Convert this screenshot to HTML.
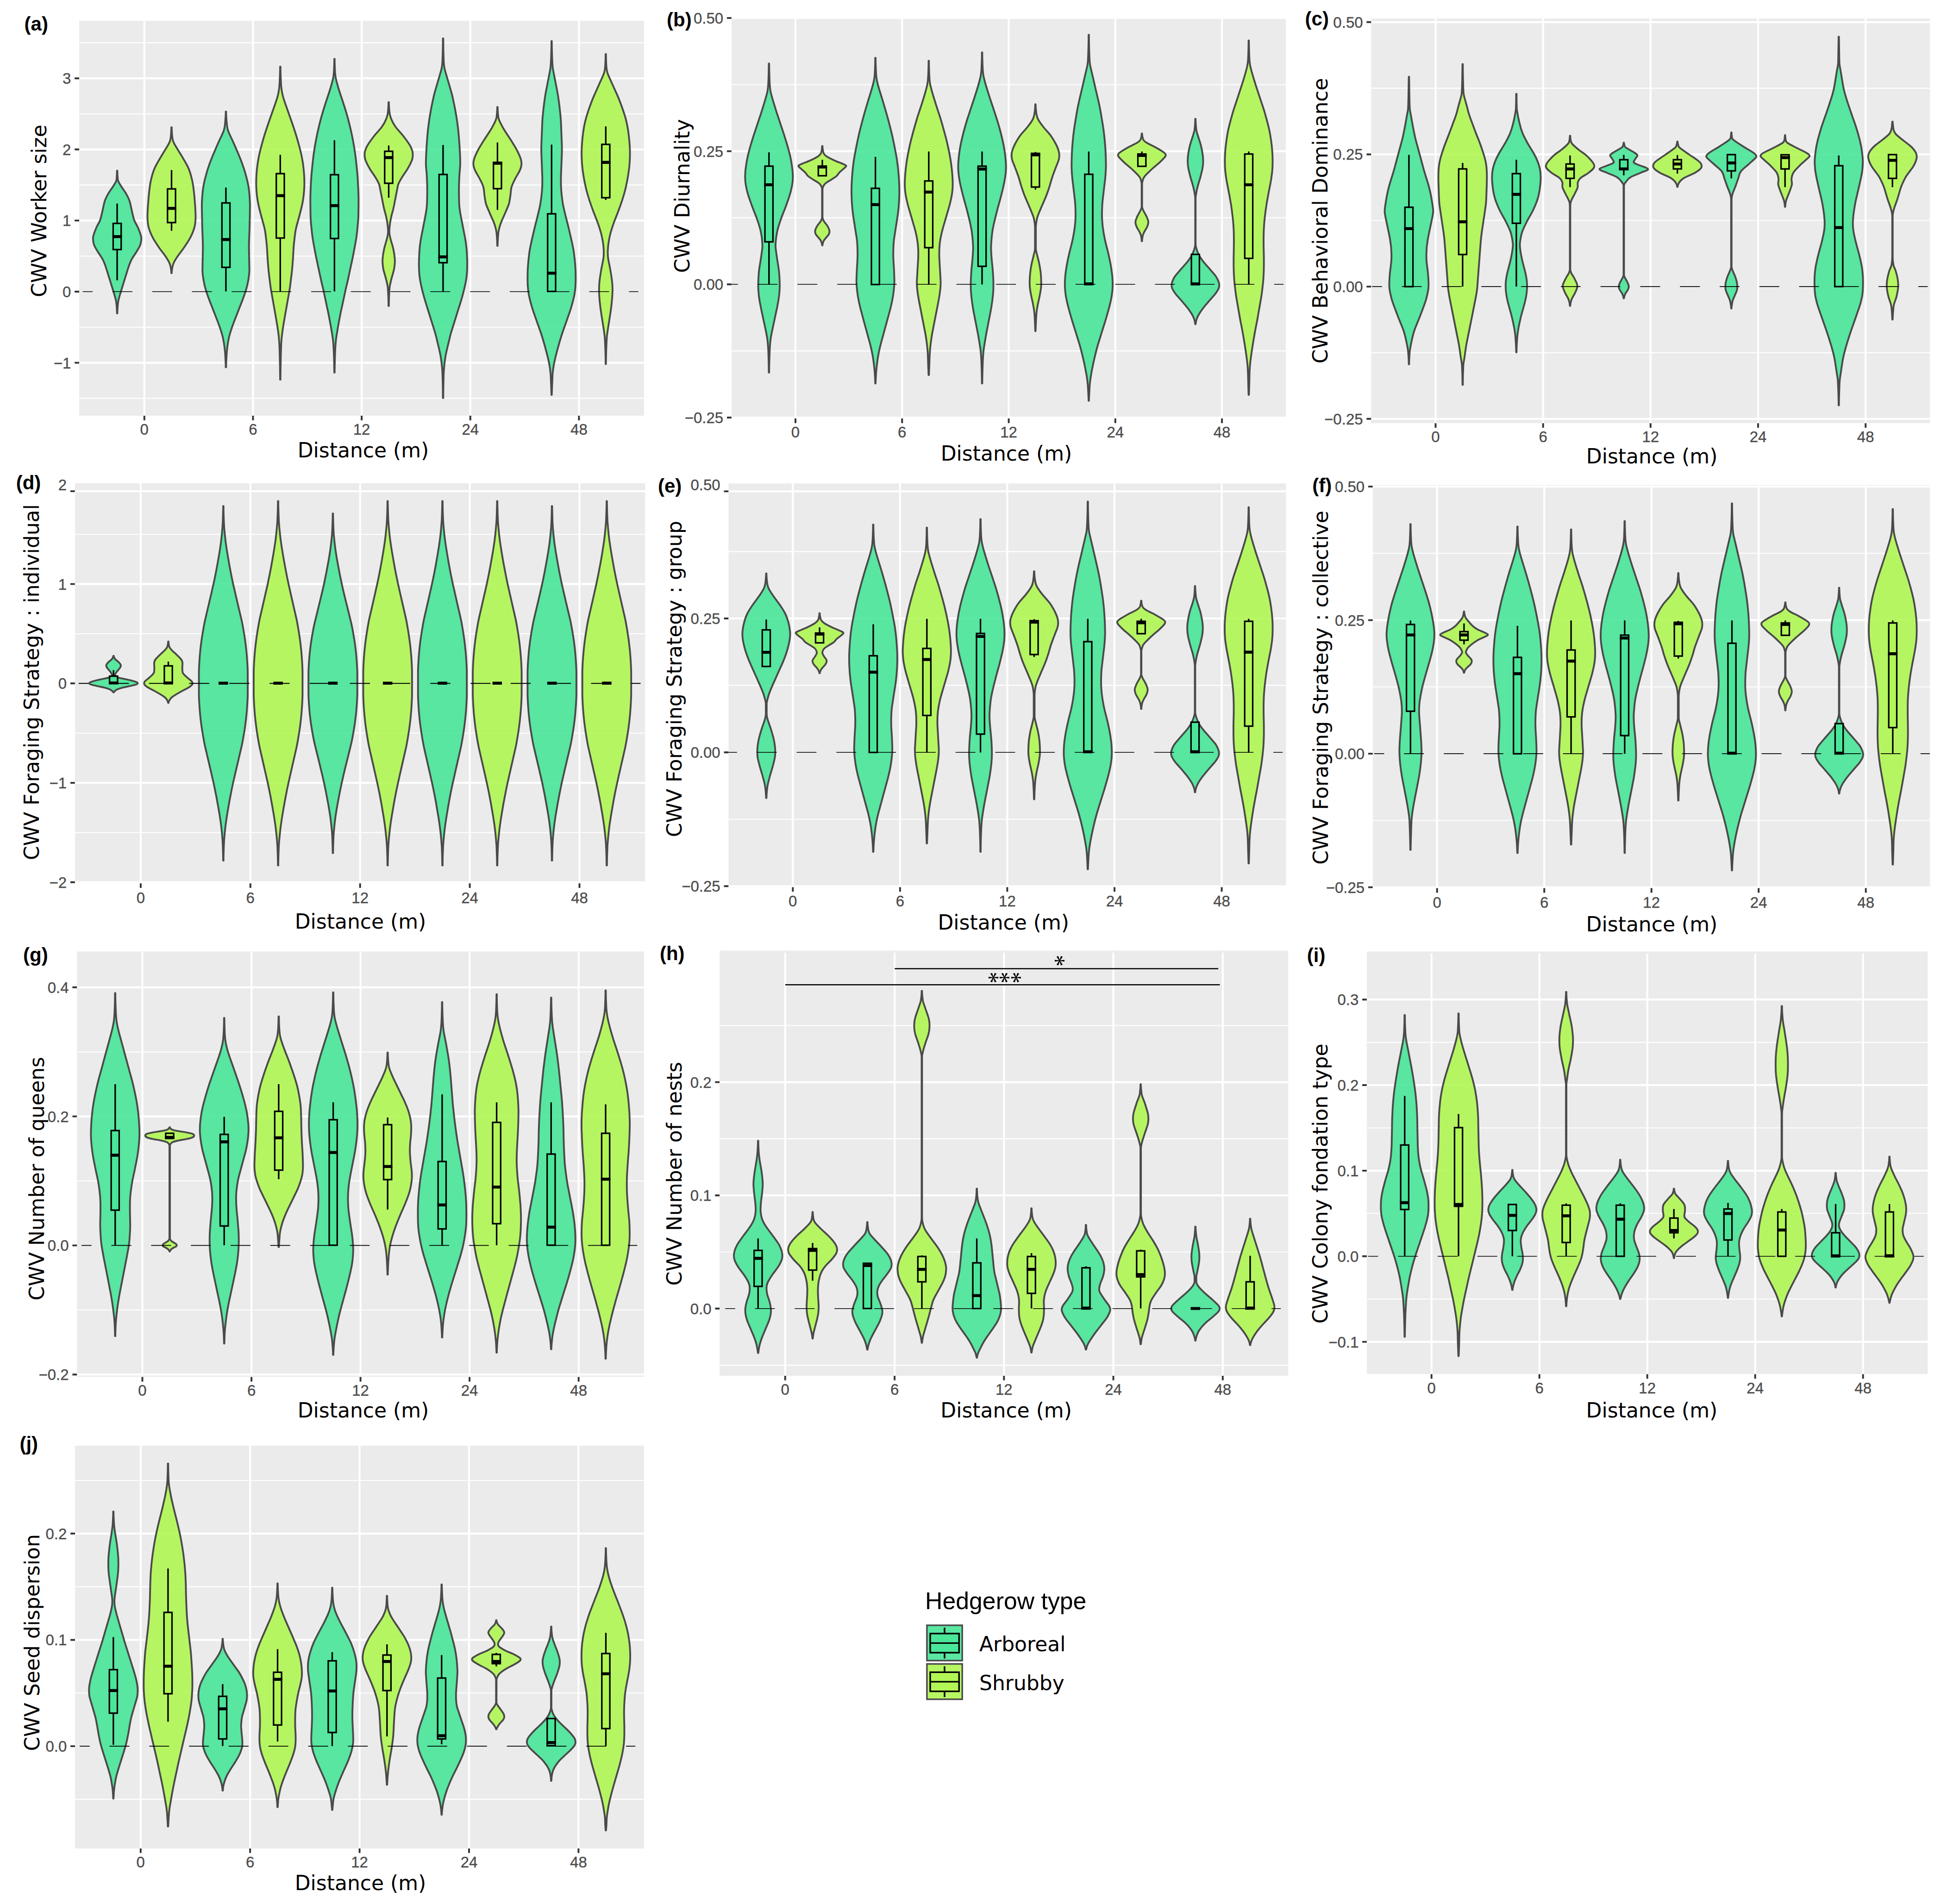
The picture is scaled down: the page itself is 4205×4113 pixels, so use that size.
<!DOCTYPE html>
<html lang="en"><head><meta charset="utf-8"><title>CWV violin plots</title>
<style>html,body{margin:0;padding:0;background:#fff}svg{display:block}</style></head><body>
<svg xmlns="http://www.w3.org/2000/svg" width="4205" height="4113" viewBox="0 0 4205 4113">
<rect width="4205" height="4113" fill="#fff"/>
<defs>
<clipPath id="cp_a"><rect x="171" y="44.7" width="1220.2" height="853.4"/></clipPath>
<clipPath id="cp_b"><rect x="1579.8" y="36.8" width="1197.5" height="867.3"/></clipPath>
<clipPath id="cp_c"><rect x="2961.2" y="39.8" width="1207.3" height="874.5"/></clipPath>
<clipPath id="cp_d"><rect x="161.8" y="1043.7" width="1231.8" height="864.5"/></clipPath>
<clipPath id="cp_e"><rect x="1573.3" y="1044.2" width="1204.3" height="872.2"/></clipPath>
<clipPath id="cp_f"><rect x="2964.8" y="1047.6" width="1203.8" height="871"/></clipPath>
<clipPath id="cp_g"><rect x="166.2" y="2055.2" width="1224.8" height="919.4"/></clipPath>
<clipPath id="cp_h"><rect x="1554.1" y="2053.3" width="1228.4" height="918.6"/></clipPath>
<clipPath id="cp_i"><rect x="2951.9" y="2055.2" width="1211.6" height="913.2"/></clipPath>
<clipPath id="cp_j"><rect x="162" y="3122.9" width="1229.2" height="870.1"/></clipPath>
</defs>
<g clip-path="url(#cp_a)">
<rect x="171" y="44.7" width="1220.2" height="853.4" fill="#ebebeb"/>
<path d="M171 92.4H1391.2M171 246H1391.2M171 399.6H1391.2M171 553.2H1391.2M171 706.8H1391.2M171 860.4H1391.2" stroke="#fff" stroke-width="2.1" fill="none"/>
<path d="M171 169.2H1391.2M171 322.8H1391.2M171 476.4H1391.2M171 783.6H1391.2M311.8 44.7V898.1M546.4 44.7V898.1M781.1 44.7V898.1M1015.8 44.7V898.1M1250.4 44.7V898.1" stroke="#fff" stroke-width="4.2" fill="none"/>
</g>
<g clip-path="url(#cp_a)" stroke="#4a4a4a" stroke-width="3.9" stroke-linejoin="round" fill-opacity="0.9">
<path d="M253.4 368.8c0 6.3 0.4 12.7 1 19c0.4 4.5 3.9 9 6.6 13.5c3.6 6.1 8.5 12.1 11.9 18.1c3.3 6 6.4 12 7.9 18.1c1.4 6 2.6 12 4 18c1.3 6.1 2.6 12.1 4.4 18.1c1.7 6 6.1 12 8.8 18.1c2.6 6 4.9 12 6.6 18c0.8 3 0.7 6.1 0.4 9.1c-0.5 4.5-1.1 9-3.5 13.5c-2.4 4.5-5.1 9.1-7.9 13.6c-2.8 4.5-6.4 9-8.8 13.5c-4.1 7.5-6.5 15.1-8.9 22.6c-2.3 7.5-4.7 15.1-7 22.6c-2.4 7.5-4.7 15-7 22.6c-1.9 6-3.7 12-5.3 18c-1.3 4.6-1.9 9.1-2.2 13.6c-0.5 6-1 12-1 18.1H252.7c0-6.1-0.5-12.1-1-18.1c-0.4-4.5-0.9-9-2.2-13.6c-1.6-6-3.4-12-5.3-18c-2.3-7.6-4.7-15.1-7-22.6c-2.4-7.5-4.7-15.1-7.1-22.6c-2.3-7.5-4.8-15.1-8.8-22.6c-2.4-4.5-6-9-8.8-13.5c-2.8-4.5-5.5-9.1-7.9-13.6c-2.4-4.5-3.1-9-3.5-13.5c-0.3-3-0.4-6.1 0.4-9.1c1.7-6 4-12 6.6-18c2.6-6.1 7.1-12.1 8.8-18.1c1.7-6 3-12 4.4-18.1c1.4-6 2.5-12 4-18c1.5-6.1 4.5-12.1 7.9-18.1c3.4-6 8.3-12 11.9-18.1c2.7-4.5 6.2-9 6.6-13.5c0.6-6.3 1-12.7 1-19Z" fill="#48e598"/>
<path d="M370.8 274.9c0 7.5 0.6 15 1.4 22.6c0.5 4.5 1.8 9 4.4 13.5c4.4 7.5 9.2 15.1 13.7 22.6c4.5 7.5 9 15 13.2 22.6c4.3 7.5 6.8 15 8.8 22.6c2.1 7.5 3.8 15 4.9 22.5c1 7.6 1.9 15.1 2.6 22.6c0.7 7.5 1.2 15.1 1.8 22.6c0.4 6 0.6 12 0.8 18.1c0.3 6-0.1 12-0.8 18c-0.7 6.1-2.5 12.1-4.9 18.1c-2.3 6-5.1 12-8.8 18.1c-3.7 6-7.6 12-11.9 18c-3.2 4.6-6.8 9.1-10.1 13.6c-3.3 4.5-6.3 9-8.8 13.5c-2.6 4.6-4.1 9.1-4.9 13.6c-0.7 4.2-1.4 8.4-1.4 12.6H370.1c0-4.2-0.7-8.4-1.4-12.6c-0.7-4.5-2.3-9-4.8-13.6c-2.6-4.5-5.6-9-8.8-13.5c-3.3-4.5-6.9-9-10.2-13.6c-4.3-6-8.2-12-11.9-18c-3.6-6.1-6.4-12.1-8.8-18.1c-2.3-6-4.1-12-4.8-18.1c-0.7-6-1.1-12-0.9-18c0.2-6.1 0.5-12.1 0.9-18.1c0.5-7.5 1.1-15.1 1.8-22.6c0.6-7.5 1.6-15 2.6-22.6c1-7.5 2.8-15 4.8-22.5c2.1-7.6 4.6-15.1 8.9-22.6c4.2-7.6 8.7-15.1 13.2-22.6c4.4-7.5 9.2-15.1 13.6-22.6c2.7-4.5 3.9-9 4.4-13.5c0.9-7.6 1.4-15.1 1.4-22.6Z" fill="#b0f653"/>
<path d="M488.3 241c0 8.3 0.6 16.6 1.4 24.8c0.5 6.1 1 12.1 3.5 18.1c3.7 9 8.4 18.1 12.3 27.1c3.3 7.5 6.6 15.1 9.7 22.6c3.2 7.5 6.1 15 8.8 22.6c2.8 7.5 5 15 7.1 22.6c2.1 7.5 3.9 15 5.3 22.5c1.3 7.6 2.1 15.1 2.6 22.6c0.5 7.5 1 15.1 0.9 22.6c-0.2 15.1-0.5 30.1-0.9 45.2c-0.4 15-1.6 30.1-1.3 45.1c0.1 7.6 0.3 15.1 0.4 22.6c0.2 7.5 0.3 15.1 0.5 22.6c0.1 7.5-1 15.1-2.2 22.6c-1.3 7.5-2.9 15-5.3 22.6c-2.5 7.5-5 15-8 22.6c-2.9 7.5-5.8 15-8.8 22.5c-2.9 7.6-5.8 15.1-8.8 22.6c-2.9 7.6-5.5 15.1-7.9 22.6c-2.4 7.5-4.1 15.1-5.3 22.6c-1.2 7.5-2.1 15-2.6 22.6c-0.7 10.2-1.4 20.4-1.4 30.7H487.6c-0.1-10.3-0.8-20.5-1.4-30.7c-0.6-7.6-1.5-15.1-2.7-22.6c-1.2-7.5-2.9-15.1-5.3-22.6c-2.4-7.5-5-15-7.9-22.6c-2.9-7.5-5.9-15-8.8-22.6c-2.9-7.5-5.9-15-8.8-22.5c-3-7.6-5.5-15.1-7.9-22.6c-2.5-7.6-4.1-15.1-5.3-22.6c-1.3-7.5-2.4-15.1-2.2-22.6c0.1-7.5 0.3-15.1 0.4-22.6c0.2-7.5 0.3-15 0.5-22.6c0.2-15-1-30.1-1.4-45.1c-0.3-15.1-0.7-30.1-0.9-45.2c0-7.5 0.4-15.1 0.9-22.6c0.5-7.5 1.4-15 2.7-22.6c1.3-7.5 3.1-15 5.3-22.5c2.1-7.6 4.3-15.1 7-22.6c2.7-7.6 5.7-15.1 8.8-22.6c3.2-7.5 6.4-15.1 9.7-22.6c3.9-9 8.6-18.1 12.3-27.1c2.5-6 3-12 3.6-18.1c0.7-8.2 1.4-16.5 1.4-24.8Z" fill="#48e598"/>
<path d="M605.7 143.9c0 10.5 0.5 21.1 1 31.6c0.3 7.5 0.8 15.1 2.2 22.6c1.3 7.5 3.5 15 6.1 22.6c2.7 7.5 5.3 15 8 22.6c2.6 7.5 5.2 15 7.9 22.5c2.6 7.6 5.1 15.1 7.5 22.6c2.4 7.5 4.5 15.1 6.6 22.6c2.1 7.5 4 15.1 5.7 22.6c1.7 7.5 2.9 15 4 22.6c1 7.5 1.7 15 2.2 22.6c0.4 7.5 0.6 15 0.4 22.5c-0.2 7.6-0.8 15.1-1.7 22.6c-1 7.5-2.2 15.1-4 22.6c-1.8 7.5-3.8 15.1-5.7 22.6c-2 7.5-4.4 15-6.2 22.6c-1.8 7.5-2.7 15-3.5 22.6c-0.9 7.5-1.7 15-2.2 22.5c-0.5 7.6-0.8 15.1-1.3 22.6c-0.6 7.5-1.1 15.1-1.8 22.6c-0.7 7.5-1.7 15.1-2.7 22.6c-0.9 7.5-1.7 15-3 22.6c-1.4 7.5-2.7 15-4 22.6c-1.3 7.5-2.6 15-4 22.5c-1.3 7.6-2.6 15.1-3.9 22.6c-1.3 7.6-2.5 15.1-3.5 22.6c-1.1 7.5-1.8 15.1-2.3 22.6c-0.4 7.5-0.6 15-0.8 22.6c-0.5 19.1-1 38.2-1 57.3H605c0-19.1-0.5-38.2-1-57.3c-0.2-7.6-0.4-15.1-0.9-22.6c-0.4-7.5-1.1-15.1-2.2-22.6c-1-7.5-2.2-15-3.5-22.6c-1.3-7.5-2.6-15-3.9-22.6c-1.4-7.5-2.7-15-4-22.5c-1.3-7.6-2.6-15.1-4-22.6c-1.3-7.6-2.1-15.1-3.1-22.6c-0.9-7.5-1.9-15.1-2.6-22.6c-0.7-7.5-1.2-15.1-1.8-22.6c-0.5-7.5-0.8-15-1.3-22.6c-0.5-7.5-1.3-15-2.2-22.5c-0.8-7.6-1.7-15.1-3.5-22.6c-1.8-7.6-4.2-15.1-6.2-22.6c-1.9-7.5-3.9-15.1-5.7-22.6c-1.8-7.5-3-15.1-4-22.6c-1-7.5-1.5-15-1.7-22.6c-0.2-7.5 0-15 0.4-22.5c0.5-7.6 1.2-15.1 2.2-22.6c1.1-7.6 2.3-15.1 4-22.6c1.7-7.5 3.6-15.1 5.7-22.6c2.1-7.5 4.2-15.1 6.6-22.6c2.4-7.5 4.9-15 7.5-22.6c2.6-7.5 5.3-15 7.9-22.5c2.7-7.6 5.3-15.1 8-22.6c2.6-7.6 4.8-15.1 6.1-22.6c1.4-7.5 1.9-15.1 2.2-22.6c0.5-10.5 1-21.1 1-31.6Z" fill="#b0f653"/>
<path d="M722.7 127.2c0 10.1 0.4 20.1 1 30.2c0.3 6.1 1.4 12.1 3 18.1c2 7.5 4.2 15.1 6.6 22.6c2.5 7.5 5.1 15 7.5 22.6c2.4 7.5 4.8 15 7.1 22.6c2.2 7.5 4.2 15 6.1 22.5c1.9 7.6 3.7 15.1 5.3 22.6c1.6 7.5 3.1 15.1 4.4 22.6c1.3 7.5 2.6 15.1 3.5 22.6c1 7.5 1.9 15 2.7 22.6c0.8 7.5 1.6 15 2.2 22.6c0.6 7.5 0.9 15 1.3 22.5c0.4 7.6 0.7 15.1 0.9 22.6c0.1 7.5 0.1 15.1 0 22.6c-0.1 7.5-0.2 15.1-0.4 22.6c-0.3 7.5-1.1 15-1.8 22.6c-0.7 7.5-1.5 15-2.6 22.6c-1.2 7.5-2.6 15-4 22.5c-1.4 7.6-2.8 15.1-4.4 22.6c-1.6 7.5-3.2 15.1-4.9 22.6c-1.6 7.5-3.2 15.1-4.8 22.6c-1.6 7.5-3.7 15-5.3 22.6c-1.6 7.5-3.2 15-4.8 22.6c-1.6 7.5-3.3 15-4.9 22.5c-1.6 7.6-3 15.1-4.4 22.6c-1.4 7.6-2.7 15.1-3.9 22.6c-1.3 7.5-2.5 15.1-3.1 22.6c-0.6 7.5-1.1 15-1.3 22.6c-0.5 14-1 28-1 42H722c0-14-0.5-28-1-42c-0.3-7.6-0.7-15.1-1.3-22.6c-0.6-7.5-1.8-15.1-3.1-22.6c-1.3-7.5-2.5-15-4-22.6c-1.4-7.5-2.7-15-4.4-22.6c-1.6-7.5-3.2-15-4.8-22.5c-1.6-7.6-3.2-15.1-4.8-22.6c-1.7-7.6-3.7-15.1-5.3-22.6c-1.6-7.5-3.3-15.1-4.9-22.6c-1.6-7.5-3.2-15.1-4.8-22.6c-1.6-7.5-3-15-4.4-22.6c-1.5-7.5-2.8-15-4-22.5c-1.2-7.6-1.9-15.1-2.6-22.6c-0.8-7.6-1.5-15.1-1.8-22.6c-0.3-7.5-0.4-15.1-0.4-22.6c-0.1-7.5-0.2-15.1 0-22.6c0.1-7.5 0.5-15 0.8-22.6c0.4-7.5 0.8-15 1.4-22.5c0.6-7.6 1.4-15.1 2.2-22.6c0.8-7.6 1.6-15.1 2.6-22.6c1-7.5 2.2-15.1 3.5-22.6c1.4-7.5 2.8-15.1 4.4-22.6c1.7-7.5 3.4-15 5.3-22.6c1.9-7.5 3.9-15 6.2-22.5c2.2-7.6 4.6-15.1 7-22.6c2.5-7.6 5.1-15.1 7.5-22.6c2.5-7.5 4.6-15.1 6.6-22.6c1.6-6 2.8-12 3.1-18.1c0.6-10.1 1-20.1 1-30.2Z" fill="#48e598"/>
<path d="M839.8 220.7c0 7.5 0.7 15 1.5 22.6c0.4 4.5 1.8 9 3.5 13.5c2.3 6 5.5 12 10.1 18.1c4.6 6 10.7 12 15.4 18c4.8 6.1 9.2 12.1 13.2 18.1c3.1 4.5 5.2 9 6.6 13.6c1.3 3.7 1.6 7.5 1.4 11.2c-0.2 3.8-0.7 7.6-2.2 11.3c-2.5 6.1-5.6 12.1-9.3 18.1c-3.6 6-8.3 12-11.9 18.1c-3.6 6-7.6 12-8.8 18c-1.5 7.6-2.9 15.1-4.4 22.6c-1.5 7.5-2.9 15.1-4.4 22.6c-1.5 7.5-4.1 15.1-5.7 22.6c-1.7 7.5-3 15-3.5 22.6c-0.3 3-0.5 6-0.5 9c0 4.5 1.2 9 2.2 13.6c1.8 7.5 4.5 15 6.2 22.5c1.7 7.6 2.9 15.1 3.5 22.6c0.3 3 0.2 6 0 9.1c-0.3 4.5-0.8 9-1.8 13.5c-1.6 7.5-4.3 15.1-6.1 22.6c-1.4 6-3.1 12-3.5 18.1c-0.9 12.8-1.5 25.6-1.5 38.3H839.1c0-12.7-0.5-25.5-1.4-38.3c-0.4-6.1-2.1-12.1-3.5-18.1c-1.8-7.5-4.5-15.1-6.2-22.6c-0.9-4.5-1.4-9-1.7-13.5c-0.2-3.1-0.3-6.1 0-9.1c0.6-7.5 1.8-15 3.5-22.6c1.7-7.5 4.4-15 6.2-22.5c1-4.6 2.2-9.1 2.2-13.6c0-3-0.3-6-0.5-9c-0.5-7.6-1.8-15.1-3.5-22.6c-1.6-7.5-4.2-15.1-5.7-22.6c-1.5-7.5-3-15.1-4.4-22.6c-1.5-7.5-3-15-4.4-22.6c-1.2-6-5.2-12-8.8-18c-3.7-6.1-8.3-12.1-11.9-18.1c-3.7-6-6.8-12-9.3-18.1c-1.5-3.7-2-7.5-2.2-11.3c-0.2-3.7 0.1-7.5 1.4-11.2c1.4-4.6 3.5-9.1 6.6-13.6c4-6 8.4-12 13.2-18.1c4.7-6 10.8-12 15.4-18c4.6-6.1 7.8-12.1 10.1-18.1c1.7-4.5 3.1-9 3.5-13.5c0.8-7.6 1.4-15.1 1.4-22.6Z" fill="#b0f653"/>
<path d="M957.3 82.9c0 15.8 0.3 31.6 0.9 47.4c0.3 7.6 0.9 15.1 3.1 22.6c2.2 7.5 4.4 15.1 6.6 22.6c2.2 7.5 4.4 15.1 6.6 22.6c2.2 7.5 3.7 15 5.3 22.6c1.6 7.5 3.1 15 4.4 22.6c1.4 7.5 2.5 15 3.6 22.5c1 7.6 1.9 15.1 2.6 22.6c0.7 7.5 1.2 15.1 1.8 22.6c0.5 7.5 0.9 15.1 1.3 22.6c0.4 7.5 0.6 15 0.4 22.6c-0.2 7.5-1.4 15-1.7 22.6c-0.4 7.5-0.8 15-0.9 22.5c-0.2 7.6-0.1 15.1 0 22.6c0.1 7.5 0.1 15.1 0.9 22.6c0.7 7.5 2 15.1 3.5 22.6c1.4 7.5 2.9 15 4.4 22.6c1.5 7.5 2.9 15 4.4 22.6c1.5 7.5 2.3 15 3.1 22.5c0.7 7.6 1 15.1 1.3 22.6c0.2 7.5 0.2 15.1 0 22.6c-0.3 7.5-0.9 15.1-2.2 22.6c-1.3 7.5-2.9 15-4.9 22.6c-1.9 7.5-3.8 15-6.1 22.6c-2.4 7.5-4.7 15-7.1 22.5c-2.3 7.6-4.7 15.1-7 22.6c-2.4 7.6-4.7 15.1-7.1 22.6c-2.3 7.5-3.8 15.1-5.7 22.6c-1.8 7.5-3.6 15-5.3 22.6c-1.6 7.5-2.6 15-3.5 22.6c-0.8 7.5-1.5 15-1.8 22.5c-0.5 17.4-0.9 34.7-0.9 52H956.6c0-17.3-0.4-34.6-1-52c-0.2-7.5-0.9-15-1.8-22.5c-0.8-7.6-1.8-15.1-3.5-22.6c-1.6-7.6-3.4-15.1-5.3-22.6c-1.8-7.5-3.3-15.1-5.7-22.6c-2.3-7.5-4.7-15-7-22.6c-2.4-7.5-4.7-15-7.1-22.6c-2.3-7.5-4.7-15-7-22.5c-2.4-7.6-4.2-15.1-6.2-22.6c-1.9-7.6-3.5-15.1-4.8-22.6c-1.3-7.5-2-15.1-2.2-22.6c-0.3-7.5-0.3-15.1 0-22.6c0.2-7.5 0.6-15 1.3-22.6c0.7-7.5 1.6-15 3.1-22.5c1.4-7.6 2.9-15.1 4.4-22.6c1.4-7.6 2.9-15.1 4.4-22.6c1.4-7.5 2.8-15.1 3.5-22.6c0.7-7.5 0.8-15.1 0.9-22.6c0.1-7.5 0.1-15 0-22.6c-0.2-7.5-0.5-15-0.9-22.5c-0.4-7.6-1.5-15.1-1.8-22.6c-0.2-7.6 0.1-15.1 0.5-22.6c0.4-7.5 0.8-15.1 1.3-22.6c0.5-7.5 1.1-15.1 1.8-22.6c0.6-7.5 1.6-15 2.6-22.6c1-7.5 2.2-15 3.5-22.5c1.3-7.6 2.8-15.1 4.4-22.6c1.6-7.6 3.1-15.1 5.3-22.6c2.2-7.5 4.4-15.1 6.6-22.6c2.2-7.5 4.4-15.1 6.6-22.6c2.2-7.5 2.8-15 3.1-22.6c0.6-15.8 1-31.6 1-47.4Z" fill="#48e598"/>
<path d="M1074.7 231.1c0 7 0.6 14.1 1.4 21.2c0.6 4.5 2.6 9 4.9 13.5c3 6.1 6.2 12.1 10.1 18.1c3.8 6 8.1 12 11.9 18.1c3.8 6 7.4 12 11 18c3.6 6.1 6.2 12.1 8.8 18.1c2.3 5.3 3.6 10.5 3.5 15.8c-0.1 5.3-1.8 10.6-4.4 15.8c-3 6-7.2 12.1-10.1 18.1c-2.9 6-6.2 12-7.5 18.1c-1.3 6-1.2 12-2.2 18c-1 6-1.4 12.1-3.5 18.1c-2.2 6-4.9 12-7.5 18.1c-2.6 6-5.4 12-7.9 18c-2.6 6-4.5 12.1-5.8 18.1c-0.9 4.5-1.4 9-1.7 13.5c-0.5 7.1-1 14.2-1 21.3H1074c0-7.1-0.5-14.2-1-21.3c-0.3-4.5-0.8-9-1.7-13.5c-1.3-6-3.2-12.1-5.7-18.1c-2.6-6-5.4-12-8-18c-2.6-6.1-5.3-12.1-7.5-18.1c-2.1-6-2.5-12.1-3.5-18.1c-1-6-0.9-12-2.2-18c-1.3-6.1-4.5-12.1-7.5-18.1c-2.9-6-7.1-12.1-10.1-18.1c-2.6-5.2-4.3-10.5-4.4-15.8c-0.1-5.3 1.2-10.5 3.5-15.8c2.6-6 5.3-12 8.8-18.1c3.6-6 7.2-12 11-18c3.9-6.1 8.1-12.1 11.9-18.1c3.9-6 7.1-12 10.2-18.1c2.3-4.5 4.3-9 4.8-13.5c0.8-7.1 1.4-14.2 1.4-21.2Z" fill="#b0f653"/>
<path d="M1191.7 88.8c0 13.8 0.4 27.7 1 41.5c0.3 7.6 0.7 15.1 2.2 22.6c1.4 7.5 2.9 15.1 4.4 22.6c1.4 7.5 2.9 15.1 4.4 22.6c1.4 7.5 2.5 15 3.5 22.6c1 7.5 1.9 15 2.6 22.6c0.8 7.5 1.5 15 1.8 22.5c0.3 7.6 0.6 15.1 0.9 22.6c0.3 7.5 0.6 15.1 0.9 22.6c0.3 7.5 0.3 15.1 0 22.6c-0.3 7.5-0.6 15-0.9 22.6c-0.3 7.5-0.6 15-0.9 22.6c-0.3 7.5-0.2 15 0 22.5c0.2 7.6 0.9 15.1 1.8 22.6c0.8 7.5 1.8 15.1 3.5 22.6c1.6 7.5 3.4 15.1 5.3 22.6c1.9 7.5 3.9 15 5.7 22.6c1.8 7.5 3.5 15 5.3 22.6c1.7 7.5 3.4 15 4.8 22.5c1.5 7.6 2.3 15.1 3.1 22.6c0.8 7.5 1.4 15.1 1.8 22.6c0.4 7.5 0.4 15.1 0.4 22.6c0 7.5-0.4 15-1.3 22.6c-0.9 7.5-2.4 15-4.4 22.6c-2 7.5-4 15-6.6 22.5c-2.7 7.6-5.3 15.1-7.9 22.6c-2.7 7.6-5.3 15.1-8 22.6c-2.6 7.5-4.8 15.1-7 22.6c-2.2 7.5-4.2 15-6.2 22.6c-2 7.5-3.7 15-5.3 22.6c-1.5 7.5-2.5 15-3.1 22.5c-0.4 6.1-0.6 12.1-0.8 18.1c-0.4 9-0.8 18.1-1 27.1H1191c-0.3-9-0.6-18.1-1-27.1c-0.2-6-0.4-12-0.9-18.1c-0.5-7.5-1.5-15-3-22.5c-1.6-7.6-3.4-15.1-5.3-22.6c-2-7.6-4-15.1-6.2-22.6c-2.2-7.5-4.4-15.1-7-22.6c-2.7-7.5-5.3-15-8-22.6c-2.6-7.5-5.2-15-7.9-22.6c-2.6-7.5-4.6-15-6.6-22.5c-2-7.6-3.5-15.1-4.4-22.6c-0.9-7.6-1.3-15.1-1.3-22.6c0-7.5 0-15.1 0.4-22.6c0.4-7.5 1-15.1 1.8-22.6c0.8-7.5 1.6-15 3.1-22.6c1.4-7.5 3.1-15 4.8-22.5c1.7-7.6 3.5-15.1 5.3-22.6c1.8-7.6 3.8-15.1 5.7-22.6c1.9-7.5 3.7-15.1 5.3-22.6c1.6-7.5 2.6-15.1 3.5-22.6c0.9-7.5 1.6-15 1.8-22.6c0.2-7.5 0.3-15 0-22.5c-0.3-7.6-0.6-15.1-0.9-22.6c-0.3-7.6-0.6-15.1-0.9-22.6c-0.3-7.5-0.3-15.1 0-22.6c0.3-7.5 0.6-15.1 0.9-22.6c0.3-7.5 0.6-15 0.9-22.6c0.3-7.5 1-15 1.8-22.5c0.7-7.6 1.6-15.1 2.6-22.6c1-7.6 2-15.1 3.5-22.6c1.5-7.5 3-15.1 4.4-22.6c1.5-7.5 3-15.1 4.4-22.6c1.5-7.5 1.9-15 2.2-22.6c0.6-13.8 1-27.7 1-41.5Z" fill="#48e598"/>
<path d="M1308.7 116.8c0 9 0.4 18.1 0.9 27.1c0.4 6 1.3 12 4 18.1c3.4 7.5 6.8 15 10.1 22.5c3.4 7.6 6.8 15.1 10.2 22.6c3.3 7.5 6 15.1 8.8 22.6c2.7 7.5 5.2 15.1 7.5 22.6c2.2 7.5 3.9 15 5.2 22.6c1.4 7.5 2.3 15 3.1 22.6c0.8 7.5 1.5 15 1.8 22.5c0.3 7.6 0.3 15.1 0 22.6c-0.3 7.5-0.8 15.1-1.8 22.6c-0.9 7.5-2.1 15.1-3.5 22.6c-1.4 7.5-2.9 15-4.8 22.6c-1.9 7.5-4.1 15-6.6 22.6c-2.5 7.5-5.2 15-8 22.5c-2.8 7.6-5.9 15.1-8.8 22.6c-2.8 7.5-5.3 15.1-7.5 22.6c-2.2 7.5-3.6 15.1-4.8 22.6c-1 6-1.6 12-1.8 18.1c-0.2 6-0.1 12 0.9 18c1.2 7.5 3.1 15.1 4.4 22.6c1.3 7.5 2.5 15.1 3.5 22.6c1 7.5 1.5 15 1.4 22.6c-0.1 7.5-0.6 15-1.4 22.6c-0.7 7.5-1.4 15-2.6 22.5c-1.2 7.6-2.4 15.1-3.5 22.6c-1.2 7.6-2.4 15.1-3.5 22.6c-1 6-1.5 12.1-1.8 18.1c-0.8 16.8-1.4 33.7-1.4 50.6H1308c0-16.9-0.6-33.8-1.4-50.6c-0.3-6-0.9-12.1-1.8-18.1c-1.2-7.5-2.3-15-3.5-22.6c-1.2-7.5-2.4-15-3.5-22.6c-1.2-7.5-1.9-15-2.7-22.5c-0.8-7.6-1.2-15.1-1.3-22.6c-0.1-7.6 0.3-15.1 1.3-22.6c1-7.5 2.2-15.1 3.5-22.6c1.3-7.5 3.2-15.1 4.4-22.6c1-6 1.1-12 0.9-18c-0.2-6.1-0.8-12.1-1.7-18.1c-1.3-7.5-2.7-15.1-4.9-22.6c-2.2-7.5-4.6-15.1-7.5-22.6c-2.8-7.5-6-15-8.8-22.6c-2.8-7.5-5.4-15-7.9-22.5c-2.5-7.6-4.7-15.1-6.6-22.6c-1.9-7.6-3.5-15.1-4.9-22.6c-1.3-7.5-2.6-15.1-3.5-22.6c-0.9-7.5-1.4-15.1-1.7-22.6c-0.3-7.5-0.4-15 0-22.6c0.3-7.5 0.9-15 1.7-22.5c0.8-7.6 1.8-15.1 3.1-22.6c1.3-7.6 3.1-15.1 5.3-22.6c2.2-7.5 4.7-15.1 7.5-22.6c2.7-7.5 5.4-15.1 8.8-22.6c3.4-7.5 6.7-15 10.1-22.6c3.4-7.5 6.8-15 10.1-22.5c2.7-6.1 3.6-12.1 4-18.1c0.6-9 1-18.1 1-27.1Z" fill="#b0f653"/>
</g>
<g clip-path="url(#cp_a)" stroke="#000" fill="none">
<path d="M253 439.7V482.6M253 539.1V605.5" stroke-width="3.3"/>
<rect x="244.4" y="482.6" width="17.3" height="56.5" stroke-width="3.3" fill="#48e598" fill-opacity="0.9"/>
<path d="M242.8 511.1H263.3" stroke-width="6.4"/>
<path d="M370.5 367.5V408.1M370.5 480.8V498.4" stroke-width="3.3"/>
<rect x="361.8" y="408.1" width="17.3" height="72.7" stroke-width="3.3" fill="#b0f653" fill-opacity="0.9"/>
<path d="M360.2 450.1H380.7" stroke-width="6.4"/>
<path d="M487.9 405V438.4M487.9 577.5V629.4" stroke-width="3.3"/>
<rect x="479.3" y="438.4" width="17.3" height="139.1" stroke-width="3.3" fill="#48e598" fill-opacity="0.9"/>
<path d="M477.7 517.4H498.2" stroke-width="6.4"/>
<path d="M605.3 334.5V375.1M605.3 514.3V629.4" stroke-width="3.3"/>
<rect x="596.7" y="375.1" width="17.3" height="139.1" stroke-width="3.3" fill="#b0f653" fill-opacity="0.9"/>
<path d="M595.1 422.6H615.6" stroke-width="6.4"/>
<path d="M722.3 302.9V377.4M722.3 515.2V629.4" stroke-width="3.3"/>
<rect x="713.7" y="377.4" width="17.3" height="137.8" stroke-width="3.3" fill="#48e598" fill-opacity="0.9"/>
<path d="M712.1 444.2H732.6" stroke-width="6.4"/>
<path d="M839.5 314.2V326.8M839.5 395.9V427.1" stroke-width="3.3"/>
<rect x="830.8" y="326.8" width="17.3" height="69.1" stroke-width="3.3" fill="#b0f653" fill-opacity="0.9"/>
<path d="M829.2 340.4H849.7" stroke-width="6.4"/>
<path d="M956.9 313.3V376.9M956.9 567.6V629.4" stroke-width="3.3"/>
<rect x="948.3" y="376.9" width="17.3" height="190.6" stroke-width="3.3" fill="#48e598" fill-opacity="0.9"/>
<path d="M946.7 554.9H967.2" stroke-width="6.4"/>
<path d="M1074.4 307.8V350.7M1074.4 407.7V453.3" stroke-width="3.3"/>
<rect x="1065.7" y="350.7" width="17.3" height="56.9" stroke-width="3.3" fill="#b0f653" fill-opacity="0.9"/>
<path d="M1064.1 352.6H1084.6" stroke-width="6.4"/>
<path d="M1191.3 312.4V461.9" stroke-width="3.3"/>
<rect x="1182.7" y="461.9" width="17.3" height="167.6" stroke-width="3.3" fill="#48e598" fill-opacity="0.9"/>
<path d="M1181.1 590.1H1201.6" stroke-width="6.4"/>
<path d="M1308.3 273.1V311.9M1308.3 427.1V432.1" stroke-width="3.3"/>
<rect x="1299.7" y="311.9" width="17.3" height="115.2" stroke-width="3.3" fill="#b0f653" fill-opacity="0.9"/>
<path d="M1298.1 350.7H1318.6" stroke-width="6.4"/>
</g>
<path d="M178.6 630H1378.6" stroke="#000" stroke-width="1.6" stroke-dasharray="42.9 42.9" stroke-dashoffset="21.4" fill="none" clip-path="url(#cp_a)"/>
<path d="M161.2 169.2H171M161.2 322.8H171M161.2 476.4H171M161.2 630H171M161.2 783.6H171M311.8 898.1V907.9M546.4 898.1V907.9M781.1 898.1V907.9M1015.8 898.1V907.9M1250.4 898.1V907.9" stroke="#333333" stroke-width="3.9" fill="none"/>
<g font-family='"Liberation Sans", Arial, sans-serif' font-size="33" fill="#4d4d4d" stroke="#4d4d4d" stroke-width="0.4">
<text x="153.4" y="181.1" text-anchor="end">3</text>
<text x="153.4" y="334.7" text-anchor="end">2</text>
<text x="153.4" y="488.3" text-anchor="end">1</text>
<text x="153.4" y="641.9" text-anchor="end">0</text>
<text x="153.4" y="795.5" text-anchor="end">−1</text>
<text x="311.8" y="938.5" text-anchor="middle">0</text>
<text x="546.4" y="938.5" text-anchor="middle">6</text>
<text x="781.1" y="938.5" text-anchor="middle">12</text>
<text x="1015.8" y="938.5" text-anchor="middle">24</text>
<text x="1250.4" y="938.5" text-anchor="middle">48</text>
</g>
<g font-family='"DejaVu Sans", "Liberation Sans", sans-serif' font-size="44" fill="#000">
<text x="784.5" y="988.3" text-anchor="middle">Distance (m)</text>
<text transform="translate(100 455.6) rotate(-90)" text-anchor="middle">CWV Worker size</text>
</g>
<text x="52.6" y="66.3" font-family='"Liberation Sans", Arial, sans-serif' font-size="42" font-weight="bold" fill="#000">(a)</text>
<g clip-path="url(#cp_b)">
<rect x="1579.8" y="36.8" width="1197.5" height="867.3" fill="#ebebeb"/>
<path d="M1579.8 182.8H2777.3M1579.8 470.4H2777.3M1579.8 758.1H2777.3" stroke="#fff" stroke-width="2.1" fill="none"/>
<path d="M1579.8 38.9H2777.3M1579.8 326.6H2777.3M1579.8 902H2777.3M1718 36.8V904.1M1948.3 36.8V904.1M2178.6 36.8V904.1M2408.8 36.8V904.1M2639.1 36.8V904.1" stroke="#fff" stroke-width="4.2" fill="none"/>
</g>
<g clip-path="url(#cp_b)" stroke="#4a4a4a" stroke-width="3.9" stroke-linejoin="round" fill-opacity="0.9">
<path d="M1661.1 137.1c0 12.8 0.5 25.6 1 38.4c0.3 7.5 0.6 15.1 2.2 22.6c1.6 7.5 3.9 15 6.2 22.6c2.3 7.5 4.5 15 7 22.6c2.5 7.5 5 15 7.5 22.5c2.5 7.6 5 15.1 7.5 22.6c2.5 7.5 4.7 15.1 7 22.6c2.3 7.5 4.3 15.1 6.2 22.6c1.9 7.5 3.2 15 4.4 22.6c1.3 7.5 1.9 15 2.2 22.6c0.3 7.5-0.3 15-1.8 22.5c-1.4 7.6-3.2 15.1-5.7 22.6c-2.5 7.5-5.1 15.1-7.9 22.6c-2.8 7.5-6 15.1-8.8 22.6c-2.8 7.5-5.3 15-7.5 22.6c-2.2 7.5-3.4 15-4.4 22.6c-1 7.5-1.8 15-0.9 22.5c0.9 7.6 2 15.1 3.1 22.6c1.1 7.5 2.5 15.1 3.5 22.6c1.1 7.5 1.4 15.1 1.8 22.6c0.3 7.5 0.4 15 0 22.6c-0.5 7.5-1.3 15-2.7 22.6c-1.3 7.5-2.7 15-4.4 22.5c-1.6 7.6-3.2 15.1-4.8 22.6c-1.6 7.6-3.2 15.1-4.8 22.6c-1.7 7.5-2.9 15.1-3.6 22.6c-0.6 7.5-1 15-1.3 22.6c-0.5 14-1 28-1 42H1660.4c0-14-0.5-28-0.9-42c-0.3-7.6-0.7-15.1-1.4-22.6c-0.6-7.5-1.9-15.1-3.5-22.6c-1.6-7.5-3.2-15-4.8-22.6c-1.6-7.5-3.3-15-4.9-22.6c-1.6-7.5-3-15-4.4-22.5c-1.4-7.6-2.2-15.1-2.6-22.6c-0.5-7.6-0.4-15.1 0-22.6c0.3-7.5 0.7-15.1 1.7-22.6c1.1-7.5 2.4-15.1 3.6-22.6c1.1-7.5 2.2-15 3.1-22.6c0.8-7.5 0-15-0.9-22.5c-1-7.6-2.2-15.1-4.4-22.6c-2.2-7.6-4.7-15.1-7.5-22.6c-2.9-7.5-6-15.1-8.8-22.6c-2.9-7.5-5.4-15.1-8-22.6c-2.5-7.5-4.2-15-5.7-22.6c-1.4-7.5-2-15-1.7-22.5c0.2-7.6 0.9-15.1 2.2-22.6c1.2-7.6 2.5-15.1 4.4-22.6c1.9-7.5 3.8-15.1 6.1-22.6c2.3-7.5 4.6-15.1 7.1-22.6c2.5-7.5 5-15 7.5-22.6c2.5-7.5 5-15 7.5-22.5c2.4-7.6 4.7-15.1 7-22.6c2.3-7.6 4.6-15.1 6.2-22.6c1.6-7.5 1.8-15.1 2.2-22.6c0.5-12.8 0.9-25.6 0.9-38.4Z" fill="#48e598"/>
<path d="M1776.3 315.5c0 4.5 0.8 9.1 1.9 13.6c0.7 3 3 6 7.5 9c4.4 3 10.9 6 17.6 9c5 2.3 11.5 4.6 16.7 6.8c3.8 1.7 8.5 3.3 7.5 5c-1.1 1.8-3.3 3.6-5.3 5.4c-2.9 2.6-6 5.1-8.8 7.7c-3.3 3-3.6 6-7.5 9c-2.9 2.3-6.6 4.5-10.1 6.8c-3.5 2.2-7.7 4.5-11 6.8c-3.4 2.2-5.1 4.5-6.2 6.7c-1.1 2.3-2.2 4.6-2.2 6.8c0 20.3 0 40.7 0 61c0 3 1.3 6 3.1 9c1.7 3 5.1 6 7 9.1c1.9 3 3.4 6 4.4 9c0.6 1.8 0.7 3.6 0.5 5.4c-0.3 2-0.8 3.9-2.2 5.9c-1.7 2.2-4 4.5-5.8 6.8c-1.7 2.2-3.9 4.5-4.8 6.7c-1.1 3-2.3 6.1-2.3 9.1H1775.6c0-3-1.1-6.1-2.3-9.1c-0.8-2.2-3.1-4.5-4.8-6.7c-1.8-2.3-4.1-4.6-5.7-6.8c-1.5-2-2-3.9-2.3-5.9c-0.2-1.8-0.1-3.6 0.5-5.4c1-3 2.5-6 4.4-9c1.9-3.1 5.3-6.1 7-9.1c1.8-3 3.1-6 3.1-9c0-20.3 0-40.7 0-61c0-2.2-1.1-4.5-2.2-6.8c-1.1-2.2-2.8-4.5-6.1-6.7c-3.4-2.3-7.5-4.6-11.1-6.8c-3.5-2.3-7.1-4.5-10.1-6.8c-3.9-3-4.2-6-7.5-9c-2.7-2.6-5.9-5.1-8.8-7.7c-2-1.8-4.2-3.6-5.3-5.4c-1-1.7 3.7-3.3 7.5-5c5.2-2.2 11.7-4.5 16.8-6.8c6.7-3 13.2-6 17.6-9c4.4-3 6.7-6 7.5-9c1.1-4.5 1.8-9.1 1.8-13.6Z" fill="#b0f653"/>
<path d="M1891 124.9c0 10.9 0.5 21.7 1 32.5c0.3 6.1 0.8 12.1 2.2 18.1c1.7 7.5 3.9 15.1 6.2 22.6c2.3 7.5 4.8 15 7 22.6c2.3 7.5 4.5 15 6.6 22.6c2.2 7.5 4.2 15 6.2 22.5c2 7.6 4 15.1 5.7 22.6c1.8 7.5 3.3 15.1 4.9 22.6c1.5 7.5 3 15.1 4.4 22.6c1.4 7.5 2.5 15 3.5 22.6c0.9 7.5 1.6 15 2.2 22.6c0.6 7.5 1 15 1.3 22.5c0.3 7.6 0.2 15.1 0 22.6c-0.2 7.5-0.6 15.1-1.3 22.6c-0.7 7.5-1.5 15.1-2.7 22.6c-1.1 7.5-2.3 15-3.5 22.6c-1.1 7.5-2.3 15-3.5 22.6c-1.2 7.5-1.5 15-1.8 22.5c-0.2 7.6-0.3 15.1 0 22.6c0.4 7.5 1 15.1 1.4 22.6c0.3 7.5 0.7 15.1 0.8 22.6c0.2 7.5-0.4 15-1.3 22.6c-0.8 7.5-1.9 15-3.5 22.6c-1.6 7.5-3.2 15-5.3 22.5c-2 7.6-4.1 15.1-6.2 22.6c-2 7.6-4.1 15.1-6.1 22.6c-2.1 7.5-4.1 15.1-6.2 22.6c-2 7.5-3.7 15-5.3 22.6c-1.5 7.5-2.6 15-3.5 22.6c-0.9 7.5-1.7 15-2.2 22.5c-0.4 6.8-0.8 13.6-1 20.4H1890.3c-0.1-6.8-0.5-13.6-0.9-20.4c-0.5-7.5-1.3-15-2.2-22.5c-0.9-7.6-2-15.1-3.6-22.6c-1.5-7.6-3.2-15.1-5.2-22.6c-2.1-7.5-4.2-15.1-6.2-22.6c-2.1-7.5-4.1-15-6.2-22.6c-2-7.5-4.1-15-6.1-22.6c-2.1-7.5-3.7-15-5.3-22.5c-1.6-7.6-2.7-15.1-3.5-22.6c-0.9-7.6-1.5-15.1-1.4-22.6c0.2-7.5 0.5-15.1 0.9-22.6c0.4-7.5 1-15.1 1.3-22.6c0.4-7.5 0.3-15 0-22.6c-0.2-7.5-0.6-15-1.7-22.5c-1.2-7.6-2.4-15.1-3.6-22.6c-1.1-7.6-2.3-15.1-3.5-22.6c-1.1-7.5-1.9-15.1-2.6-22.6c-0.7-7.5-1.1-15.1-1.3-22.6c-0.3-7.5-0.3-15 0-22.6c0.2-7.5 0.7-15 1.3-22.5c0.6-7.6 1.2-15.1 2.2-22.6c0.9-7.6 2.1-15.1 3.5-22.6c1.4-7.5 2.9-15.1 4.4-22.6c1.6-7.5 3.1-15.1 4.9-22.6c1.7-7.5 3.7-15 5.7-22.6c2-7.5 4-15 6.1-22.5c2.2-7.6 4.4-15.1 6.7-22.6c2.2-7.6 4.7-15.1 7-22.6c2.3-7.5 4.4-15.1 6.2-22.6c1.3-6 1.9-12 2.2-18.1c0.5-10.8 0.9-21.6 0.9-32.5Z" fill="#48e598"/>
<path d="M2006.2 131.2c0 11.8 0.4 23.5 1 35.3c0.3 6 0.8 12 2.2 18c1.7 7.6 3.8 15.1 6.2 22.6c2.3 7.5 4.6 15.1 7 22.6c2.4 7.5 5.1 15.1 7.5 22.6c2.3 7.5 4.5 15 6.6 22.6c2.1 7.5 4.2 15 6.2 22.6c1.9 7.5 3.6 15 5.2 22.5c1.7 7.6 3.2 15.1 4.4 22.6c1.3 7.5 2.3 15.1 3.1 22.6c0.9 7.5 1.4 15.1 1.8 22.6c0.3 6 0.3 12 0 18.1c-0.3 6-1 12-2.2 18c-1.5 7.5-3.1 15.1-5.3 22.6c-2.2 7.5-4.4 15.1-6.6 22.6c-2.2 7.5-4.4 15-6.6 22.6c-2.2 7.5-3.8 15-5.3 22.6c-1.5 7.5-2.3 15-2.6 22.5c-0.3 7.6-0.5 15.1 0 22.6c0.4 7.5 0.8 15.1 1.3 22.6c0.4 7.5 0.9 15.1 1.3 22.6c0.4 7.5 0 15-0.9 22.6c-0.9 7.5-2 15-3.5 22.6c-1.5 7.5-2.9 15-4.4 22.5c-1.5 7.6-2.9 15.1-4.4 22.6c-1.5 7.6-2.9 15.1-4.4 22.6c-1.5 7.5-2.5 15.1-3.5 22.6c-1 7.5-1.8 15-2.2 22.6c-0.5 7.5-0.6 15-0.9 22.6c-0.3 8.2-0.7 16.5-1 24.8H2005.5c-0.3-8.3-0.6-16.6-1-24.8c-0.3-7.6-0.4-15.1-0.8-22.6c-0.5-7.6-1.2-15.1-2.2-22.6c-1-7.5-2.1-15.1-3.6-22.6c-1.4-7.5-2.9-15-4.4-22.6c-1.4-7.5-2.9-15-4.4-22.6c-1.4-7.5-2.9-15-4.4-22.5c-1.4-7.6-2.6-15.1-3.5-22.6c-0.9-7.6-1.3-15.1-0.9-22.6c0.5-7.5 0.9-15.1 1.3-22.6c0.5-7.5 0.9-15.1 1.4-22.6c0.4-7.5 0.3-15 0-22.6c-0.3-7.5-1.2-15-2.7-22.5c-1.4-7.6-3.1-15.1-5.3-22.6c-2.2-7.6-4.4-15.1-6.6-22.6c-2.2-7.5-4.4-15.1-6.6-22.6c-2.2-7.5-3.8-15.1-5.3-22.6c-1.2-6-1.9-12-2.2-18c-0.3-6.1-0.3-12.1 0-18.1c0.4-7.5 1-15.1 1.8-22.6c0.8-7.5 1.8-15.1 3.1-22.6c1.3-7.5 2.7-15 4.4-22.6c1.6-7.5 3.3-15 5.3-22.5c1.9-7.6 4-15.1 6.1-22.6c2.2-7.6 4.3-15.1 6.6-22.6c2.4-7.5 5.1-15.1 7.5-22.6c2.5-7.5 4.8-15.1 7.1-22.6c2.3-7.5 4.4-15 6.1-22.6c1.4-6 2-12 2.2-18c0.6-11.8 1-23.5 1-35.3Z" fill="#b0f653"/>
<path d="M2121.4 113.2c0 11.7 0.4 23.5 1 35.2c0.3 6 0.8 12 2.2 18.1c1.7 7.5 3.8 15 6.1 22.6c2.3 7.5 4.6 15 7.1 22.5c2.5 7.6 5 15.1 7.5 22.6c2.5 7.5 5 15.1 7.4 22.6c2.5 7.5 4.6 15.1 6.7 22.6c2 7.5 3.9 15 5.7 22.6c1.7 7.5 3.1 15 4.4 22.6c1.2 7.5 2 15 2.6 22.5c0.5 6.1 0.7 12.1 0.5 18.1c-0.2 6-0.8 12-1.8 18.1c-1.2 7.5-2.6 15-4.4 22.6c-1.8 7.5-3.7 15-5.7 22.5c-2 7.6-4.2 15.1-6.2 22.6c-2 7.5-3.9 15.1-5.7 22.6c-1.9 7.5-3.5 15.1-4.9 22.6c-1.3 7.5-2 15-2.6 22.6c-0.5 6-1 12-0.9 18c0.2 7.6 0.7 15.1 1.3 22.6c0.7 7.5 1.6 15.1 2.2 22.6c0.7 7.5 1 15.1 1.4 22.6c0.3 7.5 0.3 15 0 22.6c-0.4 7.5-1.2 15-2.2 22.6c-1.1 7.5-2.1 15-3.6 22.5c-1.4 7.6-2.9 15.1-4.4 22.6c-1.4 7.6-2.9 15.1-4.4 22.6c-1.4 7.5-2.7 15.1-3.9 22.6c-1.3 7.5-2.5 15-3.1 22.6c-0.6 7.5-1.1 15-1.3 22.6c-0.5 14.3-1 28.6-1 42.9H2120.7c0-14.3-0.5-28.6-1-42.9c-0.2-7.6-0.7-15.1-1.3-22.6c-0.6-7.6-1.8-15.1-3.1-22.6c-1.2-7.5-2.5-15.1-3.9-22.6c-1.5-7.5-3-15-4.5-22.6c-1.4-7.5-2.9-15-4.4-22.6c-1.4-7.5-2.4-15-3.5-22.5c-1-7.6-1.8-15.1-2.2-22.6c-0.3-7.6-0.3-15.1 0-22.6c0.3-7.5 0.7-15.1 1.3-22.6c0.7-7.5 1.6-15.1 2.2-22.6c0.7-7.5 1.2-15 1.4-22.6c0.1-6-0.4-12-0.9-18c-0.7-7.6-1.3-15.1-2.7-22.6c-1.3-7.5-2.9-15.1-4.8-22.6c-1.9-7.5-3.7-15.1-5.7-22.6c-2-7.5-4.2-15-6.2-22.6c-2-7.5-3.9-15-5.7-22.5c-1.9-7.6-3.2-15.1-4.4-22.6c-1-6.1-1.6-12.1-1.8-18.1c-0.2-6 0-12 0.5-18.1c0.6-7.5 1.4-15 2.6-22.5c1.2-7.6 2.6-15.1 4.4-22.6c1.8-7.6 3.6-15.1 5.7-22.6c2.1-7.5 4.1-15.1 6.6-22.6c2.5-7.5 5-15.1 7.5-22.6c2.5-7.5 5-15 7.5-22.6c2.5-7.5 4.7-15 7.1-22.5c2.3-7.6 4.4-15.1 6.1-22.6c1.4-6.1 1.9-12.1 2.2-18.1c0.6-11.7 1-23.5 1-35.2Z" fill="#48e598"/>
<path d="M2236.6 225.2c0 6 0.7 12 1.4 18.1c0.6 4.5 1.4 9 3.6 13.5c2.8 6 7.5 12 12.3 18.1c4.7 6 11 12 15.4 18c4.4 6.1 7.9 12.1 11 18.1c2.4 4.5 4.3 9 5.7 13.6c1.2 3.7 1.8 7.5 1.8 11.2c0 3.8-0.4 7.6-1.8 11.3c-2.2 6.1-4.8 12.1-7 18.1c-2.3 6-4.5 12-6.6 18.1c-2.1 6-3.4 12-5.3 18c-2.4 7.6-4.8 15.1-7.9 22.6c-3.1 7.5-6.5 15.1-9.7 22.6c-2.6 6-5.1 12-7.5 18.1c-1.8 4.5-2.9 9-3.5 13.5c-0.7 4.5-1.4 9.1-1.4 13.6c0 15 0 30.1 0 45.1c0 4.6 1.7 9.1 2.7 13.6c1.4 6 3.1 12 4.4 18.1c1.3 6 2.3 12 3.1 18c0.8 6 1.1 12.1 1.3 18.1c0.2 6 0.3 12-0.4 18.1c-0.8 6-1.9 12-3.1 18c-1.2 6-2.8 12.1-4 18.1c-1.1 6-2.1 12-2.6 18.1c-0.4 4.5-0.7 9-0.9 13.5c-0.4 8.3-0.8 16.6-1 24.8H2235.9c-0.2-8.2-0.5-16.5-1-24.8c-0.2-4.5-0.4-9-0.8-13.5c-0.6-6.1-1.5-12.1-2.7-18.1c-1.1-6-2.7-12.1-3.9-18.1c-1.3-6-2.4-12-3.1-18c-0.8-6.1-0.7-12.1-0.5-18.1c0.2-6 0.6-12.1 1.4-18.1c0.7-6 1.7-12 3-18c1.4-6.1 3.1-12.1 4.4-18.1c1.1-4.5 2.7-9 2.7-13.6c0-15 0-30.1 0-45.1c0-4.5-0.7-9.1-1.3-13.6c-0.7-4.5-1.7-9-3.6-13.5c-2.4-6.1-4.9-12.1-7.4-18.1c-3.2-7.5-6.6-15.1-9.7-22.6c-3.1-7.5-5.5-15-8-22.6c-1.9-6-3.2-12-5.2-18c-2.1-6.1-4.4-12.1-6.6-18.1c-2.3-6-4.8-12-7.1-18.1c-1.4-3.7-1.7-7.5-1.8-11.3c0-3.7 0.6-7.5 1.8-11.2c1.5-4.6 3.4-9.1 5.7-13.6c3.2-6 6.6-12 11-18.1c4.5-6 10.7-12 15.5-18c4.7-6.1 9.4-12.1 12.3-18.1c2.1-4.5 3-9 3.5-13.5c0.8-6.1 1.4-12.1 1.4-18.1Z" fill="#b0f653"/>
<path d="M2351.8 75.2c0 15.4 0.4 30.7 1 46.1c0.2 7.5 0.4 15.1 2.2 22.6c1.7 7.5 3.5 15 5.3 22.6c1.7 7.5 3.5 15 5.2 22.6c1.8 7.5 3.6 15 5.3 22.5c1.8 7.6 3.4 15.1 4.9 22.6c1.4 7.5 2.7 15.1 3.9 22.6c1.3 7.5 2.5 15.1 3.6 22.6c1 7.5 1.9 15 2.6 22.6c0.7 7.5 1.3 15 1.8 22.6c0.4 7.5 0.6 15 0.8 22.5c0.2 6.1 0.3 12.1 0 18.1c-0.3 7.5-0.8 15.1-1.7 22.6c-0.9 7.5-1.8 15-2.7 22.6c-0.8 7.5-1.7 15-2.6 22.6c-0.9 7.5-1.1 15-1.3 22.5c-0.3 7.6-0.1 15.1 0.4 22.6c0.5 7.5 1.4 15.1 2.7 22.6c1.2 7.5 2.6 15.1 4.4 22.6c1.7 7.5 3.9 15 5.7 22.6c1.7 7.5 3.4 15 4.8 22.6c1.5 7.5 2.6 15 3.5 22.5c0.8 6.1 1.2 12.1 1.4 18.1c0.2 6 0.1 12.1-0.5 18.1c-0.6 7.5-1.8 15-3.5 22.6c-1.7 7.5-3.6 15-5.7 22.5c-2.2 7.6-4.3 15.1-6.6 22.6c-2.4 7.6-4.7 15.1-7.1 22.6c-2.3 7.5-4.7 15.1-7 22.6c-2.4 7.5-4.3 15-6.2 22.6c-1.9 7.5-3.6 15-5.3 22.6c-1.6 7.5-3.1 15-4.4 22.5c-1.3 7.6-2.4 15.1-3.1 22.6c-0.3 4.5-0.6 9.1-0.8 13.6c-0.4 7.2-0.8 14.4-1 21.7H2351.1c-0.2-7.3-0.6-14.5-1-21.7c-0.2-4.5-0.5-9.1-0.9-13.6c-0.6-7.5-1.7-15-3-22.6c-1.4-7.5-2.8-15-4.4-22.5c-1.7-7.6-3.4-15.1-5.3-22.6c-1.9-7.6-3.8-15.1-6.2-22.6c-2.3-7.5-4.7-15.1-7-22.6c-2.4-7.5-4.7-15-7.1-22.6c-2.3-7.5-4.4-15-6.6-22.6c-2.1-7.5-4-15-5.7-22.5c-1.8-7.6-2.9-15.1-3.5-22.6c-0.6-6-0.7-12.1-0.5-18.1c0.2-6 0.6-12 1.3-18.1c1-7.5 2.1-15 3.6-22.5c1.4-7.6 3-15.1 4.8-22.6c1.8-7.6 4-15.1 5.7-22.6c1.8-7.5 3.2-15.1 4.4-22.6c1.3-7.5 2.2-15.1 2.7-22.6c0.5-7.5 0.6-15 0.4-22.6c-0.2-7.5-0.4-15-1.3-22.5c-0.9-7.6-1.8-15.1-2.6-22.6c-0.9-7.6-1.8-15.1-2.7-22.6c-0.9-7.5-1.5-15.1-1.7-22.6c-0.3-6-0.2-12 0-18.1c0.1-7.5 0.4-15 0.8-22.5c0.5-7.6 1.1-15.1 1.8-22.6c0.7-7.6 1.6-15.1 2.6-22.6c1.1-7.5 2.3-15.1 3.6-22.6c1.2-7.5 2.5-15.1 3.9-22.6c1.5-7.5 3.1-15 4.9-22.6c1.7-7.5 3.5-15 5.3-22.5c1.7-7.6 3.5-15.1 5.2-22.6c1.8-7.6 3.6-15.1 5.3-22.6c1.8-7.5 1.9-15.1 2.2-22.6c0.6-15.4 1-30.7 1-46.1Z" fill="#48e598"/>
<path d="M2466.5 288.4c0 3.8 0.8 7.5 1.9 11.3c0.8 3 3.6 6 8.8 9c5.2 3.1 12.1 6.1 17.6 9.1c5.4 3 10.6 6 15.4 9c4.1 2.6 7.4 5.1 7.5 7.7c0.1 2.4-1.6 4.8-4 7.2c-3.2 3.3-6.3 6.6-10.1 10c-4.3 3.7-9 7.5-13.2 11.2c-4.2 3.8-8.1 7.6-11.9 11.3c-3.1 3-6 6.1-7.9 9.1c-1.5 2.2-2.1 4.5-2.7 6.7c-0.6 2.3-1.3 4.6-1.3 6.8c0 16.6 0 33.1 0 49.7c0 3 1.6 6 3.1 9c1.8 3.8 4.3 7.6 6.2 11.3c1.4 3 2.6 6.1 3.5 9.1c0.7 2.2 0.8 4.5 0.4 6.7c-0.5 3-1.5 6.1-3.1 9.1c-1.5 3-3.8 6-5.2 9c-1.5 3-3 6-3.6 9c-0.7 3.8-1.4 7.6-1.4 11.3H2465.8c0-3.7-0.7-7.5-1.4-11.3c-0.6-3-2-6-3.5-9c-1.5-3-3.8-6-5.3-9c-1.5-3-2.6-6.1-3.1-9.1c-0.4-2.2-0.2-4.5 0.5-6.7c0.9-3 2-6.1 3.5-9.1c1.8-3.7 4.3-7.5 6.1-11.3c1.5-3 3.1-6 3.1-9c0-16.6 0-33.1 0-49.7c0-2.2-0.7-4.5-1.3-6.8c-0.6-2.2-1.2-4.5-2.6-6.7c-2-3-4.9-6.1-8-9.1c-3.8-3.7-7.7-7.5-11.9-11.3c-4.2-3.7-8.9-7.5-13.2-11.2c-3.7-3.4-6.9-6.7-10.1-10c-2.3-2.4-4.1-4.8-4-7.2c0.2-2.6 3.4-5.1 7.5-7.7c4.9-3 10-6 15.4-9c5.5-3 12.5-6 17.7-9.1c5.2-3 7.9-6 8.8-9c1.1-3.8 1.8-7.5 1.8-11.3Z" fill="#b0f653"/>
<path d="M2582.1 256.8c0 7.5 0.7 15.1 1.5 22.6c0.4 4.5 2.1 9 3.5 13.5c1.8 6.1 4 12.1 5.7 18.1c1.7 6 2.9 12 4 18.1c1 6 1.7 12 1.7 18c0.1 6.1-0.4 12.1-1.7 18.1c-1.3 6-2.8 12-4.4 18.1c-1.7 6-3.7 12-5.3 18c-1.2 4.6-2.4 9.1-3.1 13.6c-0.7 4.5-1.8 9-1.8 13.5c0 33.2 0 66.3 0 99.4c0 4.5 1.6 9 3.1 13.6c1.5 4.5 3.3 9 6.2 13.5c2.9 4.5 6.2 9 10.1 13.6c3.9 4.5 8 9 11.9 13.5c3.9 4.5 7.8 9 11.5 13.6c3 3.7 4.5 7.5 6.1 11.2c1.3 3.1 2.1 6.1 2.2 9.1c0.1 3-0.6 6-2.2 9c-2 3.8-4.2 7.5-7.5 11.3c-3.9 4.5-8 9-11.9 13.6c-3.8 4.5-7.7 9-11.4 13.5c-3.7 4.5-6.8 9-9.7 13.6c-2.4 3.7-4.3 7.5-5.7 11.2c-1.6 4.1-2.4 8.2-2.8 12.2H2581.4c-0.3-4-1.1-8.1-2.7-12.2c-1.4-3.7-3.3-7.5-5.7-11.2c-2.9-4.6-6-9.1-9.7-13.6c-3.7-4.5-7.6-9-11.4-13.5c-3.9-4.6-8-9.1-11.9-13.6c-3.3-3.8-5.5-7.5-7.5-11.3c-1.6-3-2.3-6-2.2-9c0.1-3 0.9-6 2.2-9.1c1.6-3.7 3.1-7.5 6.1-11.2c3.7-4.6 7.6-9.1 11.5-13.6c3.9-4.5 8-9 11.9-13.5c3.9-4.6 7.2-9.1 10.1-13.6c2.9-4.5 4.7-9 6.2-13.5c1.5-4.6 3.1-9.1 3.1-13.6c0-33.1 0-66.2 0-99.4c0-4.5-1.1-9-1.8-13.5c-0.8-4.5-1.9-9-3.1-13.6c-1.6-6-3.6-12-5.3-18c-1.6-6.1-3.1-12.1-4.4-18.1c-1.3-6-1.8-12-1.7-18.1c0-6 0.6-12 1.7-18c1.1-6.1 2.3-12.1 4-18.1c1.7-6 3.9-12 5.7-18.1c1.4-4.5 3.1-9 3.5-13.5c0.8-7.5 1.4-15.1 1.4-22.6Z" fill="#48e598"/>
<path d="M2697.3 87.4c0 12.8 0.4 25.6 1 38.4c0.3 6 0.8 12.1 2.2 18.1c1.7 7.5 3.8 15 6.2 22.6c2.3 7.5 4.5 15 7 22.6c2.5 7.5 5 15 7.5 22.5c2.5 7.6 5 15.1 7.5 22.6c2.5 7.5 4.5 15.1 6.6 22.6c2.1 7.5 4 15.1 5.7 22.6c1.7 7.5 2.9 15 4 22.6c1.1 7.5 2 15 2.6 22.6c0.8 9 1 18 0.9 27.1c-0.1 7.5-0.4 15-1.3 22.5c-1 7.6-2.1 15.1-3.5 22.6c-1.5 7.5-3.1 15.1-4.4 22.6c-1.4 7.5-2.8 15.1-4 22.6c-1.2 7.5-2.2 15-3.1 22.6c-0.9 7.5-1.7 15-2.2 22.6c-0.5 7.5-0.8 15-0.9 22.5c-0.1 7.6-0.1 15.1 0 22.6c0.1 7.5 0.4 15.1 0.5 22.6c0.1 7.5 0 15.1 0 22.6c-0.1 7.5-0.4 15-0.9 22.6c-0.5 7.5-1.3 15-2.2 22.6c-0.9 7.5-1.8 15-3.1 22.5c-1.3 7.6-2.6 15.1-4 22.6c-1.3 7.6-2.6 15.1-3.9 22.6c-1.4 7.5-3 15.1-4.4 22.6c-1.4 7.5-2.7 15-4 22.6c-1.2 7.5-2.4 15-3.5 22.6c-1.2 7.5-2.2 15-3.1 22.5c-0.9 7.6-1.5 15.1-1.8 22.6c-0.2 6-0.2 12.1-0.4 18.1c-0.3 10.5-0.6 21.1-1 31.6H2696.6c-0.3-10.5-0.7-21.1-0.9-31.6c-0.2-6-0.3-12.1-0.5-18.1c-0.3-7.5-0.8-15-1.7-22.6c-1-7.5-2-15-3.1-22.5c-1.2-7.6-2.3-15.1-3.6-22.6c-1.2-7.6-2.5-15.1-3.9-22.6c-1.4-7.5-3.1-15.1-4.4-22.6c-1.3-7.5-2.7-15-4-22.6c-1.3-7.5-2.6-15-3.9-22.6c-1.4-7.5-2.2-15-3.1-22.5c-0.9-7.6-1.7-15.1-2.2-22.6c-0.5-7.6-0.8-15.1-0.9-22.6c-0.1-7.5-0.1-15.1 0-22.6c0.1-7.5 0.3-15.1 0.4-22.6c0.1-7.5 0.1-15 0-22.6c0-7.5-0.3-15-0.9-22.5c-0.5-7.6-1.2-15.1-2.2-22.6c-0.9-7.6-1.8-15.1-3-22.6c-1.3-7.5-2.6-15.1-4-22.6c-1.4-7.5-3-15.1-4.4-22.6c-1.4-7.5-2.6-15-3.5-22.6c-1-7.5-1.3-15-1.4-22.5c0-9.1 0.2-18.1 0.9-27.1c0.7-7.6 1.6-15.1 2.7-22.6c1.1-7.6 2.3-15.1 3.9-22.6c1.7-7.5 3.7-15.1 5.8-22.6c2.1-7.5 4.1-15.1 6.6-22.6c2.5-7.5 5-15 7.5-22.6c2.4-7.5 4.9-15 7.4-22.5c2.5-7.6 4.8-15.1 7.1-22.6c2.3-7.6 4.4-15.1 6.2-22.6c1.3-6 1.9-12.1 2.2-18.1c0.5-12.8 0.9-25.6 0.9-38.4Z" fill="#b0f653"/>
</g>
<g clip-path="url(#cp_b)" stroke="#000" fill="none">
<path d="M1660.8 329.1V358.9M1660.8 522.4V614.5" stroke-width="3.3"/>
<rect x="1652.1" y="358.9" width="17.3" height="163.5" stroke-width="3.3" fill="#48e598" fill-opacity="0.9"/>
<path d="M1650.5 399.1H1671" stroke-width="6.4"/>
<path d="M1776 345.3V358.9" stroke-width="3.3"/>
<rect x="1767.3" y="358.9" width="17.3" height="20.8" stroke-width="3.3" fill="#b0f653" fill-opacity="0.9"/>
<path d="M1765.7 360.7H1786.2" stroke-width="6.4"/>
<path d="M1890.7 339V406.8" stroke-width="3.3"/>
<rect x="1882" y="406.8" width="17.3" height="207.8" stroke-width="3.3" fill="#48e598" fill-opacity="0.9"/>
<path d="M1880.4 442H1900.9" stroke-width="6.4"/>
<path d="M2005.9 327.3V390.9M2005.9 535V614.5" stroke-width="3.3"/>
<rect x="1997.2" y="390.9" width="17.3" height="144.1" stroke-width="3.3" fill="#b0f653" fill-opacity="0.9"/>
<path d="M1995.6 414.9H2016.1" stroke-width="6.4"/>
<path d="M2121 327.3V358.9M2121 575.2V614.5" stroke-width="3.3"/>
<rect x="2112.4" y="358.9" width="17.3" height="216.4" stroke-width="3.3" fill="#48e598" fill-opacity="0.9"/>
<path d="M2110.8 365.2H2131.3" stroke-width="6.4"/>
<path d="M2236.3 328.2V331.3M2236.3 404V409.5" stroke-width="3.3"/>
<rect x="2227.6" y="331.3" width="17.3" height="72.7" stroke-width="3.3" fill="#b0f653" fill-opacity="0.9"/>
<path d="M2226 334.5H2246.5" stroke-width="6.4"/>
<path d="M2351.4 327.3V376.5" stroke-width="3.3"/>
<rect x="2342.8" y="376.5" width="17.3" height="238" stroke-width="3.3" fill="#48e598" fill-opacity="0.9"/>
<path d="M2341.2 613.2H2361.7" stroke-width="6.4"/>
<path d="M2466.2 327.3V332.7" stroke-width="3.3"/>
<rect x="2457.5" y="332.7" width="17.3" height="26.6" stroke-width="3.3" fill="#b0f653" fill-opacity="0.9"/>
<path d="M2455.9 335.8H2476.4" stroke-width="6.4"/>
<rect x="2573.1" y="549.5" width="17.3" height="65" stroke-width="3.3" fill="#48e598" fill-opacity="0.9"/>
<path d="M2571.5 613.2H2592" stroke-width="6.4"/>
<path d="M2697 327.3V332.7M2697 558.1V614.5" stroke-width="3.3"/>
<rect x="2688.3" y="332.7" width="17.3" height="225.4" stroke-width="3.3" fill="#b0f653" fill-opacity="0.9"/>
<path d="M2686.7 399.1H2707.2" stroke-width="6.4"/>
</g>
<path d="M1572.1 614.3H2772.1" stroke="#000" stroke-width="1.6" stroke-dasharray="42.9 42.9" stroke-dashoffset="21.4" fill="none" clip-path="url(#cp_b)"/>
<path d="M1570 38.9H1579.8M1570 326.6H1579.8M1570 614.3H1579.8M1570 902H1579.8M1718 904.1V913.9M1948.3 904.1V913.9M2178.6 904.1V913.9M2408.8 904.1V913.9M2639.1 904.1V913.9" stroke="#333333" stroke-width="3.9" fill="none"/>
<g font-family='"Liberation Sans", Arial, sans-serif' font-size="33" fill="#4d4d4d" stroke="#4d4d4d" stroke-width="0.4">
<text x="1562.2" y="50.8" text-anchor="end">0.50</text>
<text x="1562.2" y="338.5" text-anchor="end">0.25</text>
<text x="1562.2" y="626.2" text-anchor="end">0.00</text>
<text x="1562.2" y="913.9" text-anchor="end">−0.25</text>
<text x="1718" y="945.1" text-anchor="middle">0</text>
<text x="1948.3" y="945.1" text-anchor="middle">6</text>
<text x="2178.6" y="945.1" text-anchor="middle">12</text>
<text x="2408.8" y="945.1" text-anchor="middle">24</text>
<text x="2639.1" y="945.1" text-anchor="middle">48</text>
</g>
<g font-family='"DejaVu Sans", "Liberation Sans", sans-serif' font-size="44" fill="#000">
<text x="2173.5" y="995.3" text-anchor="middle">Distance (m)</text>
<text transform="translate(1489.1 423.4) rotate(-90)" text-anchor="middle">CWV Diurnality</text>
</g>
<text x="1440" y="57" font-family='"Liberation Sans", Arial, sans-serif' font-size="42" font-weight="bold" fill="#000">(b)</text>
<g clip-path="url(#cp_c)">
<rect x="2961.2" y="39.8" width="1207.3" height="874.5" fill="#ebebeb"/>
<path d="M2961.2 190.6H4168.5M2961.2 476.3H4168.5M2961.2 762H4168.5" stroke="#fff" stroke-width="2.1" fill="none"/>
<path d="M2961.2 47.8H4168.5M2961.2 333.5H4168.5M2961.2 904.8H4168.5M3100.5 39.8V914.3M3332.7 39.8V914.3M3564.8 39.8V914.3M3797 39.8V914.3M4029.2 39.8V914.3" stroke="#fff" stroke-width="4.2" fill="none"/>
</g>
<g clip-path="url(#cp_c)" stroke="#4a4a4a" stroke-width="3.9" stroke-linejoin="round" fill-opacity="0.9">
<path d="M3043.3 165.7c0.1 12 0.3 24.1 0.5 36.1c0.2 10.8 0.3 21.5 0.9 32.3c0.2 4.6 1.4 9.3 2.3 13.9c1.1 6.3 2.2 12.6 3.3 18.9c1.2 6.7 2.5 13.3 3.9 19.9c1.3 6.5 2.7 13 4.5 19.4c2.4 9.1 4.9 18.2 7.4 27.3c2.8 10.3 5.6 20.6 8.3 31c3.6 13.1 8.2 26.2 11.8 39.2c1.8 6.7 3.2 13.3 4.5 19.9c1.2 6.3 2.2 12.7 3.1 19c0.8 5.2 1.8 10.4 1.4 15.7c-0.6 6-1.9 12-3.2 18c-1.3 6.3-2.7 12.6-4 19c-1.5 6.7-2.8 13.5-4.1 20.3c-2.9 15.2-3.9 30.5-3.1 45.8c0.4 10 2.6 20 3.3 30c0.8 9.2 1.5 18.5 1.2 27.7c-0.3 5.7-1.4 11.4-2.7 17.1c-1.2 5.3-2.4 10.5-4.2 15.7c-3.5 10.2-7.4 20.4-11.3 30.5c-3.8 10.1-8.4 20.1-12 30.1c-3.7 10.2-5.7 20.3-7.7 30.5c-1.2 6-2.5 12-2.9 18c-0.7 8.6-1.2 17.3-1.2 25.9H3042.6c0-8.6-0.6-17.3-1.3-25.9c-0.4-6-1.7-12-2.9-18c-2-10.2-4-20.3-7.7-30.5c-3.6-10-8.2-20-12-30.1c-3.9-10.1-7.8-20.3-11.3-30.5c-1.8-5.2-3-10.4-4.2-15.7c-1.3-5.7-2.4-11.4-2.7-17.1c-0.3-9.2 0.4-18.5 1.2-27.7c0.8-10 2.9-20 3.3-30c0.8-15.3-0.2-30.6-3.1-45.8c-1.3-6.8-2.6-13.6-4.1-20.3c-1.3-6.4-2.7-12.7-4-19c-1.3-6-2.6-12-3.2-18c-0.4-5.3 0.6-10.5 1.4-15.7c0.9-6.3 1.9-12.7 3.1-19c1.3-6.6 2.7-13.2 4.5-19.9c3.6-13 8.2-26.1 11.8-39.2c2.7-10.4 5.5-20.7 8.3-31c2.5-9.1 5-18.2 7.4-27.3c1.8-6.4 3.2-12.9 4.5-19.4c1.4-6.6 2.7-13.2 3.9-19.9c1.1-6.3 2.2-12.6 3.3-18.9c0.9-4.6 2.1-9.3 2.3-13.9c0.6-10.8 0.7-21.5 0.9-32.3c0.2-12 0.4-24.1 0.6-36.1Z" fill="#48e598"/>
<path d="M3159.3 138.4c0 11.9 0.2 23.8 0.5 35.6c0.2 8.4 0.4 16.7 0.9 25c0.2 3.2 0.7 6.5 1.6 9.7c1.7 6.5 3.6 12.9 5.4 19.4c1.8 6.5 3.1 13 5.2 19.4c2 6.5 4.6 13 7 19.4c2.5 6.7 4.9 13.3 7.4 19.9c2.4 6.5 5.2 13 7.7 19.4c3.5 9.1 6.5 18.2 9.4 27.3c3.3 10.3 5.7 20.6 6.3 31c0.6 8.9 0.7 17.8 0.5 26.8c-0.3 9.2-0.5 18.5-0.9 27.7c-0.3 7.9-0.4 15.7-1.4 23.6c-1.3 11.2-3.3 22.5-4.9 33.7c-1.9 13.1-4.2 26.2-5.4 39.3c-1.5 15.2-2.5 30.5-3.6 45.8c-0.8 10-1.5 20-2.3 30c-0.7 9.2-1.2 18.5-2 27.7c-0.8 11-3.1 21.9-5.3 32.8c-2 10.2-4 20.4-6 30.5c-2 10.1-4.1 20.1-6.1 30.1c-2 10.2-4.2 20.3-6.1 30.5c-1.8 10.2-3 20.3-4.5 30.5c-0.7 4.9-2 9.9-2.3 14.8c-0.7 14.3-1.1 28.6-1.1 43H3158.6c0-14.4-0.5-28.7-1.2-43c-0.3-4.9-1.5-9.9-2.3-14.8c-1.5-10.2-2.7-20.3-4.5-30.5c-1.9-10.2-4.1-20.3-6.1-30.5c-2-10-4-20-6-30.1c-2.1-10.1-4.1-20.3-6.1-30.5c-2.1-10.9-4.4-21.8-5.3-32.8c-0.7-9.2-1.3-18.5-2-27.7c-0.7-10-1.5-20-2.2-30c-1.2-15.3-2.2-30.6-3.6-45.8c-1.3-13.1-3.6-26.2-5.5-39.3c-1.5-11.2-3.5-22.5-4.9-33.7c-1-7.9-1-15.7-1.4-23.6c-0.3-9.2-0.6-18.5-0.9-27.7c-0.2-9-0.1-17.9 0.5-26.8c0.7-10.4 3-20.7 6.3-31c2.9-9.1 5.9-18.2 9.5-27.3c2.5-6.4 5.2-12.9 7.6-19.4c2.5-6.6 5-13.2 7.4-19.9c2.4-6.4 5-12.9 7-19.4c2.1-6.4 3.5-12.9 5.2-19.4c1.8-6.5 3.7-12.9 5.4-19.4c0.9-3.2 1.4-6.5 1.6-9.7c0.6-8.3 0.7-16.6 0.9-25c0.3-11.8 0.5-23.7 0.6-35.6Z" fill="#b0f653"/>
<path d="M3275.3 202.7c0 10.5 0.2 20.9 0.5 31.4c0.2 4.5 1.3 9 2.1 13.4c1.1 6.5 2.5 13 4.1 19.4c1.5 6.7 3.4 13.3 6 19.9c2.5 6.5 6 13 9.5 19.4c4.8 9.1 11.2 18.2 16.2 27.3c5.6 10.3 9.7 20.6 12 31c2 9.2 2.2 18.4 1.5 27.7c-0.8 10.3-1.9 20.6-4.5 31c-1.4 5.5-3.2 11.1-5.4 16.6c-2.2 5.4-4.5 10.8-7.2 16.2c-3.5 6.8-7.7 13.5-11.3 20.3c-4.3 8.2-8.2 16.3-11.3 24.5c-1.8 5.1-2.7 10.2-3.6 15.3c-0.8 4.9-1.7 9.8-1.4 14.7c0.6 10.2 2.6 20.4 4.9 30.6c2.2 10 5.4 20 7.5 30c2 9.2 3.3 18.5 3.2 27.7c-0.2 11-1.8 21.9-4.5 32.8c-2.5 10.2-5.9 20.4-8.4 30.5c-2.3 10.1-4.7 20.1-6.4 30.1c-1.1 6.9-1.9 13.9-2.3 20.8c-0.6 9.2-1.2 18.5-1.2 27.7H3274.6c-0.1-9.2-0.7-18.5-1.3-27.7c-0.4-6.9-1.1-13.9-2.3-20.8c-1.7-10-4-20-6.4-30.1c-2.4-10.1-5.8-20.3-8.3-30.5c-2.7-10.9-4.4-21.8-4.5-32.8c-0.2-9.2 1.1-18.5 3.1-27.7c2.2-10 5.4-20 7.6-30c2.2-10.2 4.3-20.4 4.9-30.6c0.2-4.9-0.6-9.8-1.5-14.7c-0.9-5.1-1.7-10.2-3.6-15.3c-3-8.2-7-16.3-11.3-24.5c-3.5-6.8-7.8-13.5-11.2-20.3c-2.8-5.4-5.1-10.8-7.2-16.2c-2.3-5.5-4-11.1-5.4-16.6c-2.7-10.4-3.8-20.7-4.6-31c-0.6-9.3-0.4-18.5 1.6-27.7c2.2-10.4 6.4-20.7 12-31c4.9-9.1 11.3-18.2 16.2-27.3c3.5-6.4 6.9-12.9 9.5-19.4c2.5-6.6 4.4-13.2 6-19.9c1.5-6.4 3-12.9 4.1-19.4c0.8-4.4 1.9-8.9 2-13.4c0.4-10.5 0.6-20.9 0.6-31.4Z" fill="#48e598"/>
<path d="M3391.3 293.3c0 3.4 0.4 6.8 1 10.1c0.3 2.1 0.8 4.1 2.2 6.1c3.7 5 10.2 10.1 16.7 15.2c3.8 2.9 8.5 5.9 12.2 8.8c5.2 4.2 8.8 8.3 12.6 12.5c4.2 4.6 7.8 9.2 7.2 13.8c-0.5 4.5-6.5 9-12.2 13.4c-5.1 4-14.2 8.1-18.2 12.1c-3 3-4.5 6.1-5.2 9.2c-0.9 4 1.1 8-0.8 12c-1.9 4.2-3.9 8.3-6 12.5c-2.1 4-4.3 8-6.3 12c-1.9 4-3.1 8-3.1 12c0 46.6 0 93.1 0 139.6c0 2.5 1.2 4.9 2.2 7.4c1 2.5 3.1 4.9 4.5 7.4c2.3 4.2 4.4 8.3 6.4 12.5c1.4 3.1 2.7 6.1 2.2 9.2c-0.7 5-3.2 9.9-5.6 14.8c-2 4-4.8 8-6.6 12c-2.1 5-3 9.9-3.2 14.8H3390.6c-0.2-4.9-1.1-9.8-3.3-14.8c-1.7-4-4.6-8-6.5-12c-2.4-4.9-4.9-9.8-5.6-14.8c-0.5-3.1 0.7-6.1 2.2-9.2c2-4.2 4.1-8.3 6.4-12.5c1.4-2.5 3.4-4.9 4.4-7.4c1-2.5 2.3-4.9 2.3-7.4c0-46.5 0-93 0-139.6c0-4-1.2-8-3.2-12c-1.9-4-4.2-8-6.2-12c-2.1-4.2-4.1-8.3-6.1-12.5c-1.8-4 0.1-8-0.7-12c-0.7-3.1-2.2-6.2-5.3-9.2c-4-4-13.1-8.1-18.2-12.1c-5.7-4.4-11.6-8.9-12.1-13.4c-0.6-4.6 3-9.2 7.2-13.8c3.7-4.2 7.4-8.3 12.6-12.5c3.6-2.9 8.4-5.9 12.2-8.8c6.5-5.1 12.9-10.2 16.6-15.2c1.5-2 2-4 2.3-6.1c0.5-3.3 1-6.7 1-10.1Z" fill="#b0f653"/>
<path d="M3507.3 308.1c0 2.7 0.8 5.5 1.9 8.3c0.9 2.1 5.6 4.3 9 6.5c3.2 2 7.2 4 10.4 6c4.2 2.6 8.9 5.2 7.6 7.8c-0.9 2-2.8 4-4 6c-1.4 2.2-2.7 4.3-3.8 6.5c-0.8 1.7 1.6 3.4 5.6 5.1c2.9 1.2 6.4 2.5 9.4 3.7c5.8 2.3 14.7 4.6 15.8 6.9c1.4 2.8-9.8 5.6-15.9 8.3c-6.8 3.1-15.9 6.2-21.2 9.3c-5.1 2.9-7.1 5.8-9.3 8.8c-2.3 3-5.4 6.1-5.4 9.2c0 64.7 0 129.4 0 194.1c0 1.9 1.4 3.7 2.2 5.6c1.5 3.1 3.5 6.1 5 9.2c1.6 3.3 3 6.5 3.2 9.7c0.1 3-1.6 5.9-3.2 8.8c-1.3 2.3-3.4 4.6-4.5 6.9c-1.6 3.3-2.6 6.5-2.8 9.7H3506.6c-0.3-3.2-1.2-6.4-2.8-9.7c-1.1-2.3-3.2-4.6-4.5-6.9c-1.6-2.9-3.3-5.8-3.2-8.8c0.1-3.2 1.6-6.4 3.2-9.7c1.5-3.1 3.5-6.1 4.9-9.2c0.9-1.9 2.3-3.7 2.3-5.6c0-64.7 0-129.4 0-194.1c0-3.1-3.1-6.2-5.4-9.2c-2.2-3-4.2-5.9-9.3-8.8c-5.4-3.1-14.4-6.2-21.2-9.3c-6.1-2.7-17.3-5.5-15.9-8.3c1.1-2.3 10-4.6 15.7-6.9c3.1-1.2 6.6-2.5 9.5-3.7c4-1.7 6.4-3.4 5.5-5.1c-1-2.2-2.3-4.3-3.7-6.5c-1.2-2-3.1-4-4-6c-1.3-2.6 3.4-5.2 7.6-7.8c3.2-2 7.2-4 10.4-6c3.4-2.2 8.1-4.4 9-6.5c1.1-2.8 1.9-5.6 1.9-8.3Z" fill="#48e598"/>
<path d="M3623.1 305.8c0 2.6 0.7 5.2 1.4 7.8c0.5 1.7 0.7 3.4 2.7 5.1c6.1 4.9 13.5 9.9 20.5 14.8c6 4.2 12.4 8.3 18.3 12.5c7 4.9 10.2 9.8 9 14.8c-1 4.1-7.2 8.3-14.4 12.4c-6.9 4-19.2 8.1-25 12.1c-4.4 3-7.4 6.1-9.3 9.2c-1.8 3.1-3.1 6.2-3.2 9.2H3622.4c-0.1-3-1.4-6.1-3.3-9.2c-1.8-3.1-4.8-6.2-9.3-9.2c-5.8-4-18-8.1-24.9-12.1c-7.2-4.1-13.4-8.3-14.4-12.4c-1.2-5 1.9-9.9 9-14.8c5.9-4.2 12.3-8.3 18.2-12.5c7-4.9 14.4-9.9 20.5-14.8c2.1-1.7 2.2-3.4 2.7-5.1c0.8-2.6 1.5-5.2 1.5-7.8Z" fill="#b0f653"/>
<path d="M3739.6 286.3c0 3.4 0.4 6.8 1 10.2c0.2 1.4 0.2 2.8 1.6 4.2c5.1 5.1 14 10.1 21.8 15.2c6.1 4 13.7 8 19.8 12c6.8 4.5 12.5 9 7.7 13.4c-5 4.7-10.3 9.3-15.3 13.9c-5.6 5.1-13 10.2-16.5 15.3c-3.5 4.9-3.8 9.8-5.5 14.8c-1.8 5-3.5 10.1-5.3 15.2c-1.8 5.1-4.3 10.2-6.1 15.3c-1.8 5-3.1 10.1-3.1 15.2c0 48.4 0 96.8 0 145.1c0 3.1 1.5 6.2 2.7 9.3c1.5 3.8 3.4 7.7 4.9 11.5c1.5 3.9 2.7 7.7 3.6 11.6c0.9 3.5 1.2 7.1 1.2 10.6c0 3.4-0.3 6.8-1.6 10.2c-1.6 3.8-3.4 7.7-5 11.6c-1.2 3-2.9 6.1-3.6 9.2c-1.2 5.4-2.3 10.8-2.3 16.2H3738.9c0-5.4-1.2-10.8-2.4-16.2c-0.7-3.1-2.3-6.2-3.6-9.2c-1.6-3.9-3.4-7.8-5-11.6c-1.3-3.4-1.6-6.8-1.6-10.2c0-3.5 0.3-7.1 1.2-10.6c1-3.9 2.1-7.7 3.6-11.6c1.5-3.8 3.4-7.7 5-11.5c1.2-3.1 2.7-6.2 2.7-9.3c0-48.3 0-96.7 0-145.1c0-5.1-1.4-10.2-3.2-15.2c-1.8-5.1-4.3-10.2-6.1-15.3c-1.8-5.1-3.5-10.2-5.3-15.2c-1.7-5-2-9.9-5.5-14.8c-3.5-5.1-10.9-10.2-16.4-15.3c-5.1-4.6-10.4-9.2-15.4-13.9c-4.7-4.4 0.9-8.9 7.7-13.4c6.1-4 13.7-8 19.8-12c7.8-5.1 16.7-10.1 21.8-15.2c1.4-1.4 1.4-2.8 1.7-4.2c0.5-3.4 1-6.8 1-10.2Z" fill="#48e598"/>
<path d="M3855.6 291.9c0 3.5 0.3 7.1 1 10.6c0.3 1.9 0.8 3.7 3.1 5.6c3.3 2.6 8.6 5.2 13.5 7.8c7.6 4 16.8 8 24.4 12c6.6 3.6 12.9 7.1 9.9 10.7c-4.7 5.5-12.8 11.1-18.2 16.6c-5 5.1-10.4 10.2-14.4 15.3c-3.9 4.9-4.9 9.8-5.6 14.8c-0.7 5 2 10.1 0.3 15.2c-1.6 5.1-3.4 10.2-5.4 15.3c-1.9 5-4.1 10.1-6 15.2c-1.9 5.3-2.3 10.5-2.6 15.7H3854.9c-0.3-5.2-0.8-10.4-2.7-15.7c-1.8-5.1-4.1-10.2-6-15.2c-1.9-5.1-3.8-10.2-5.4-15.3c-1.6-5.1 1-10.2 0.3-15.2c-0.7-5-1.7-9.9-5.6-14.8c-4-5.1-9.4-10.2-14.4-15.3c-5.4-5.5-13.5-11.1-18.2-16.6c-3-3.6 3.3-7.1 10-10.7c7.5-4 16.8-8 24.3-12c4.9-2.6 10.2-5.2 13.5-7.8c2.4-1.9 2.8-3.7 3.2-5.6c0.6-3.5 1-7.1 1-10.6Z" fill="#b0f653"/>
<path d="M3971.6 79.3c0.1 11.5 0.3 23.1 0.5 34.7c0.2 7.3 0.2 14.7 0.5 22.1c0.2 5.4 1.7 10.8 2.5 16.2c1.3 7.7 2.5 15.4 3.8 23.1c0.8 5.1 1.7 10.2 2.7 15.3c2.1 10.3 5.4 20.6 8.8 30.9c2.6 7.7 5.2 15.4 7.9 23.2c2.6 7.7 5.4 15.4 8.1 23.1c2.6 7.7 4.9 15.4 7.1 23.1c2.2 7.7 4.1 15.4 5.7 23.1c1.3 6.5 2.1 12.9 2.9 19.4c0.7 5.8 1.2 11.7 1.1 17.6c-0.1 10.7-1.4 21.5-3.8 32.3c-1.7 7.7-3.4 15.4-5.2 23.1c-1.8 7.7-3.7 15.4-5.4 23.1c-1.8 7.7-3 15.4-4.3 23.1c-1.3 7.9-2.2 15.8-2.6 23.6c-0.5 8.9-0.1 17.9 1.7 26.8c1.5 7.7 3.3 15.4 5.3 23.1c2 7.7 4.2 15.4 6.2 23.1c2 7.7 3.8 15.4 5.3 23.1c1.6 7.7 2.3 15.5 2.8 23.2c0.5 7.8 0.5 15.7 0.3 23.5c-0.2 7.6-0.6 15.1-2.1 22.7c-1.5 7.7-3.6 15.4-6.3 23.1c-2.7 7.7-5.3 15.4-8 23.1c-2.7 7.7-5.5 15.4-8.2 23.1c-2.7 7.7-5.1 15.4-7.6 23.1c-2.9 9.3-5.6 18.5-8 27.7c-1.6 6.2-3 12.4-4 18.5c-1.2 7.7-2.3 15.4-3.4 23.1c-0.9 6.2-2.1 12.4-2.6 18.5c-0.3 4.3-0.6 8.7-0.7 13c-0.5 13.5-1 27.1-1 40.6H3970.9c0-13.5-0.5-27.1-1-40.6c-0.2-4.3-0.4-8.7-0.7-13c-0.5-6.1-1.7-12.3-2.6-18.5c-1.1-7.7-2.3-15.4-3.5-23.1c-1-6.1-2.3-12.3-3.9-18.5c-2.4-9.2-5.1-18.4-8.1-27.7c-2.4-7.7-4.9-15.4-7.6-23.1c-2.7-7.7-5.4-15.4-8.1-23.1c-2.7-7.7-5.4-15.4-8.1-23.1c-2.6-7.7-4.7-15.4-6.2-23.1c-1.5-7.6-1.9-15.1-2.1-22.7c-0.3-7.8-0.3-15.7 0.2-23.5c0.5-7.7 1.3-15.5 2.8-23.2c1.6-7.7 3.3-15.4 5.3-23.1c2-7.7 4.2-15.4 6.3-23.1c2-7.7 3.7-15.4 5.3-23.1c1.8-8.9 2.2-17.9 1.7-26.8c-0.5-7.8-1.3-15.7-2.6-23.6c-1.3-7.7-2.5-15.4-4.3-23.1c-1.8-7.7-3.7-15.4-5.5-23.1c-1.8-7.7-3.5-15.4-5.2-23.1c-2.4-10.8-3.6-21.6-3.8-32.3c0-5.9 0.5-11.8 1.2-17.6c0.8-6.5 1.6-12.9 2.9-19.4c1.5-7.7 3.4-15.4 5.7-23.1c2.2-7.7 4.4-15.4 7.1-23.1c2.6-7.7 5.4-15.4 8.1-23.1c2.7-7.8 5.3-15.5 7.8-23.2c3.5-10.3 6.8-20.6 8.9-30.9c1-5.1 1.8-10.2 2.7-15.3c1.2-7.7 2.5-15.4 3.7-23.1c0.9-5.4 2.4-10.8 2.6-16.2c0.3-7.4 0.3-14.8 0.4-22.1c0.2-11.6 0.4-23.2 0.6-34.7Z" fill="#48e598"/>
<path d="M4087.6 262.8c0.2 3.5 0.6 7.1 1 10.6c0.1 1.2 0.2 2.5 0.4 3.7c0.8 4.6 1.8 9.2 6.7 13.9c4 3.8 9 7.7 13.8 11.5c4.9 3.9 10.2 7.7 15 11.6c4.9 3.8 8 7.7 10.7 11.5c3.5 5.1 5.2 10.2 4.3 15.3c-1.1 6.5-3.7 12.9-7.8 19.4c-4.8 7.7-12.3 15.4-16.4 23.1c-4.1 7.7-7.9 15.4-10.4 23.1c-2.5 7.7-4.4 15.4-6.9 23.1c-2 6.2-4.5 12.4-6.5 18.5c-2 6.2-3.8 12.3-3.8 18.5c0 29.9 0 59.8 0 89.7c0 5.4 0.7 10.8 1.6 16.1c0.6 3.9 3.3 7.7 4.5 11.6c1.7 5.4 3.1 10.8 4.2 16.2c1.2 6.3 2 12.6 1.6 18.9c-0.5 7.6-2.1 15.1-3.9 22.7c-1.6 6.1-4.8 12.3-5.8 18.5c-0.6 4.3-1 8.6-1.3 12.9c-0.4 5.7-0.8 11.4-1 17.1H4086.9c-0.2-5.7-0.6-11.4-1-17.1c-0.3-4.3-0.7-8.6-1.4-12.9c-0.9-6.2-4.2-12.4-5.7-18.5c-1.9-7.6-3.5-15.1-3.9-22.7c-0.4-6.3 0.4-12.6 1.6-18.9c1.1-5.4 2.5-10.8 4.2-16.2c1.1-3.9 3.8-7.7 4.5-11.6c0.9-5.3 1.6-10.7 1.6-16.1c0-29.9 0-59.8 0-89.7c0-6.2-1.9-12.3-3.8-18.5c-2-6.1-4.5-12.3-6.5-18.5c-2.5-7.7-4.4-15.4-6.9-23.1c-2.5-7.7-6.3-15.4-10.4-23.1c-4.2-7.7-11.6-15.4-16.4-23.1c-4.1-6.5-6.7-12.9-7.8-19.4c-0.9-5.1 0.8-10.2 4.3-15.3c2.7-3.8 5.8-7.7 10.6-11.5c4.8-3.9 10.2-7.7 15-11.6c4.9-3.8 9.9-7.7 13.9-11.5c4.8-4.7 5.8-9.3 6.6-13.9c0.2-1.2 0.4-2.5 0.5-3.7c0.4-3.5 0.7-7.1 1-10.6Z" fill="#b0f653"/>
</g>
<g clip-path="url(#cp_c)" stroke="#000" fill="none">
<path d="M3042.9 334.4V447.7" stroke-width="3.3"/>
<rect x="3034.3" y="447.7" width="17.3" height="171.5" stroke-width="3.3" fill="#48e598" fill-opacity="0.9"/>
<path d="M3032.7 493.9H3053.2" stroke-width="6.4"/>
<path d="M3158.9 352V364.9M3158.9 549.8V619.1" stroke-width="3.3"/>
<rect x="3150.3" y="364.9" width="17.3" height="184.9" stroke-width="3.3" fill="#b0f653" fill-opacity="0.9"/>
<path d="M3148.7 479.1H3169.2" stroke-width="6.4"/>
<path d="M3274.9 345V375.1M3274.9 482.3V619.1" stroke-width="3.3"/>
<rect x="3266.3" y="375.1" width="17.3" height="107.2" stroke-width="3.3" fill="#48e598" fill-opacity="0.9"/>
<path d="M3264.7 419.9H3285.2" stroke-width="6.4"/>
<path d="M3390.9 335.8V354.3M3390.9 385.3V404.2" stroke-width="3.3"/>
<rect x="3382.3" y="354.3" width="17.3" height="31" stroke-width="3.3" fill="#b0f653" fill-opacity="0.9"/>
<path d="M3380.7 364.9H3401.2" stroke-width="6.4"/>
<path d="M3506.9 334.4V345M3506.9 366.3V378.8" stroke-width="3.3"/>
<rect x="3498.3" y="345" width="17.3" height="21.3" stroke-width="3.3" fill="#48e598" fill-opacity="0.9"/>
<path d="M3496.7 364.9H3517.2" stroke-width="6.4"/>
<path d="M3622.7 334.9V345M3622.7 364.9V375.1" stroke-width="3.3"/>
<rect x="3614.1" y="345" width="17.3" height="19.9" stroke-width="3.3" fill="#b0f653" fill-opacity="0.9"/>
<path d="M3612.5 354.3H3633" stroke-width="6.4"/>
<path d="M3739.2 369.1V385.3" stroke-width="3.3"/>
<rect x="3730.6" y="334" width="17.3" height="35.1" stroke-width="3.3" fill="#48e598" fill-opacity="0.9"/>
<path d="M3729 352H3749.5" stroke-width="6.4"/>
<path d="M3855.2 364.9V404.2" stroke-width="3.3"/>
<rect x="3846.6" y="334.4" width="17.3" height="30.5" stroke-width="3.3" fill="#b0f653" fill-opacity="0.9"/>
<path d="M3845 340.4H3865.5" stroke-width="6.4"/>
<path d="M3971.2 335.8V358" stroke-width="3.3"/>
<rect x="3962.6" y="358" width="17.3" height="261.1" stroke-width="3.3" fill="#48e598" fill-opacity="0.9"/>
<path d="M3961 491.6H3981.5" stroke-width="6.4"/>
<path d="M4087.2 385.3V404.2" stroke-width="3.3"/>
<rect x="4078.6" y="334" width="17.3" height="51.3" stroke-width="3.3" fill="#b0f653" fill-opacity="0.9"/>
<path d="M4077 346.4H4097.5" stroke-width="6.4"/>
</g>
<path d="M2963.3 619.1H4163.3" stroke="#000" stroke-width="1.6" stroke-dasharray="42.9 42.9" stroke-dashoffset="21.4" fill="none" clip-path="url(#cp_c)"/>
<path d="M2951.4 47.8H2961.2M2951.4 333.5H2961.2M2951.4 619.1H2961.2M2951.4 904.8H2961.2M3100.5 914.3V924.1M3332.7 914.3V924.1M3564.8 914.3V924.1M3797 914.3V924.1M4029.2 914.3V924.1" stroke="#333333" stroke-width="3.9" fill="none"/>
<g font-family='"Liberation Sans", Arial, sans-serif' font-size="33" fill="#4d4d4d" stroke="#4d4d4d" stroke-width="0.4">
<text x="2943.6" y="59.7" text-anchor="end">0.50</text>
<text x="2943.6" y="345.4" text-anchor="end">0.25</text>
<text x="2943.6" y="631" text-anchor="end">0.00</text>
<text x="2943.6" y="916.7" text-anchor="end">−0.25</text>
<text x="3100.5" y="955.4" text-anchor="middle">0</text>
<text x="3332.7" y="955.4" text-anchor="middle">6</text>
<text x="3564.8" y="955.4" text-anchor="middle">12</text>
<text x="3797" y="955.4" text-anchor="middle">24</text>
<text x="4029.2" y="955.4" text-anchor="middle">48</text>
</g>
<g font-family='"DejaVu Sans", "Liberation Sans", sans-serif' font-size="44" fill="#000">
<text x="3567.6" y="1001.2" text-anchor="middle">Distance (m)</text>
<text transform="translate(2866.8 476.8) rotate(-90)" text-anchor="middle">CWV Behavioral Dominance</text>
</g>
<text x="2818.6" y="54.7" font-family='"Liberation Sans", Arial, sans-serif' font-size="42" font-weight="bold" fill="#000">(c)</text>
<g clip-path="url(#cp_d)">
<rect x="161.8" y="1043.7" width="1231.8" height="864.5" fill="#ebebeb"/>
<path d="M161.8 1154.2H1393.6M161.8 1369H1393.6M161.8 1583.7H1393.6M161.8 1798.4H1393.6" stroke="#fff" stroke-width="2.1" fill="none"/>
<path d="M161.8 1261.6H1393.6M161.8 1691.1H1393.6M161.8 1905.8H1393.6M161.8 1061.1H1393.6M303.9 1043.7V1908.2M540.8 1043.7V1908.2M777.7 1043.7V1908.2M1014.6 1043.7V1908.2M1251.5 1043.7V1908.2" stroke="#fff" stroke-width="4.2" fill="none"/>
</g>
<g clip-path="url(#cp_d)" stroke="#4a4a4a" stroke-width="3.9" stroke-linejoin="round" fill-opacity="0.9">
<path d="M245.6 1416.7c0.1 2 1.2 4 2.3 6c1.5 2.6 6.2 5.2 8.6 7.9c2.1 2.3 4.3 4.6 4.5 6.9c0.1 2.3-1.4 4.6-3.2 6.9c-1.7 2.3-4.1 4.6-5.8 7c-1.4 1.8-2.3 3.6-3.2 5.5c-0.7 1.5 0 3.1 1.8 4.6c1.4 1.3 5.2 2.5 10.4 3.7c5.1 1.2 12.7 2.5 18 3.7c5.3 1.2 9.8 2.5 13.5 3.7c3.3 1.1 4.8 2.2 5 3.2c0.2 1.1-0.8 2.2-5 3.3c-4.1 1.1-8.7 2.1-13.5 3.2c-4.8 1.1-10.3 2.2-14.9 3.3c-4.5 1-7.6 2.1-9.9 3.2c-2.3 1.1-4.1 2.1-5.4 3.2c-1.4 1.3-2.7 2.5-3.2 3.7H244.9c-0.6-1.2-1.9-2.4-3.3-3.7c-1.3-1.1-3.1-2.1-5.4-3.2c-2.3-1.1-5.3-2.2-9.9-3.2c-4.6-1.1-10.1-2.2-14.9-3.3c-4.8-1.1-9.3-2.1-13.5-3.2c-4.2-1.1-5.1-2.2-5-3.3c0.2-1 1.7-2.1 5-3.2c3.8-1.2 8.2-2.5 13.5-3.7c5.3-1.2 12.9-2.5 18-3.7c5.2-1.2 9-2.4 10.4-3.7c1.8-1.5 2.5-3.1 1.8-4.6c-0.9-1.9-1.7-3.7-3.1-5.5c-1.8-2.4-4.1-4.7-5.9-7c-1.8-2.3-3.3-4.6-3.2-6.9c0.2-2.3 2.4-4.6 4.5-6.9c2.5-2.7 7.1-5.3 8.6-7.9c1.1-2 2.2-4 2.4-6Z" fill="#48e598"/>
<path d="M363.9 1385.7c0 3.4 0.6 6.8 1.4 10.2c0.8 3.1 3.2 6.2 6.3 9.2c3.2 3.1 6.8 6.2 10 9.3c3.1 3.1 6.3 6.1 9 9.2c2.6 3.1 3.5 6.2 3.6 9.3c0 3-0.5 6.1-0.5 9.2c0 3.1 0 6.2 0.5 9.3c0.3 2.3 2.1 4.6 4.5 6.9c2.4 2.3 5 4.6 7.6 6.9c2.2 1.9 4.7 3.7 6.8 5.6c2 1.7 2.6 3.4 2.7 5c0.1 1.7-0.7 3.4-2.7 5.1c-2.2 1.9-4.7 3.7-8.1 5.6c-4 2.1-8.3 4.3-12.2 6.4c-4.1 2.4-8.2 4.7-12.1 7c-3.5 2-6.5 4-9.1 6c-2.3 1.8-3.8 3.7-4.9 5.5c-1.5 2.3-2.5 4.7-2.8 7H363.2c-0.3-2.3-1.4-4.7-2.8-7c-1.2-1.8-2.6-3.7-5-5.5c-2.6-2-5.6-4-9-6c-3.9-2.3-8-4.6-12.2-7c-3.8-2.1-8.2-4.3-12.1-6.4c-3.4-1.9-5.9-3.7-8.1-5.6c-2.1-1.7-2.9-3.4-2.7-5.1c0.1-1.6 0.7-3.3 2.7-5c2.1-1.9 4.6-3.7 6.7-5.6c2.7-2.3 5.3-4.6 7.7-6.9c2.4-2.3 4.1-4.6 4.5-6.9c0.5-3.1 0.5-6.2 0.4-9.3c0-3.1-0.5-6.2-0.4-9.2c0-3.1 0.9-6.2 3.6-9.3c2.7-3.1 5.8-6.1 9-9.2c3.2-3.1 6.8-6.2 9.9-9.3c3.1-3 5.6-6.1 6.3-9.2c0.8-3.4 1.5-6.8 1.5-10.2Z" fill="#b0f653"/>
<path d="M482.7 1093.2c0 12.5 0.4 25 1 37.5c0.3 7.6 1 15.3 1.8 23c0.7 7.7 1.6 15.5 2.7 23.3c1.1 7.7 2.3 15.3 3.6 23c1.3 7.6 2.6 15.3 4 23c1.5 7.8 2.9 15.5 4.5 23.3c1.6 7.7 3.2 15.3 5 23c1.8 7.8 3.6 15.6 5.4 23.4c1.8 7.6 3.6 15.3 5.4 22.9c1.8 7.7 3.6 15.3 5.4 23c1.9 7.8 3.2 15.6 4.5 23.4c1.4 7.6 2.6 15.3 3.6 22.9c1.1 7.7 2 15.4 2.7 23c0.8 7.8 1.4 15.6 1.8 23.4c0.5 7.6 0.9 15.3 0.9 23c0 7.2 0 14.5 0 21.8c0 7.3 0 14.5 0 21.8c0 7.7-0.4 15.3-0.9 23c-0.4 7.8-1 15.6-1.8 23.3c-0.7 7.7-1.6 15.4-2.7 23c-1 7.7-2.2 15.3-3.6 23c-1.3 7.8-2.6 15.6-4.5 23.3c-1.8 7.7-3.6 15.4-5.4 23c-1.8 7.7-3.6 15.3-5.4 23c-1.8 7.8-3.6 15.6-5.4 23.4c-1.8 7.6-3.4 15.3-5 22.9c-1.6 7.8-3 15.6-4.5 23.4c-1.4 7.7-2.7 15.3-4 23c-1.3 7.6-2.5 15.3-3.6 22.9c-1.1 7.8-2 15.6-2.7 23.4c-0.8 7.7-1.5 15.3-1.8 23c-0.6 12.5-1 25-1 37.5H482c0-12.5-0.5-25-1-37.5c-0.4-7.7-1.1-15.3-1.8-23c-0.8-7.8-1.6-15.6-2.7-23.4c-1.1-7.6-2.3-15.3-3.6-22.9c-1.4-7.7-2.7-15.3-4.1-23c-1.4-7.8-2.9-15.6-4.5-23.4c-1.6-7.6-3.2-15.3-5-22.9c-1.8-7.8-3.5-15.6-5.4-23.4c-1.8-7.7-3.6-15.3-5.4-23c-1.8-7.6-3.6-15.3-5.4-23c-1.8-7.7-3.1-15.5-4.5-23.3c-1.3-7.7-2.5-15.3-3.6-23c-1.1-7.6-2-15.3-2.7-23c-0.8-7.7-1.4-15.5-1.8-23.3c-0.5-7.7-0.9-15.3-0.9-23c0-7.3 0-14.5 0-21.8c0-7.3 0-14.6 0-21.8c0-7.7 0.4-15.4 0.9-23c0.4-7.8 1-15.6 1.8-23.4c0.7-7.6 1.6-15.3 2.7-23c1.1-7.6 2.3-15.3 3.6-22.9c1.4-7.8 2.7-15.6 4.5-23.4c1.8-7.7 3.6-15.3 5.4-23c1.8-7.6 3.6-15.3 5.4-22.9c1.9-7.8 3.6-15.6 5.4-23.4c1.8-7.7 3.4-15.3 5-23c1.6-7.8 3.1-15.5 4.5-23.3c1.4-7.7 2.7-15.4 4.1-23c1.3-7.7 2.5-15.3 3.6-23c1.1-7.8 1.9-15.6 2.7-23.3c0.7-7.7 1.4-15.4 1.8-23c0.5-12.5 1-25 1-37.5Z" fill="#48e598"/>
<path d="M601 1082.5c0 12.9 0.5 25.7 1 38.6c0.3 7.9 1 15.7 1.8 23.6c0.8 8 1.6 16 2.7 24c1.1 7.9 2.3 15.8 3.6 23.6c1.3 7.9 2.6 15.8 4.1 23.6c1.4 8 2.9 16 4.5 24c1.5 7.9 3.2 15.8 4.9 23.7c1.8 8 3.6 16 5.4 24c1.8 7.8 3.6 15.7 5.4 23.6c1.8 7.8 3.6 15.7 5.4 23.6c1.9 8 3.2 16 4.5 24c1.4 7.9 2.6 15.7 3.7 23.6c1 7.9 1.9 15.8 2.7 23.6c0.7 8 1.3 16 1.8 24c0.4 7.9 0.9 15.8 0.9 23.6c0 7.5 0 15 0 22.5c0 7.5 0 14.9 0 22.4c0 7.9-0.5 15.8-0.9 23.6c-0.5 8-1.1 16-1.8 24c-0.8 7.9-1.7 15.8-2.7 23.6c-1.1 7.9-2.3 15.8-3.7 23.7c-1.3 8-2.6 16-4.5 24c-1.8 7.8-3.6 15.7-5.4 23.6c-1.8 7.9-3.6 15.7-5.4 23.6c-1.8 8-3.6 16-5.4 24c-1.7 7.9-3.4 15.7-4.9 23.6c-1.6 8-3.1 16-4.5 24c-1.5 7.9-2.8 15.8-4.1 23.6c-1.3 7.9-2.5 15.8-3.6 23.6c-1.1 8-1.9 16.1-2.7 24.1c-0.8 7.8-1.5 15.7-1.8 23.6c-0.5 12.8-1 25.7-1 38.5H600.3c0-12.8-0.5-25.7-1-38.5c-0.3-7.9-1.1-15.8-1.8-23.6c-0.8-8-1.6-16.1-2.7-24.1c-1.1-7.8-2.3-15.7-3.6-23.6c-1.3-7.8-2.7-15.7-4.1-23.6c-1.4-8-2.9-16-4.5-24c-1.6-7.9-3.2-15.7-4.9-23.6c-1.8-8-3.6-16-5.5-24c-1.8-7.9-3.6-15.7-5.4-23.6c-1.8-7.9-3.6-15.8-5.4-23.6c-1.8-8-3.1-16-4.5-24c-1.3-7.9-2.5-15.8-3.6-23.7c-1-7.8-1.9-15.7-2.7-23.6c-0.7-8-1.3-16-1.8-24c-0.4-7.8-0.9-15.7-0.9-23.6c0-7.5 0-14.9 0-22.4c0-7.5 0-15 0-22.5c0-7.8 0.5-15.7 0.9-23.6c0.5-8 1.1-16 1.8-24c0.8-7.8 1.7-15.7 2.7-23.6c1.1-7.9 2.3-15.7 3.6-23.6c1.4-8 2.7-16 4.5-24c1.8-7.9 3.6-15.8 5.4-23.6c1.8-7.9 3.6-15.8 5.4-23.6c1.9-8 3.7-16 5.5-24c1.7-7.9 3.3-15.8 4.9-23.7c1.6-8 3.1-16 4.5-24c1.4-7.8 2.8-15.7 4.1-23.6c1.3-7.8 2.5-15.7 3.6-23.6c1.1-8 1.9-16 2.7-24c0.7-7.9 1.5-15.7 1.8-23.6c0.5-12.9 1-25.7 1-38.6Z" fill="#b0f653"/>
<path d="M719.3 1109.3c0 12 0.5 24 1 36c0.3 7.3 1.1 14.6 1.8 22c0.8 7.4 1.6 14.9 2.7 22.3c1.1 7.4 2.3 14.7 3.6 22.1c1.3 7.3 2.7 14.6 4.1 22c1.4 7.4 2.9 14.9 4.5 22.3c1.6 7.4 3.2 14.7 4.9 22c1.8 7.5 3.6 14.9 5.4 22.4c1.9 7.3 3.7 14.7 5.5 22c1.8 7.3 3.6 14.7 5.4 22c1.8 7.5 3.1 14.9 4.5 22.4c1.3 7.3 2.5 14.7 3.6 22c1 7.3 1.9 14.7 2.7 22c0.7 7.5 1.3 14.9 1.8 22.4c0.4 7.3 0.9 14.6 0.9 22c0 6.9 0 13.9 0 20.9c0 6.9 0 13.9 0 20.9c0 7.3-0.5 14.7-0.9 22c-0.5 7.4-1.1 14.9-1.8 22.4c-0.8 7.3-1.7 14.6-2.7 22c-1.1 7.3-2.3 14.6-3.6 22c-1.4 7.4-2.7 14.9-4.5 22.3c-1.8 7.4-3.6 14.7-5.4 22c-1.8 7.4-3.6 14.7-5.5 22.1c-1.8 7.4-3.6 14.9-5.4 22.3c-1.7 7.4-3.3 14.7-4.9 22c-1.6 7.5-3.1 14.9-4.5 22.4c-1.4 7.3-2.8 14.7-4.1 22c-1.3 7.3-2.5 14.7-3.6 22c-1.1 7.5-1.9 14.9-2.7 22.4c-0.7 7.3-1.5 14.7-1.8 22c-0.5 12-1 23.9-1 35.9H718.6c0-12-0.5-23.9-1-35.9c-0.3-7.3-1-14.7-1.8-22c-0.8-7.5-1.6-14.9-2.7-22.4c-1.1-7.3-2.3-14.7-3.6-22c-1.3-7.3-2.7-14.7-4.1-22c-1.4-7.5-2.9-14.9-4.5-22.4c-1.5-7.3-3.2-14.6-4.9-22c-1.8-7.4-3.6-14.9-5.4-22.3c-1.8-7.4-3.6-14.7-5.4-22.1c-1.8-7.3-3.6-14.6-5.4-22c-1.9-7.4-3.2-14.9-4.6-22.3c-1.3-7.4-2.5-14.7-3.6-22c-1-7.4-1.9-14.7-2.7-22c-0.7-7.5-1.3-15-1.8-22.4c-0.4-7.3-0.9-14.7-0.9-22c0-7 0-14 0-20.9c0-7 0-14 0-20.9c0-7.4 0.5-14.7 0.9-22c0.5-7.5 1.1-14.9 1.8-22.4c0.8-7.3 1.7-14.7 2.7-22c1.1-7.3 2.3-14.7 3.6-22c1.4-7.5 2.7-14.9 4.6-22.4c1.8-7.3 3.6-14.7 5.4-22c1.8-7.3 3.6-14.7 5.4-22c1.8-7.5 3.6-14.9 5.4-22.4c1.7-7.3 3.4-14.6 4.9-22c1.6-7.4 3.1-14.9 4.5-22.3c1.4-7.4 2.8-14.7 4.1-22c1.3-7.4 2.5-14.7 3.6-22.1c1.1-7.4 1.9-14.9 2.7-22.3c0.8-7.4 1.5-14.7 1.8-22c0.5-12 1-24 1-36Z" fill="#48e598"/>
<path d="M837.5 1082.5c0 12.9 0.5 25.7 1 38.6c0.4 7.9 1.1 15.7 1.8 23.6c0.8 8 1.6 16 2.7 24c1.1 7.9 2.3 15.8 3.6 23.6c1.4 7.9 2.7 15.8 4.1 23.6c1.4 8 2.9 16 4.5 24c1.6 7.9 3.2 15.8 5 23.7c1.8 8 3.5 16 5.4 24c1.8 7.8 3.6 15.7 5.4 23.6c1.8 7.8 3.6 15.7 5.4 23.6c1.8 8 3.1 16 4.5 24c1.3 7.9 2.5 15.7 3.6 23.6c1.1 7.9 2 15.8 2.7 23.6c0.8 8 1.4 16 1.8 24c0.5 7.9 0.9 15.8 0.9 23.6c0 7.5 0 15 0 22.5c0 7.5 0 14.9 0 22.4c0 7.9-0.4 15.8-0.9 23.6c-0.4 8-1 16-1.8 24c-0.7 7.9-1.6 15.8-2.7 23.6c-1.1 7.9-2.3 15.8-3.6 23.7c-1.4 8-2.7 16-4.5 24c-1.8 7.8-3.6 15.7-5.4 23.6c-1.8 7.9-3.6 15.7-5.4 23.6c-1.9 8-3.6 16-5.4 24c-1.8 7.9-3.4 15.7-5 23.6c-1.6 8-3.1 16-4.5 24c-1.4 7.9-2.7 15.8-4.1 23.6c-1.3 7.9-2.5 15.8-3.6 23.6c-1.1 8-1.9 16.1-2.7 24.1c-0.7 7.8-1.4 15.7-1.8 23.6c-0.5 12.8-1 25.7-1 38.5H836.8c0-12.8-0.4-25.7-1-38.5c-0.3-7.9-1-15.8-1.8-23.6c-0.7-8-1.6-16.1-2.7-24.1c-1.1-7.8-2.3-15.7-3.6-23.6c-1.3-7.8-2.6-15.7-4-23.6c-1.5-8-2.9-16-4.5-24c-1.6-7.9-3.2-15.7-5-23.6c-1.8-8-3.6-16-5.4-24c-1.8-7.9-3.6-15.7-5.4-23.6c-1.8-7.9-3.6-15.8-5.4-23.6c-1.9-8-3.2-16-4.5-24c-1.4-7.9-2.6-15.8-3.6-23.7c-1.1-7.8-2-15.7-2.7-23.6c-0.8-8-1.4-16-1.8-24c-0.5-7.8-0.9-15.7-0.9-23.6c0-7.5 0-14.9 0-22.4c0-7.5 0-15 0-22.5c0-7.8 0.4-15.7 0.9-23.6c0.4-8 1-16 1.8-24c0.7-7.8 1.6-15.7 2.7-23.6c1-7.9 2.2-15.7 3.6-23.6c1.3-8 2.6-16 4.5-24c1.8-7.9 3.6-15.8 5.4-23.6c1.8-7.9 3.6-15.8 5.4-23.6c1.8-8 3.6-16 5.4-24c1.8-7.9 3.4-15.8 5-23.7c1.6-8 3-16 4.5-24c1.4-7.8 2.7-15.7 4-23.6c1.3-7.8 2.5-15.7 3.6-23.6c1.1-8 2-16 2.7-24c0.8-7.9 1.5-15.7 1.8-23.6c0.6-12.9 1-25.7 1-38.6Z" fill="#b0f653"/>
<path d="M955.9 1082.5c0 12.9 0.4 25.7 1 38.6c0.3 7.9 1 15.7 1.8 23.6c0.7 8 1.6 16 2.7 24c1.1 7.9 2.3 15.8 3.6 23.6c1.3 7.9 2.6 15.8 4 23.6c1.5 8 2.9 16 4.5 24c1.6 7.9 3.2 15.8 5 23.7c1.8 8 3.6 16 5.4 24c1.8 7.8 3.6 15.7 5.4 23.6c1.8 7.8 3.6 15.7 5.4 23.6c1.8 8 3.2 16 4.5 24c1.4 7.9 2.6 15.7 3.6 23.6c1.1 7.9 2 15.8 2.7 23.6c0.8 8 1.4 16 1.8 24c0.5 7.9 0.9 15.8 0.9 23.6c0 7.5 0 15 0 22.5c0 7.5 0 14.9 0 22.4c0 7.9-0.4 15.8-0.9 23.6c-0.4 8-1 16-1.8 24c-0.7 7.9-1.6 15.8-2.7 23.6c-1 7.9-2.2 15.8-3.6 23.7c-1.3 8-2.7 16-4.5 24c-1.8 7.8-3.6 15.7-5.4 23.6c-1.8 7.9-3.6 15.7-5.4 23.6c-1.8 8-3.6 16-5.4 24c-1.8 7.9-3.4 15.7-5 23.6c-1.6 8-3 16-4.5 24c-1.4 7.9-2.7 15.8-4 23.6c-1.3 7.9-2.5 15.8-3.6 23.6c-1.1 8-2 16.1-2.7 24.1c-0.8 7.8-1.5 15.7-1.8 23.6c-0.6 12.8-1 25.7-1 38.5H955.2c0-12.8-0.5-25.7-1-38.5c-0.4-7.9-1.1-15.8-1.8-23.6c-0.8-8-1.6-16.1-2.8-24.1c-1-7.8-2.2-15.7-3.6-23.6c-1.3-7.8-2.6-15.7-4-23.6c-1.4-8-2.9-16-4.5-24c-1.6-7.9-3.2-15.7-5-23.6c-1.8-8-3.6-16-5.4-24c-1.8-7.9-3.6-15.7-5.4-23.6c-1.8-7.9-3.6-15.8-5.4-23.6c-1.8-8-3.1-16-4.5-24c-1.3-7.9-2.5-15.8-3.6-23.7c-1.1-7.8-2-15.7-2.7-23.6c-0.8-8-1.4-16-1.8-24c-0.5-7.8-0.9-15.7-0.9-23.6c0-7.5 0-14.9 0-22.4c0-7.5 0-15 0-22.5c0-7.8 0.4-15.7 0.9-23.6c0.4-8 1-16 1.8-24c0.7-7.8 1.6-15.7 2.7-23.6c1.1-7.9 2.3-15.7 3.6-23.6c1.4-8 2.7-16 4.5-24c1.8-7.9 3.6-15.8 5.4-23.6c1.8-7.9 3.6-15.8 5.4-23.6c1.8-8 3.6-16 5.4-24c1.8-7.9 3.4-15.8 5-23.7c1.6-8 3.1-16 4.5-24c1.4-7.8 2.7-15.7 4-23.6c1.4-7.8 2.6-15.7 3.6-23.6c1.2-8 2-16 2.8-24c0.7-7.9 1.4-15.7 1.8-23.6c0.5-12.9 1-25.7 1-38.6Z" fill="#48e598"/>
<path d="M1074.2 1082.5c0 12.9 0.5 25.7 1 38.6c0.3 7.9 1 15.7 1.8 23.6c0.8 8 1.6 16 2.7 24c1.1 7.9 2.3 15.8 3.6 23.6c1.3 7.9 2.6 15.8 4 23.6c1.5 8 3 16 4.6 24c1.5 7.9 3.2 15.8 4.9 23.7c1.8 8 3.6 16 5.4 24c1.8 7.8 3.6 15.7 5.4 23.6c1.8 7.8 3.6 15.7 5.4 23.6c1.9 8 3.2 16 4.5 24c1.4 7.9 2.6 15.7 3.6 23.6c1.1 7.9 2 15.8 2.7 23.6c0.8 8 1.4 16 1.9 24c0.4 7.9 0.9 15.8 0.9 23.6c0 7.5 0 15 0 22.5c0 7.5 0 14.9 0 22.4c0 7.9-0.5 15.8-0.9 23.6c-0.5 8-1.1 16-1.9 24c-0.7 7.9-1.6 15.8-2.7 23.6c-1 7.9-2.2 15.8-3.6 23.7c-1.3 8-2.6 16-4.5 24c-1.8 7.8-3.6 15.7-5.4 23.6c-1.8 7.9-3.6 15.7-5.4 23.6c-1.8 8-3.6 16-5.4 24c-1.7 7.9-3.4 15.7-4.9 23.6c-1.6 8-3.1 16-4.6 24c-1.4 7.9-2.7 15.8-4 23.6c-1.3 7.9-2.5 15.8-3.6 23.6c-1.1 8-1.9 16.1-2.7 24.1c-0.8 7.8-1.5 15.7-1.8 23.6c-0.5 12.8-1 25.7-1 38.5H1073.5c0-12.8-0.5-25.7-1-38.5c-0.3-7.9-1.1-15.8-1.8-23.6c-0.8-8-1.6-16.1-2.7-24.1c-1.1-7.8-2.3-15.7-3.6-23.6c-1.3-7.8-2.7-15.7-4.1-23.6c-1.4-8-2.9-16-4.5-24c-1.6-7.9-3.2-15.7-5-23.6c-1.7-8-3.5-16-5.4-24c-1.8-7.9-3.6-15.7-5.4-23.6c-1.8-7.9-3.6-15.8-5.4-23.6c-1.8-8-3.1-16-4.5-24c-1.3-7.9-2.5-15.8-3.6-23.7c-1-7.8-1.9-15.7-2.7-23.6c-0.7-8-1.3-16-1.8-24c-0.4-7.8-0.9-15.7-0.9-23.6c0-7.5 0-14.9 0-22.4c0-7.5 0-15 0-22.5c0-7.8 0.5-15.7 0.9-23.6c0.5-8 1.1-16 1.8-24c0.8-7.8 1.7-15.7 2.7-23.6c1.1-7.9 2.3-15.7 3.6-23.6c1.4-8 2.7-16 4.5-24c1.8-7.9 3.6-15.8 5.4-23.6c1.8-7.9 3.6-15.8 5.4-23.6c1.9-8 3.7-16 5.4-24c1.8-7.9 3.4-15.8 5-23.7c1.6-8 3.1-16 4.5-24c1.4-7.8 2.8-15.7 4.1-23.6c1.3-7.8 2.5-15.7 3.6-23.6c1.1-8 1.9-16 2.7-24c0.7-7.9 1.5-15.7 1.8-23.6c0.5-12.9 1-25.7 1-38.6Z" fill="#b0f653"/>
<path d="M1192.5 1093.2c0 12.5 0.5 25 1 37.5c0.3 7.6 1 15.3 1.8 23c0.8 7.7 1.6 15.5 2.7 23.3c1.1 7.7 2.3 15.3 3.6 23c1.3 7.6 2.7 15.3 4.1 23c1.4 7.8 2.9 15.5 4.5 23.3c1.5 7.7 3.2 15.3 4.9 23c1.8 7.8 3.6 15.6 5.4 23.4c1.8 7.6 3.6 15.3 5.4 22.9c1.9 7.7 3.7 15.3 5.5 23c1.8 7.8 3.1 15.6 4.5 23.4c1.3 7.6 2.5 15.3 3.6 22.9c1 7.7 1.9 15.4 2.7 23c0.7 7.8 1.3 15.6 1.8 23.4c0.4 7.6 0.9 15.3 0.9 23c0 7.2 0 14.5 0 21.8c0 7.3 0 14.5 0 21.8c0 7.7-0.5 15.3-0.9 23c-0.5 7.8-1.1 15.6-1.8 23.3c-0.8 7.7-1.7 15.4-2.7 23c-1.1 7.7-2.3 15.3-3.6 23c-1.4 7.8-2.7 15.6-4.5 23.3c-1.8 7.7-3.6 15.4-5.5 23c-1.8 7.7-3.6 15.3-5.4 23c-1.8 7.8-3.6 15.6-5.4 23.4c-1.7 7.6-3.4 15.3-4.9 22.9c-1.6 7.8-3.1 15.6-4.5 23.4c-1.4 7.7-2.8 15.3-4.1 23c-1.3 7.6-2.5 15.3-3.6 22.9c-1.1 7.8-1.9 15.6-2.7 23.4c-0.8 7.7-1.5 15.3-1.8 23c-0.5 12.5-1 25-1 37.5H1191.8c0-12.5-0.5-25-1-37.5c-0.3-7.7-1-15.3-1.8-23c-0.8-7.8-1.6-15.6-2.7-23.4c-1.1-7.6-2.3-15.3-3.6-22.9c-1.3-7.7-2.7-15.3-4.1-23c-1.4-7.8-2.9-15.6-4.5-23.4c-1.5-7.6-3.2-15.3-4.9-22.9c-1.8-7.8-3.6-15.6-5.4-23.4c-1.8-7.7-3.6-15.3-5.4-23c-1.9-7.6-3.7-15.3-5.5-23c-1.8-7.7-3.1-15.5-4.5-23.3c-1.3-7.7-2.5-15.3-3.6-23c-1-7.6-1.9-15.3-2.7-23c-0.7-7.7-1.3-15.5-1.8-23.3c-0.4-7.7-0.9-15.3-0.9-23c0-7.3 0-14.5 0-21.8c0-7.3 0-14.6 0-21.8c0-7.7 0.5-15.4 0.9-23c0.5-7.8 1.1-15.6 1.8-23.4c0.8-7.6 1.7-15.3 2.7-23c1.1-7.6 2.3-15.3 3.6-22.9c1.4-7.8 2.7-15.6 4.5-23.4c1.8-7.7 3.6-15.3 5.5-23c1.8-7.6 3.6-15.3 5.4-22.9c1.8-7.8 3.6-15.6 5.4-23.4c1.7-7.7 3.4-15.3 4.9-23c1.6-7.8 3.1-15.5 4.5-23.3c1.4-7.7 2.8-15.4 4.1-23c1.3-7.7 2.5-15.3 3.6-23c1.1-7.8 1.9-15.6 2.7-23.3c0.8-7.7 1.5-15.4 1.8-23c0.5-12.5 1-25 1-37.5Z" fill="#48e598"/>
<path d="M1310.8 1082.5c0 12.9 0.5 25.7 1 38.6c0.3 7.9 1.1 15.7 1.8 23.6c0.8 8 1.6 16 2.7 24c1.1 7.9 2.3 15.8 3.6 23.6c1.3 7.9 2.7 15.8 4.1 23.6c1.4 8 2.9 16 4.5 24c1.6 7.9 3.2 15.8 5 23.7c1.7 8 3.5 16 5.4 24c1.8 7.8 3.6 15.7 5.4 23.6c1.8 7.8 3.6 15.7 5.4 23.6c1.8 8 3.1 16 4.5 24c1.3 7.9 2.5 15.7 3.6 23.6c1 7.9 1.9 15.8 2.7 23.6c0.7 8 1.3 16 1.8 24c0.4 7.9 0.9 15.8 0.9 23.6c0 7.5 0 15 0 22.5c0 7.5 0 14.9 0 22.4c0 7.9-0.5 15.8-0.9 23.6c-0.5 8-1.1 16-1.8 24c-0.8 7.9-1.7 15.8-2.7 23.6c-1.1 7.9-2.3 15.8-3.6 23.7c-1.4 8-2.7 16-4.5 24c-1.8 7.8-3.6 15.7-5.4 23.6c-1.8 7.9-3.6 15.7-5.4 23.6c-1.9 8-3.7 16-5.4 24c-1.8 7.9-3.4 15.7-5 23.6c-1.6 8-3.1 16-4.5 24c-1.4 7.9-2.8 15.8-4.1 23.6c-1.3 7.9-2.5 15.8-3.6 23.6c-1.1 8-1.9 16.1-2.7 24.1c-0.7 7.8-1.5 15.7-1.8 23.6c-0.5 12.8-1 25.7-1 38.5H1310.1c0-12.8-0.5-25.7-1-38.5c-0.3-7.9-1-15.8-1.8-23.6c-0.8-8-1.6-16.1-2.7-24.1c-1.1-7.8-2.3-15.7-3.6-23.6c-1.3-7.8-2.6-15.7-4-23.6c-1.5-8-3-16-4.6-24c-1.5-7.9-3.2-15.7-4.9-23.6c-1.8-8-3.6-16-5.4-24c-1.8-7.9-3.6-15.7-5.4-23.6c-1.8-7.9-3.6-15.8-5.4-23.6c-1.9-8-3.2-16-4.5-24c-1.4-7.9-2.6-15.8-3.6-23.7c-1.1-7.8-2-15.7-2.7-23.6c-0.8-8-1.4-16-1.9-24c-0.4-7.8-0.9-15.7-0.9-23.6c0-7.5 0-14.9 0-22.4c0-7.5 0-15 0-22.5c0-7.8 0.5-15.7 0.9-23.6c0.5-8 1.1-16 1.9-24c0.7-7.8 1.6-15.7 2.7-23.6c1-7.9 2.2-15.7 3.6-23.6c1.3-8 2.6-16 4.5-24c1.8-7.9 3.6-15.8 5.4-23.6c1.8-7.9 3.6-15.8 5.4-23.6c1.8-8 3.6-16 5.4-24c1.7-7.9 3.4-15.8 4.9-23.7c1.6-8 3.1-16 4.6-24c1.4-7.8 2.7-15.7 4-23.6c1.3-7.8 2.5-15.7 3.6-23.6c1.1-8 1.9-16 2.7-24c0.8-7.9 1.5-15.7 1.8-23.6c0.5-12.9 1-25.7 1-38.6Z" fill="#b0f653"/>
</g>
<g clip-path="url(#cp_d)" stroke="#000" fill="none">
<path d="M245.2 1447.7V1460.6" stroke-width="3.3"/>
<rect x="236.6" y="1460.6" width="17.3" height="15.7" stroke-width="3.3" fill="#48e598" fill-opacity="0.9"/>
<path d="M235 1475.4H255.5" stroke-width="6.4"/>
<path d="M363.5 1429.2V1438.4" stroke-width="3.3"/>
<rect x="354.9" y="1438.4" width="17.3" height="37.9" stroke-width="3.3" fill="#b0f653" fill-opacity="0.9"/>
<path d="M353.3 1475.4H373.8" stroke-width="6.4"/>
<path d="M472.1 1475.8H492.6" stroke-width="6.4"/>
<path d="M590.4 1475.8H610.9" stroke-width="6.4"/>
<path d="M708.7 1475.8H729.2" stroke-width="6.4"/>
<path d="M826.9 1475.8H847.4" stroke-width="6.4"/>
<path d="M945.3 1475.8H965.8" stroke-width="6.4"/>
<path d="M1063.6 1475.8H1084.1" stroke-width="6.4"/>
<path d="M1181.9 1475.8H1202.4" stroke-width="6.4"/>
<path d="M1300.2 1475.8H1320.7" stroke-width="6.4"/>
</g>
<path d="M169.8 1476.3H1383.6" stroke="#000" stroke-width="1.9" stroke-dasharray="43.4 43.4" stroke-dashoffset="21.7" fill="none" clip-path="url(#cp_d)"/>
<path d="M152 1261.6H161.8M152 1476.3H161.8M152 1691.1H161.8M152 1905.8H161.8M152 1061.1H161.8M303.9 1908.2V1918M540.8 1908.2V1918M777.7 1908.2V1918M1014.6 1908.2V1918M1251.5 1908.2V1918" stroke="#333333" stroke-width="3.9" fill="none"/>
<g font-family='"Liberation Sans", Arial, sans-serif' font-size="33" fill="#4d4d4d" stroke="#4d4d4d" stroke-width="0.4">
<text x="144.2" y="1273.5" text-anchor="end">1</text>
<text x="144.2" y="1488.2" text-anchor="end">0</text>
<text x="144.2" y="1703" text-anchor="end">−1</text>
<text x="144.2" y="1917.7" text-anchor="end">−2</text>
<text x="144.2" y="1058.7" text-anchor="end">2</text>
<text x="303.9" y="1950.5" text-anchor="middle">0</text>
<text x="540.8" y="1950.5" text-anchor="middle">6</text>
<text x="777.7" y="1950.5" text-anchor="middle">12</text>
<text x="1014.6" y="1950.5" text-anchor="middle">24</text>
<text x="1251.5" y="1950.5" text-anchor="middle">48</text>
</g>
<g font-family='"DejaVu Sans", "Liberation Sans", sans-serif' font-size="44" fill="#000">
<text x="778.5" y="2006" text-anchor="middle">Distance (m)</text>
<text transform="translate(83.5 1473.7) rotate(-90)" text-anchor="middle">CWV Foraging Strategy : individual</text>
</g>
<text x="34.7" y="1056.5" font-family='"Liberation Sans", Arial, sans-serif' font-size="42" font-weight="bold" fill="#000">(d)</text>
<g clip-path="url(#cp_e)">
<rect x="1573.3" y="1044.2" width="1204.3" height="872.2" fill="#ebebeb"/>
<path d="M1573.3 1191.4H2777.6M1573.3 1480.6H2777.6M1573.3 1769.7H2777.6" stroke="#fff" stroke-width="2.1" fill="none"/>
<path d="M1573.3 1336H2777.6M1573.3 1914.3H2777.6M1573.3 1061.4H2777.6M1712.3 1044.2V1916.4M1943.9 1044.2V1916.4M2175.4 1044.2V1916.4M2407 1044.2V1916.4M2638.6 1044.2V1916.4" stroke="#fff" stroke-width="4.2" fill="none"/>
</g>
<g clip-path="url(#cp_e)" stroke="#4a4a4a" stroke-width="3.9" stroke-linejoin="round" fill-opacity="0.9">
<path d="M1655.3 1238.8c0 6.3 0.6 12.6 1.4 19c0.5 4.5 1.2 9 3.5 13.5c3 6 7.2 12.1 11.4 18.1c4.3 6 9.1 12 13.3 18.1c4.2 6 7.9 12 11 18c3 6 5 12.1 6.6 18.1c1.6 6 2.8 12 3.5 18.1c0.4 3.7 0.7 7.5 0.4 11.2c-0.3 5.3-1 10.6-2.2 15.9c-1.6 7.5-3.5 15-6.1 22.5c-2.7 7.6-5.5 15.1-8.8 22.6c-3.4 7.5-6.8 15.1-10.2 22.6c-3.3 7.5-6.7 15.1-10.1 22.6c-2.7 6-5.2 12-7.5 18.1c-1.7 4.5-2.9 9-3.9 13.5c-0.7 3-1.8 6-1.8 9c0 7.6 0 15.1 0 22.6c0 4.5 1.2 9.1 2.6 13.6c1.9 6 4.3 12 6.2 18c1.9 6.1 3.7 12.1 5.3 18.1c1.6 6 2.7 12 3.5 18.1c0.7 4.8 0.9 9.6 0.9 14.4c0 4.2-0.1 8.5-0.9 12.7c-1.2 6-2.7 12-4.4 18c-1.7 6.1-3.6 12.1-5.3 18.1c-1.7 6-3.3 12.1-4.8 18.1c-1.1 4.5-1.8 9-2.2 13.5c-0.7 6.3-1.3 12.7-1.4 19H1654.6c-0.2-6.3-0.8-12.7-1.4-19c-0.5-4.5-1.1-9-2.2-13.5c-1.5-6-3.2-12.1-4.9-18.1c-1.7-6-3.6-12-5.3-18.1c-1.7-6-3.2-12-4.4-18c-0.8-4.2-0.9-8.5-0.9-12.7c0.1-4.8 0.3-9.6 0.9-14.4c0.8-6.1 1.9-12.1 3.5-18.1c1.6-6 3.4-12 5.3-18.1c1.9-6 4.3-12 6.2-18c1.4-4.5 2.6-9.1 2.6-13.6c0-7.5 0-15 0-22.6c0-3-1-6-1.7-9c-1.1-4.5-2.3-9-4-13.5c-2.3-6.1-4.8-12.1-7.5-18.1c-3.4-7.5-6.7-15.1-10.1-22.6c-3.4-7.5-6.8-15.1-10.1-22.6c-3.4-7.5-6.2-15-8.8-22.6c-2.7-7.5-4.6-15-6.2-22.5c-1.2-5.3-1.9-10.6-2.2-15.9c-0.2-3.7 0-7.5 0.4-11.2c0.7-6.1 2-12.1 3.6-18.1c1.5-6 3.5-12.1 6.6-18.1c3-6 6.8-12 11-18c4.2-6.1 8.9-12.1 13.2-18.1c4.2-6 8.4-12.1 11.4-18.1c2.3-4.5 3-9 3.6-13.5c0.7-6.4 1.4-12.7 1.4-19Z" fill="#48e598"/>
<path d="M1770.4 1324.6c0 4.1 0.8 8.1 1.9 12.2c0.8 3 3.1 6 7.5 9c4.3 3.1 10.4 6.1 16.7 9.1c5.4 2.5 12.1 5.1 17.6 7.7c3.6 1.6 7.9 3.3 7.5 4.9c-0.4 1.8-3 3.6-5.3 5.4c-2.8 2.3-6.1 4.6-8.8 6.8c-3.2 2.7-3.5 5.4-7.5 8.2c-3 2.1-6.8 4.2-10.1 6.3c-3 1.9-6.1 3.9-8.8 5.8c-3.1 2.3-3.7 4.6-4.4 6.8c-0.5 1.5-1 3-0.4 4.5c0.8 2.3 2.1 4.6 3.5 6.8c1.4 2.3 3.6 4.5 4.8 6.8c1 1.8 1 3.6 0.5 5.4c-0.6 2-1.5 3.9-3.1 5.9c-1.6 1.9-3.7 3.9-5.3 5.9c-1.5 1.8-3.1 3.6-4 5.4c-1 2.2-2 4.5-2.3 6.7H1769.7c-0.2-2.2-1.2-4.5-2.3-6.7c-0.8-1.8-2.4-3.6-3.9-5.4c-1.6-2-3.7-4-5.3-5.9c-1.6-2-2.5-3.9-3.1-5.9c-0.5-1.8-0.6-3.6 0.5-5.4c1.2-2.3 3.4-4.5 4.8-6.8c1.4-2.2 2.7-4.5 3.5-6.8c0.6-1.5 0.1-3-0.4-4.5c-0.8-2.2-1.3-4.5-4.4-6.8c-2.7-1.9-5.8-3.9-8.8-5.8c-3.3-2.1-7.1-4.2-10.2-6.3c-3.9-2.8-4.3-5.5-7.4-8.2c-2.7-2.2-6-4.5-8.8-6.8c-2.3-1.8-4.9-3.6-5.3-5.4c-0.4-1.6 3.9-3.3 7.5-4.9c5.5-2.6 12.2-5.2 17.6-7.7c6.3-3 12.3-6 16.7-9.1c4.4-3 6.7-6 7.5-9c1.1-4.1 1.8-8.1 1.8-12.2Z" fill="#b0f653"/>
<path d="M1886.3 1133.3c0 10.9 0.4 21.8 1 32.7c0.3 6 0.8 12.1 2.2 18.1c1.7 7.6 3.9 15.2 6.2 22.7c2.3 7.6 4.8 15.2 7.1 22.7c2.2 7.6 4.5 15.2 6.6 22.7c2.2 7.6 4.2 15.2 6.2 22.7c2 7.6 4 15.2 5.8 22.7c1.8 7.6 3.3 15.2 4.9 22.7c1.5 7.6 3 15.2 4.4 22.7c1.4 7.6 2.6 15.2 3.5 22.7c1 7.6 1.6 15.2 2.2 22.7c0.6 7.6 1.1 15.1 1.4 22.7c0.2 7.6 0.2 15.1 0 22.7c-0.3 7.6-0.7 15.1-1.4 22.7c-0.7 7.6-1.4 15.1-2.6 22.7c-1.2 7.6-2.4 15.1-3.6 22.7c-1.1 7.6-2.3 15.1-3.5 22.7c-1.2 7.6-1.5 15.1-1.8 22.7c-0.2 7.6-0.3 15.1 0 22.7c0.4 7.6 1 15.1 1.4 22.7c0.3 7.6 0.7 15.1 0.8 22.7c0.2 7.6-0.4 15.1-1.3 22.7c-0.8 7.6-1.9 15.1-3.5 22.7c-1.6 7.6-3.3 15.1-5.3 22.7c-2.1 7.5-4.2 15.1-6.2 22.7c-2.1 7.5-4.2 15.1-6.2 22.7c-2.1 7.5-4.2 15.1-6.2 22.7c-2.1 7.5-3.8 15.1-5.4 22.7c-1.5 7.5-2.6 15.1-3.5 22.7c-0.9 7.5-1.7 15.1-2.2 22.7c-0.5 6.8-0.8 13.6-1 20.4H1885.6c-0.2-6.8-0.5-13.6-1-20.4c-0.5-7.6-1.3-15.2-2.2-22.7c-0.9-7.6-2-15.2-3.5-22.7c-1.6-7.6-3.3-15.2-5.3-22.7c-2.1-7.6-4.2-15.2-6.2-22.7c-2.1-7.6-4.2-15.2-6.2-22.7c-2.1-7.6-4.2-15.2-6.2-22.7c-2.1-7.6-3.8-15.1-5.4-22.7c-1.6-7.6-2.7-15.1-3.5-22.7c-0.9-7.6-1.5-15.1-1.3-22.7c0.1-7.6 0.5-15.1 0.8-22.7c0.4-7.6 1-15.1 1.4-22.7c0.3-7.6 0.2-15.1 0-22.7c-0.3-7.6-0.6-15.1-1.8-22.7c-1.2-7.6-2.4-15.1-3.5-22.7c-1.2-7.6-2.4-15.1-3.6-22.7c-1.2-7.6-1.9-15.1-2.6-22.7c-0.7-7.6-1.1-15.1-1.4-22.7c-0.2-7.6-0.2-15.1 0-22.7c0.3-7.6 0.8-15.1 1.4-22.7c0.6-7.5 1.2-15.1 2.2-22.7c0.9-7.5 2.1-15.1 3.5-22.7c1.4-7.5 2.9-15.1 4.4-22.7c1.6-7.5 3.1-15.1 4.9-22.7c1.8-7.5 3.8-15.1 5.8-22.7c2-7.5 4-15.1 6.2-22.7c2.1-7.5 4.4-15.1 6.6-22.7c2.3-7.5 4.8-15.1 7.1-22.7c2.3-7.5 4.5-15.1 6.2-22.7c1.4-6 1.9-12.1 2.2-18.1c0.6-10.9 1-21.8 1-32.7Z" fill="#48e598"/>
<path d="M2002.1 1139.7c0 11.8 0.4 23.6 1 35.4c0.3 6 0.8 12.1 2.2 18.1c1.8 7.6 3.9 15.2 6.2 22.7c2.4 7.6 4.7 15.1 7.1 22.7c2.4 7.6 5.2 15.1 7.5 22.7c2.4 7.6 4.5 15.1 6.7 22.7c2.1 7.6 4.2 15.1 6.2 22.7c2 7.6 3.6 15.1 5.3 22.7c1.7 7.6 3.1 15.1 4.4 22.7c1.3 7.6 2.3 15.1 3.1 22.7c0.9 7.6 1.4 15.1 1.8 22.7c0.3 6 0.3 12.1 0 18.2c-0.3 6-1 12.1-2.2 18.1c-1.5 7.6-3.1 15.1-5.3 22.7c-2.2 7.6-4.5 15.1-6.7 22.7c-2.2 7.6-4.4 15.1-6.6 22.7c-2.2 7.6-3.9 15.1-5.3 22.7c-1.5 7.6-2.4 15.1-2.7 22.7c-0.3 7.6-0.4 15.1 0 22.7c0.5 7.6 0.9 15.1 1.3 22.7c0.5 7.6 0.9 15.1 1.4 22.7c0.4 7.6 0 15.1-0.9 22.7c-0.9 7.6-2.1 15.1-3.6 22.7c-1.4 7.6-2.9 15.1-4.4 22.7c-1.5 7.5-2.9 15.1-4.4 22.7c-1.5 7.5-3 15.1-4.4 22.7c-1.5 7.5-2.6 15.1-3.6 22.7c-1 7.5-1.8 15.1-2.2 22.7c-0.4 7.5-0.6 15.1-0.9 22.7c-0.3 8.3-0.6 16.6-1 24.9H2001.4c-0.3-8.3-0.6-16.6-0.9-24.9c-0.3-7.6-0.5-15.2-0.9-22.7c-0.5-7.6-1.2-15.2-2.2-22.7c-1.1-7.6-2.1-15.2-3.6-22.7c-1.5-7.6-2.9-15.2-4.4-22.7c-1.5-7.6-3-15.2-4.4-22.7c-1.5-7.6-3-15.1-4.5-22.7c-1.5-7.6-2.6-15.1-3.5-22.7c-0.9-7.6-1.3-15.1-0.9-22.7c0.4-7.6 0.9-15.1 1.3-22.7c0.5-7.6 0.9-15.1 1.4-22.7c0.4-7.6 0.2-15.1 0-22.7c-0.3-7.6-1.2-15.1-2.7-22.7c-1.5-7.6-3.1-15.1-5.3-22.7c-2.2-7.6-4.4-15.1-6.7-22.7c-2.2-7.6-4.4-15.1-6.6-22.7c-2.2-7.6-3.8-15.1-5.3-22.7c-1.2-6-1.9-12.1-2.2-18.1c-0.3-6.1-0.4-12.2 0-18.2c0.4-7.6 0.9-15.1 1.7-22.7c0.9-7.6 1.8-15.1 3.1-22.7c1.3-7.6 2.8-15.1 4.5-22.7c1.6-7.6 3.3-15.1 5.3-22.7c1.9-7.6 4-15.1 6.2-22.7c2.1-7.6 4.3-15.1 6.6-22.7c2.4-7.6 5.1-15.1 7.6-22.7c2.4-7.6 4.7-15.1 7-22.7c2.4-7.5 4.5-15.1 6.2-22.7c1.4-6 2-12.1 2.3-18.1c0.5-11.8 0.9-23.6 0.9-35.4Z" fill="#b0f653"/>
<path d="M2118 1121.5c0 11.8 0.4 23.6 0.9 35.4c0.3 6.1 0.9 12.1 2.3 18.2c1.7 7.5 3.8 15.1 6.2 22.7c2.3 7.5 4.5 15.1 7 22.7c2.6 7.5 5.1 15.1 7.6 22.7c2.5 7.5 5 15.1 7.5 22.7c2.5 7.5 4.5 15.1 6.6 22.6c2.1 7.6 4 15.2 5.8 22.7c1.8 7.6 3.2 15.2 4.4 22.7c1.3 7.6 2.1 15.2 2.7 22.7c0.5 6.1 0.6 12.1 0.4 18.2c-0.2 6.1-0.8 12.1-1.7 18.2c-1.3 7.5-2.6 15.1-4.5 22.7c-1.8 7.5-3.7 15.1-5.7 22.7c-2.1 7.5-4.2 15.1-6.2 22.6c-2 7.6-3.9 15.2-5.8 22.7c-1.9 7.6-3.5 15.2-4.9 22.7c-1.3 7.6-2 15.2-2.6 22.7c-0.5 6.1-1 12.1-0.9 18.2c0.1 7.6 0.7 15.1 1.3 22.7c0.7 7.6 1.6 15.1 2.2 22.7c0.7 7.6 1.1 15.1 1.4 22.7c0.3 7.6 0.3 15.1 0 22.7c-0.4 7.6-1.2 15.1-2.2 22.7c-1.1 7.6-2.1 15.1-3.6 22.7c-1.5 7.5-2.9 15.1-4.4 22.7c-1.5 7.5-3 15.1-4.4 22.7c-1.5 7.5-2.8 15.1-4 22.7c-1.3 7.5-2.5 15.1-3.1 22.7c-0.7 7.5-1.1 15.1-1.4 22.7c-0.5 14.3-0.9 28.7-0.9 43.1H2117.3c0-14.4-0.5-28.8-1-43.1c-0.3-7.6-0.7-15.2-1.3-22.7c-0.7-7.6-1.9-15.2-3.1-22.7c-1.3-7.6-2.6-15.2-4-22.7c-1.5-7.6-3-15.2-4.5-22.7c-1.4-7.6-2.9-15.2-4.4-22.7c-1.5-7.6-2.5-15.1-3.5-22.7c-1.1-7.6-1.9-15.1-2.2-22.7c-0.4-7.6-0.4-15.1 0-22.7c0.3-7.6 0.7-15.1 1.3-22.7c0.6-7.6 1.5-15.1 2.2-22.7c0.7-7.6 1.2-15.1 1.3-22.7c0.1-6.1-0.3-12.1-0.9-18.2c-0.6-7.5-1.3-15.1-2.6-22.7c-1.4-7.5-3-15.1-4.9-22.7c-1.9-7.5-3.7-15.1-5.7-22.7c-2.1-7.5-4.2-15.1-6.2-22.6c-2.1-7.6-4-15.2-5.8-22.7c-1.8-7.6-3.2-15.2-4.4-22.7c-1-6.1-1.6-12.1-1.8-18.2c-0.2-6.1-0.1-12.1 0.4-18.2c0.7-7.5 1.4-15.1 2.7-22.7c1.2-7.5 2.7-15.1 4.4-22.7c1.8-7.5 3.7-15.1 5.8-22.7c2.1-7.5 4.1-15.1 6.6-22.6c2.5-7.6 5-15.2 7.6-22.7c2.5-7.6 5-15.2 7.5-22.7c2.5-7.6 4.7-15.2 7.1-22.7c2.3-7.6 4.4-15.2 6.2-22.7c1.4-6.1 1.9-12.1 2.2-18.2c0.6-11.8 1-23.6 1-35.4Z" fill="#48e598"/>
<path d="M2233.8 1234.1c0 6 0.7 12.1 1.5 18.1c0.5 4.6 1.3 9.1 3.5 13.7c2.9 6 7.6 12.1 12.4 18.1c4.8 6.1 11.1 12.1 15.5 18.2c4.5 6 7.9 12.1 11.1 18.1c2.3 4.6 4.3 9.1 5.7 13.6c1.3 3.8 1.9 7.6 1.8 11.4c0 3.8-0.3 7.6-1.8 11.3c-2.2 6.1-4.8 12.1-7 18.2c-2.3 6.1-4.6 12.1-6.7 18.2c-2.1 6-3.4 12.1-5.3 18.1c-2.4 7.6-4.8 15.1-8 22.7c-3.1 7.6-6.5 15.1-9.7 22.7c-2.6 6.1-5.1 12.1-7.5 18.2c-1.9 4.5-2.9 9-3.6 13.6c-0.6 4.5-1.3 9.1-1.3 13.6c0 15.1 0 30.3 0 45.4c0 4.5 1.6 9.1 2.6 13.6c1.4 6.1 3.1 12.1 4.5 18.2c1.3 6 2.3 12.1 3.1 18.1c0.7 6.1 1.1 12.1 1.3 18.2c0.2 6 0.3 12.1-0.4 18.1c-0.8 6.1-1.9 12.2-3.1 18.2c-1.3 6.1-2.9 12.1-4 18.2c-1.2 6-2.2 12.1-2.7 18.1c-0.4 4.6-0.6 9.1-0.9 13.6c-0.4 8.4-0.8 16.7-1 25H2233.1c-0.1-8.3-0.5-16.6-0.9-25c-0.3-4.5-0.5-9-0.9-13.6c-0.6-6-1.5-12.1-2.7-18.1c-1.1-6.1-2.7-12.1-4-18.2c-1.2-6-2.3-12.1-3.1-18.2c-0.7-6-0.6-12.1-0.4-18.1c0.2-6.1 0.5-12.1 1.3-18.2c0.8-6 1.8-12.1 3.1-18.1c1.4-6.1 3.1-12.1 4.5-18.2c1-4.5 2.6-9.1 2.6-13.6c0-15.1 0-30.3 0-45.4c0-4.5-0.7-9.1-1.3-13.6c-0.7-4.6-1.7-9.1-3.6-13.6c-2.4-6.1-4.9-12.1-7.5-18.2c-3.2-7.6-6.6-15.1-9.7-22.7c-3.2-7.6-5.6-15.1-8-22.7c-1.9-6-3.2-12.1-5.3-18.1c-2.1-6.1-4.4-12.1-6.7-18.2c-2.2-6.1-4.8-12.1-7-18.2c-1.5-3.7-1.8-7.5-1.8-11.3c-0.1-3.8 0.5-7.6 1.8-11.4c1.4-4.5 3.3-9 5.7-13.6c3.2-6 6.6-12.1 11.1-18.1c4.4-6.1 10.7-12.1 15.5-18.2c4.8-6 9.5-12.1 12.4-18.1c2.2-4.6 3-9.1 3.5-13.7c0.8-6 1.4-12.1 1.4-18.1Z" fill="#b0f653"/>
<path d="M2349.7 1083.4c0 15.4 0.4 30.8 1 46.3c0.2 7.5 0.4 15.1 2.2 22.7c1.7 7.5 3.5 15.1 5.3 22.7c1.8 7.5 3.5 15.1 5.3 22.7c1.8 7.5 3.5 15.1 5.3 22.7c1.8 7.5 3.4 15.1 4.9 22.7c1.5 7.5 2.7 15.1 4 22.7c1.2 7.5 2.4 15.1 3.5 22.6c1.1 7.6 1.9 15.2 2.7 22.7c0.7 7.6 1.3 15.2 1.7 22.7c0.5 7.6 0.7 15.2 0.9 22.7c0.2 6.1 0.3 12.1 0 18.2c-0.3 7.6-0.9 15.1-1.7 22.7c-0.9 7.6-1.8 15.1-2.7 22.7c-0.9 7.6-1.8 15.1-2.7 22.7c-0.8 7.6-1.1 15.1-1.3 22.7c-0.2 7.6-0.1 15.1 0.5 22.7c0.5 7.6 1.4 15.1 2.6 22.7c1.3 7.5 2.7 15.1 4.4 22.7c1.8 7.5 4 15.1 5.8 22.7c1.8 7.5 3.4 15.1 4.9 22.7c1.5 7.5 2.6 15.1 3.5 22.7c0.8 6 1.1 12.1 1.3 18.1c0.3 6.1 0.1 12.1-0.4 18.2c-0.7 7.6-1.8 15.1-3.5 22.7c-1.8 7.6-3.6 15.1-5.8 22.7c-2.2 7.5-4.3 15.1-6.6 22.7c-2.4 7.5-4.8 15.1-7.1 22.7c-2.4 7.5-4.8 15.1-7.1 22.7c-2.4 7.5-4.3 15.1-6.2 22.7c-1.9 7.5-3.7 15.1-5.3 22.7c-1.7 7.5-3.1 15.1-4.5 22.7c-1.3 7.5-2.4 15.1-3.1 22.7c-0.3 4.5-0.6 9-0.8 13.6c-0.4 7.2-0.8 14.5-1 21.8H2349c-0.3-7.3-0.6-14.6-1-21.8c-0.2-4.6-0.5-9.1-0.9-13.6c-0.6-7.6-1.8-15.2-3.1-22.7c-1.3-7.6-2.8-15.2-4.4-22.7c-1.7-7.6-3.4-15.2-5.3-22.7c-1.9-7.6-3.9-15.2-6.2-22.7c-2.4-7.6-4.8-15.2-7.1-22.7c-2.4-7.6-4.7-15.2-7.1-22.7c-2.4-7.6-4.5-15.2-6.6-22.7c-2.2-7.6-4.1-15.1-5.8-22.7c-1.8-7.6-2.9-15.1-3.5-22.7c-0.6-6.1-0.7-12.1-0.5-18.2c0.2-6 0.6-12.1 1.3-18.1c1-7.6 2.1-15.2 3.6-22.7c1.5-7.6 3.1-15.2 4.9-22.7c1.7-7.6 3.9-15.2 5.7-22.7c1.8-7.6 3.2-15.2 4.4-22.7c1.3-7.6 2.2-15.1 2.7-22.7c0.5-7.6 0.7-15.1 0.4-22.7c-0.2-7.6-0.4-15.1-1.3-22.7c-0.9-7.6-1.8-15.1-2.6-22.7c-0.9-7.6-1.8-15.1-2.7-22.7c-0.9-7.6-1.5-15.1-1.8-22.7c-0.2-6.1-0.1-12.1 0-18.2c0.2-7.5 0.5-15.1 0.9-22.7c0.5-7.5 1-15.1 1.8-22.7c0.7-7.5 1.6-15.1 2.6-22.7c1.1-7.5 2.3-15.1 3.6-22.6c1.2-7.6 2.5-15.2 4-22.7c1.4-7.6 3.1-15.2 4.8-22.7c1.8-7.6 3.6-15.2 5.4-22.7c1.7-7.6 3.5-15.2 5.3-22.7c1.7-7.6 3.5-15.2 5.3-22.7c1.8-7.6 1.9-15.2 2.2-22.7c0.6-15.5 1-30.9 1-46.3Z" fill="#48e598"/>
<path d="M2465.1 1297.6c0 3.8 0.7 7.6 1.8 11.4c0.9 3 3.7 6 8.9 9.1c5.2 3 12.2 6 17.7 9c5.5 3.1 10.6 6.1 15.5 9.1c4.1 2.6 7.4 5.2 7.5 7.7c0.1 2.5-1.6 4.9-4 7.3c-3.2 3.3-6.4 6.7-10.2 10c-4.3 3.8-9 7.5-13.2 11.3c-4.3 3.8-8.1 7.6-12 11.4c-3.1 3-6 6-8 9.1c-1.4 2.2-2 4.5-2.6 6.8c-0.6 2.2-1.4 4.5-1.4 6.8c0 16.6 0 33.3 0 49.9c0 3 1.7 6.1 3.1 9.1c1.9 3.8 4.4 7.6 6.2 11.3c1.5 3.1 2.7 6.1 3.6 9.1c0.7 2.3 0.8 4.6 0.4 6.8c-0.5 3.1-1.5 6.1-3.1 9.1c-1.5 3-3.8 6.1-5.3 9.1c-1.5 3-2.9 6-3.5 9.1c-0.8 3.7-1.4 7.5-1.4 11.3H2464.4c0-3.8-0.7-7.6-1.5-11.3c-0.6-3.1-2-6.1-3.5-9.1c-1.5-3-3.8-6.1-5.3-9.1c-1.6-3-2.6-6-3.1-9.1c-0.4-2.2-0.3-4.5 0.4-6.8c0.9-3 2.1-6 3.6-9.1c1.8-3.7 4.3-7.5 6.2-11.3c1.4-3 3.1-6.1 3.1-9.1c0-16.6 0-33.3 0-49.9c0-2.3-0.8-4.6-1.4-6.8c-0.6-2.3-1.2-4.6-2.6-6.8c-2-3.1-4.9-6.1-8-9.1c-3.9-3.8-7.7-7.6-12-11.4c-4.2-3.8-8.9-7.5-13.2-11.3c-3.8-3.3-7-6.7-10.2-10c-2.4-2.4-4.1-4.8-4-7.3c0.1-2.5 3.4-5.1 7.5-7.7c4.9-3 10-6 15.5-9.1c5.5-3 12.5-6 17.7-9c5.3-3.1 8-6.1 8.9-9.1c1.1-3.8 1.9-7.6 1.9-11.4Z" fill="#b0f653"/>
<path d="M2581.3 1265.9c0 7.5 0.7 15.1 1.5 22.6c0.4 4.6 2.1 9.1 3.5 13.7c1.8 6 4 12.1 5.8 18.1c1.7 6.1 2.9 12.1 3.9 18.2c1.1 6 1.8 12.1 1.8 18.1c0.1 6.1-0.5 12.1-1.8 18.2c-1.3 6.1-2.7 12.1-4.4 18.2c-1.7 6-3.7 12.1-5.3 18.1c-1.2 4.6-2.3 9.1-3.1 13.6c-0.7 4.6-1.8 9.1-1.8 13.7c0 33.2 0 66.5 0 99.8c0 4.6 1.6 9.1 3.1 13.6c1.5 4.6 3.3 9.1 6.2 13.7c2.9 4.5 6.3 9 10.2 13.6c3.9 4.5 8 9.1 12 13.6c3.9 4.5 7.8 9.1 11.5 13.6c3.1 3.8 4.6 7.6 6.2 11.4c1.3 3 2.1 6 2.2 9c0.1 3.1-0.6 6.1-2.2 9.1c-2 3.8-4.3 7.6-7.5 11.4c-4 4.5-8.1 9-12 13.6c-3.9 4.5-7.8 9.1-11.5 13.6c-3.8 4.5-6.8 9.1-9.8 13.6c-2.4 3.8-4.2 7.6-5.7 11.4c-1.6 4.1-2.4 8.1-2.8 12.2H2580.6c-0.3-4.1-1.1-8.1-2.7-12.2c-1.5-3.8-3.3-7.6-5.8-11.4c-2.9-4.5-6-9.1-9.7-13.6c-3.8-4.5-7.6-9.1-11.5-13.6c-3.9-4.6-8.1-9.1-12-13.6c-3.2-3.8-5.5-7.6-7.5-11.4c-1.6-3-2.3-6-2.2-9.1c0.1-3 0.9-6 2.2-9c1.6-3.8 3.1-7.6 6.2-11.4c3.7-4.5 7.6-9.1 11.5-13.6c3.9-4.5 8-9.1 12-13.6c3.9-4.6 7.2-9.1 10.1-13.6c3-4.6 4.8-9.1 6.2-13.7c1.5-4.5 3.1-9 3.1-13.6c0-33.3 0-66.6 0-99.8c0-4.6-1-9.1-1.7-13.7c-0.8-4.5-1.9-9-3.1-13.6c-1.7-6-3.7-12.1-5.3-18.1c-1.7-6.1-3.2-12.1-4.5-18.2c-1.3-6.1-1.8-12.1-1.7-18.2c0-6 0.6-12.1 1.7-18.1c1.1-6.1 2.3-12.1 4-18.2c1.7-6 4-12.1 5.8-18.1c1.3-4.6 3-9.1 3.5-13.7c0.8-7.5 1.4-15.1 1.4-22.6Z" fill="#48e598"/>
<path d="M2697.2 1095.6c0 12.9 0.4 25.7 0.9 38.6c0.3 6.1 0.9 12.1 2.3 18.2c1.7 7.5 3.8 15.1 6.2 22.7c2.3 7.5 4.5 15.1 7 22.7c2.6 7.5 5.1 15.1 7.6 22.7c2.5 7.5 5 15.1 7.5 22.7c2.5 7.5 4.5 15.1 6.6 22.7c2.2 7.5 4.1 15.1 5.8 22.6c1.7 7.6 2.9 15.2 4 22.7c1.1 7.6 2 15.2 2.6 22.7c0.8 9.1 1 18.2 0.9 27.3c0 7.5-0.3 15.1-1.3 22.7c-1 7.5-2.1 15.1-3.5 22.7c-1.5 7.5-3.1 15.1-4.5 22.7c-1.4 7.5-2.7 15.1-4 22.7c-1.2 7.5-2.1 15.1-3.1 22.7c-0.9 7.5-1.6 15.1-2.2 22.7c-0.5 7.5-0.8 15.1-0.9 22.7c0 7.5-0.1 15.1 0 22.7c0.1 7.5 0.4 15.1 0.5 22.7c0.1 7.5 0.1 15.1 0 22.7c-0.1 7.5-0.4 15.1-0.9 22.7c-0.5 7.5-1.3 15.1-2.2 22.6c-0.9 7.6-1.8 15.2-3.1 22.7c-1.3 7.6-2.7 15.2-4 22.7c-1.3 7.6-2.7 15.2-4 22.7c-1.3 7.6-3 15.2-4.4 22.7c-1.4 7.6-2.7 15.2-4 22.7c-1.3 7.6-2.4 15.2-3.5 22.7c-1.2 7.6-2.2 15.2-3.1 22.7c-1 7.6-1.5 15.2-1.8 22.7c-0.2 6.1-0.3 12.1-0.5 18.2c-0.2 10.6-0.6 21.2-0.9 31.8H2696.5c-0.4-10.6-0.7-21.2-1-31.8c-0.2-6.1-0.2-12.1-0.5-18.2c-0.2-7.5-0.8-15.1-1.7-22.7c-0.9-7.5-2-15.1-3.1-22.7c-1.2-7.5-2.3-15.1-3.6-22.7c-1.2-7.5-2.6-15.1-4-22.7c-1.4-7.5-3.1-15.1-4.4-22.7c-1.3-7.5-2.6-15.1-4-22.7c-1.3-7.5-2.6-15.1-4-22.7c-1.3-7.5-2.1-15.1-3.1-22.7c-0.9-7.5-1.7-15.1-2.2-22.6c-0.5-7.6-0.8-15.2-0.9-22.7c0-7.6-0.1-15.2 0-22.7c0.1-7.6 0.4-15.2 0.5-22.7c0.1-7.6 0.1-15.2 0-22.7c-0.1-7.6-0.4-15.2-0.9-22.7c-0.5-7.6-1.3-15.2-2.2-22.7c-0.9-7.6-1.9-15.2-3.1-22.7c-1.2-7.6-2.6-15.2-4-22.7c-1.4-7.6-3-15.2-4.4-22.7c-1.5-7.6-2.6-15.2-3.6-22.7c-0.9-7.6-1.2-15.2-1.3-22.7c-0.1-9.1 0.1-18.2 0.9-27.3c0.6-7.5 1.5-15.1 2.6-22.7c1.2-7.5 2.3-15.1 4-22.7c1.7-7.5 3.7-15.1 5.8-22.6c2.1-7.6 4.1-15.2 6.6-22.7c2.5-7.6 5-15.2 7.6-22.7c2.5-7.6 5-15.2 7.5-22.7c2.5-7.6 4.7-15.2 7.1-22.7c2.3-7.6 4.4-15.2 6.2-22.7c1.4-6.1 1.9-12.1 2.2-18.2c0.6-12.9 1-25.7 1-38.6Z" fill="#b0f653"/>
</g>
<g clip-path="url(#cp_e)" stroke="#000" fill="none">
<path d="M1654.9 1338.2V1360.7" stroke-width="3.3"/>
<rect x="1646.3" y="1360.7" width="17.3" height="79" stroke-width="3.3" fill="#48e598" fill-opacity="0.9"/>
<path d="M1644.7 1409.1H1665.2" stroke-width="6.4"/>
<path d="M1770.1 1355.3V1367.5" stroke-width="3.3"/>
<rect x="1761.4" y="1367.5" width="17.3" height="21.2" stroke-width="3.3" fill="#b0f653" fill-opacity="0.9"/>
<path d="M1759.8 1369.8H1780.3" stroke-width="6.4"/>
<path d="M1886 1348.5V1416.6" stroke-width="3.3"/>
<rect x="1877.3" y="1416.6" width="17.3" height="208.8" stroke-width="3.3" fill="#48e598" fill-opacity="0.9"/>
<path d="M1875.7 1452H1896.2" stroke-width="6.4"/>
<path d="M2001.8 1336.7V1400.7M2001.8 1545.5V1625.4" stroke-width="3.3"/>
<rect x="1993.1" y="1400.7" width="17.3" height="144.8" stroke-width="3.3" fill="#b0f653" fill-opacity="0.9"/>
<path d="M1991.5 1424.7H2012" stroke-width="6.4"/>
<path d="M2117.6 1336.7V1368.4M2117.6 1585.9V1625.4" stroke-width="3.3"/>
<rect x="2109" y="1368.4" width="17.3" height="217.4" stroke-width="3.3" fill="#48e598" fill-opacity="0.9"/>
<path d="M2107.4 1374.8H2127.9" stroke-width="6.4"/>
<path d="M2233.5 1337.6V1340.8M2233.5 1413.8V1419.3" stroke-width="3.3"/>
<rect x="2224.8" y="1340.8" width="17.3" height="73.1" stroke-width="3.3" fill="#b0f653" fill-opacity="0.9"/>
<path d="M2223.2 1343.9H2243.7" stroke-width="6.4"/>
<path d="M2349.3 1336.7V1386.1" stroke-width="3.3"/>
<rect x="2340.7" y="1386.1" width="17.3" height="239.2" stroke-width="3.3" fill="#48e598" fill-opacity="0.9"/>
<path d="M2339.1 1624H2359.6" stroke-width="6.4"/>
<path d="M2464.7 1336.7V1342.1" stroke-width="3.3"/>
<rect x="2456.1" y="1342.1" width="17.3" height="26.8" stroke-width="3.3" fill="#b0f653" fill-opacity="0.9"/>
<path d="M2454.5 1345.3H2475" stroke-width="6.4"/>
<rect x="2572.3" y="1560" width="17.3" height="65.4" stroke-width="3.3" fill="#48e598" fill-opacity="0.9"/>
<path d="M2570.7 1624H2591.2" stroke-width="6.4"/>
<path d="M2696.8 1336.7V1342.1M2696.8 1568.6V1625.4" stroke-width="3.3"/>
<rect x="2688.2" y="1342.1" width="17.3" height="226.5" stroke-width="3.3" fill="#b0f653" fill-opacity="0.9"/>
<path d="M2686.6 1408.8H2707.1" stroke-width="6.4"/>
</g>
<path d="M1570.3 1625.2H2770.3" stroke="#000" stroke-width="1.6" stroke-dasharray="42.9 42.9" stroke-dashoffset="21.4" fill="none" clip-path="url(#cp_e)"/>
<path d="M1563.5 1336H1573.3M1563.5 1625.2H1573.3M1563.5 1914.3H1573.3M1563.5 1061.4H1573.3M1712.3 1916.4V1926.2M1943.9 1916.4V1926.2M2175.4 1916.4V1926.2M2407 1916.4V1926.2M2638.6 1916.4V1926.2" stroke="#333333" stroke-width="3.9" fill="none"/>
<g font-family='"Liberation Sans", Arial, sans-serif' font-size="33" fill="#4d4d4d" stroke="#4d4d4d" stroke-width="0.4">
<text x="1555.7" y="1347.9" text-anchor="end">0.25</text>
<text x="1555.7" y="1637.1" text-anchor="end">0.00</text>
<text x="1555.7" y="1926.2" text-anchor="end">−0.25</text>
<text x="1555.7" y="1058.9" text-anchor="end">0.50</text>
<text x="1712.3" y="1957.9" text-anchor="middle">0</text>
<text x="1943.9" y="1957.9" text-anchor="middle">6</text>
<text x="2175.4" y="1957.9" text-anchor="middle">12</text>
<text x="2407" y="1957.9" text-anchor="middle">24</text>
<text x="2638.6" y="1957.9" text-anchor="middle">48</text>
</g>
<g font-family='"DejaVu Sans", "Liberation Sans", sans-serif' font-size="44" fill="#000">
<text x="2167.2" y="2007.6" text-anchor="middle">Distance (m)</text>
<text transform="translate(1471.8 1466.7) rotate(-90)" text-anchor="middle">CWV Foraging Strategy : group</text>
</g>
<text x="1421" y="1064.2" font-family='"Liberation Sans", Arial, sans-serif' font-size="42" font-weight="bold" fill="#000">(e)</text>
<g clip-path="url(#cp_f)">
<rect x="2964.8" y="1047.6" width="1203.8" height="871" fill="#ebebeb"/>
<path d="M2964.8 1195.3H4168.6M2964.8 1483.8H4168.6M2964.8 1772.3H4168.6" stroke="#fff" stroke-width="2.1" fill="none"/>
<path d="M2964.8 1051.1H4168.6M2964.8 1339.6H4168.6M2964.8 1916.6H4168.6M3103.7 1047.6V1918.6M3335.2 1047.6V1918.6M3566.7 1047.6V1918.6M3798.2 1047.6V1918.6M4029.7 1047.6V1918.6" stroke="#fff" stroke-width="4.2" fill="none"/>
</g>
<g clip-path="url(#cp_f)" stroke="#4a4a4a" stroke-width="3.9" stroke-linejoin="round" fill-opacity="0.9">
<path d="M3046.6 1132.2c0 11.7 0.4 23.5 1 35.2c0.3 6.1 0.8 12.1 2.2 18.1c1.7 7.5 3.8 15.1 6.2 22.6c2.3 7.5 4.5 15 7 22.6c2.5 7.5 5 15 7.5 22.6c2.5 7.5 5 15 7.5 22.5c2.5 7.6 4.8 15.1 7 22.6c2.3 7.5 4 15.1 5.7 22.6c1.8 7.5 3.1 15.1 4.5 22.6c1.3 7.5 2.2 15 2.6 22.6c0.4 7.5-0.2 15-1.3 22.6c-1.2 7.5-2.4 15-4.4 22.5c-2 7.6-4 15.1-6.2 22.6c-2.2 7.5-4.4 15.1-6.6 22.6c-2.2 7.5-4.2 15.1-6.2 22.6c-1.9 7.5-3.4 15-4.8 22.6c-1.5 7.5-2.6 15-3.1 22.6c-0.5 7.5-0.6 15 0 22.5c0.6 7.6 1.2 15.1 1.8 22.6c0.6 7.5 1.1 15.1 1.7 22.6c0.6 7.5 1 15.1 1.3 22.6c0.4 7.5 0.1 15-0.4 22.6c-0.5 7.5-1.2 15-2.2 22.6c-1 7.5-2 15-3.5 22.5c-1.5 7.6-3 15.1-4.4 22.6c-1.5 7.6-3 15.1-4.4 22.6c-1.5 7.5-2.8 15.1-4 22.6c-1.2 7.5-2.2 15-2.6 22.6c-0.5 7.5-0.7 15-0.9 22.6c-0.4 13.5-0.8 27.1-1 40.6H3045.9c-0.2-13.5-0.5-27.1-1-40.6c-0.2-7.6-0.4-15.1-0.8-22.6c-0.5-7.6-1.4-15.1-2.7-22.6c-1.2-7.5-2.5-15.1-3.9-22.6c-1.5-7.5-3-15-4.4-22.6c-1.5-7.5-3-15-4.4-22.6c-1.5-7.5-2.5-15-3.6-22.5c-1-7.6-1.7-15.1-2.2-22.6c-0.5-7.6-0.7-15.1-0.4-22.6c0.3-7.5 0.7-15.1 1.3-22.6c0.6-7.5 1.2-15.1 1.8-22.6c0.6-7.5 1.1-15 1.7-22.6c0.6-7.5 0.5-15 0-22.5c-0.5-7.6-1.6-15.1-3-22.6c-1.5-7.6-2.9-15.1-4.9-22.6c-2-7.5-4-15.1-6.2-22.6c-2.1-7.5-4.4-15.1-6.6-22.6c-2.1-7.5-4.1-15-6.1-22.6c-2-7.5-3.3-15-4.4-22.5c-1.2-7.6-1.8-15.1-1.4-22.6c0.4-7.6 1.4-15.1 2.7-22.6c1.3-7.5 2.7-15.1 4.4-22.6c1.7-7.5 3.5-15.1 5.7-22.6c2.3-7.5 4.6-15 7.1-22.6c2.5-7.5 5-15 7.4-22.5c2.5-7.6 5-15.1 7.5-22.6c2.5-7.6 4.8-15.1 7.1-22.6c2.3-7.5 4.4-15.1 6.1-22.6c1.4-6 2-12 2.2-18.1c0.6-11.7 1-23.5 1-35.2Z" fill="#48e598"/>
<path d="M3162.2 1321c0 3.8 1.1 7.5 2.3 11.3c1 3 3.8 6 6.2 9c2.4 3 5.1 6.1 7.9 9.1c2.9 3 6.8 6 11.9 9c3.9 2.3 10.6 4.5 15.4 6.8c3.2 1.5 7.1 3 7.5 4.5c0.5 1.8-3.9 3.6-7.5 5.4c-4.8 2.4-11.5 4.8-15.4 7.2c-4.1 2.6-7.7 5.2-11 7.7c-2.9 2.3-5.7 4.5-7.9 6.8c-2.3 2.2-3.4 4.5-4.4 6.8c-0.9 1.9-1.8 3.9-0.9 5.8c0.9 2.1 2.7 4.2 4.4 6.4c2 2.4 4.8 4.8 6.6 7.2c1.4 1.8 1.6 3.6 1.3 5.4c-0.3 2.3-1.3 4.5-3.5 6.8c-1.8 1.9-4.7 3.9-6.6 5.9c-1.7 1.8-3.6 3.6-4.4 5.4c-0.9 1.9-1.7 3.9-1.9 5.8H3161.5c-0.1-1.9-0.9-3.9-1.8-5.8c-0.8-1.8-2.7-3.6-4.4-5.4c-1.9-2-4.8-4-6.6-5.9c-2.2-2.3-3.2-4.5-3.5-6.8c-0.3-1.8-0.1-3.6 1.3-5.4c1.8-2.4 4.6-4.8 6.6-7.2c1.7-2.2 3.5-4.3 4.4-6.4c0.9-1.9 0-3.9-0.9-5.8c-1-2.3-2.2-4.6-4.4-6.8c-2.2-2.3-5-4.5-7.9-6.8c-3.3-2.5-6.9-5.1-11-7.7c-3.9-2.4-10.6-4.8-15.4-7.2c-3.6-1.8-8-3.6-7.5-5.4c0.4-1.5 4.3-3 7.5-4.5c4.8-2.3 11.5-4.5 15.4-6.8c5.1-3 9-6 11.9-9c2.8-3 5.5-6.1 7.9-9.1c2.4-3 5.2-6 6.2-9c1.2-3.8 2.2-7.5 2.2-11.3Z" fill="#b0f653"/>
<path d="M3277.7 1137.4c0 10.8 0.4 21.7 1 32.6c0.3 6 0.8 12 2.2 18.1c1.7 7.5 3.8 15.1 6.2 22.6c2.3 7.6 4.8 15.1 7 22.7c2.3 7.5 4.5 15.1 6.7 22.6c2.1 7.6 4.2 15.1 6.2 22.7c2 7.5 4 15.1 5.7 22.6c1.8 7.6 3.4 15.1 4.9 22.7c1.6 7.5 3 15.1 4.4 22.6c1.4 7.6 2.6 15.1 3.6 22.7c0.9 7.5 1.6 15 2.2 22.6c0.6 7.5 1.1 15.1 1.3 22.6c0.3 7.6 0.2 15.1 0 22.7c-0.2 7.5-0.6 15.1-1.3 22.6c-0.7 7.6-1.5 15.1-2.7 22.7c-1.1 7.5-2.3 15.1-3.5 22.6c-1.2 7.6-2.4 15.1-3.5 22.7c-1.2 7.5-1.6 15.1-1.8 22.6c-0.3 7.6-0.4 15.1 0 22.7c0.3 7.5 0.9 15.1 1.3 22.6c0.4 7.6 0.7 15.1 0.9 22.7c0.2 7.5-0.5 15.1-1.3 22.6c-0.9 7.6-2 15.1-3.6 22.7c-1.6 7.5-3.2 15.1-5.3 22.6c-2.1 7.5-4.1 15.1-6.2 22.6c-2.1 7.6-4.1 15.1-6.2 22.7c-2.1 7.5-4.1 15.1-6.2 22.6c-2 7.6-3.8 15.1-5.3 22.7c-1.5 7.5-2.6 15.1-3.5 22.6c-0.9 7.6-1.8 15.1-2.2 22.7c-0.5 6.8-0.9 13.6-1 20.4H3277c-0.2-6.8-0.6-13.6-1-20.4c-0.5-7.6-1.3-15.1-2.2-22.7c-0.9-7.5-2-15.1-3.6-22.6c-1.5-7.6-3.2-15.1-5.3-22.7c-2-7.5-4.1-15.1-6.2-22.6c-2-7.6-4.1-15.1-6.2-22.7c-2-7.5-4.1-15.1-6.2-22.6c-2-7.5-3.7-15.1-5.3-22.6c-1.6-7.6-2.7-15.1-3.5-22.7c-0.9-7.5-1.5-15.1-1.3-22.6c0.1-7.6 0.4-15.1 0.8-22.7c0.4-7.5 1-15.1 1.4-22.6c0.3-7.6 0.2-15.1 0-22.7c-0.3-7.5-0.6-15.1-1.8-22.6c-1.2-7.6-2.4-15.1-3.5-22.7c-1.2-7.5-2.4-15.1-3.6-22.6c-1.2-7.6-1.9-15.1-2.6-22.7c-0.8-7.5-1.2-15.1-1.4-22.6c-0.2-7.6-0.2-15.1 0-22.7c0.3-7.5 0.8-15.1 1.4-22.6c0.5-7.6 1.2-15.1 2.2-22.6c0.9-7.6 2.1-15.1 3.5-22.7c1.4-7.5 2.9-15.1 4.4-22.6c1.6-7.6 3.1-15.1 4.9-22.7c1.8-7.5 3.7-15.1 5.8-22.6c2-7.6 4-15.1 6.2-22.7c2.1-7.5 4.3-15.1 6.6-22.6c2.3-7.6 4.8-15.1 7.1-22.7c2.3-7.5 4.5-15.1 6.2-22.6c1.4-6.1 1.9-12.1 2.2-18.1c0.5-10.9 1-21.8 1-32.6Z" fill="#48e598"/>
<path d="M3393.5 1143.7c0 11.8 0.4 23.5 0.9 35.3c0.3 6.1 0.9 12.1 2.2 18.1c1.8 7.6 3.9 15.1 6.2 22.7c2.4 7.5 4.7 15.1 7.1 22.6c2.5 7.6 5.2 15.1 7.6 22.7c2.3 7.5 4.5 15.1 6.6 22.6c2.1 7.6 4.2 15.1 6.2 22.7c2 7.5 3.7 15.1 5.3 22.6c1.7 7.6 3.1 15.1 4.4 22.7c1.3 7.5 2.3 15.1 3.1 22.6c0.9 7.6 1.4 15.1 1.8 22.7c0.3 6 0.3 12 0 18.1c-0.3 6-1 12.1-2.2 18.1c-1.5 7.5-3.1 15.1-5.3 22.6c-2.2 7.6-4.5 15.1-6.7 22.7c-2.2 7.5-4.4 15.1-6.6 22.6c-2.2 7.6-3.8 15.1-5.3 22.7c-1.5 7.5-2.4 15.1-2.7 22.6c-0.3 7.6-0.4 15.1 0 22.7c0.5 7.5 0.9 15.1 1.4 22.6c0.4 7.6 0.8 15.1 1.3 22.7c0.4 7.5 0 15.1-0.9 22.6c-0.9 7.6-2.1 15.1-3.5 22.7c-1.5 7.5-3 15.1-4.5 22.6c-1.4 7.5-2.9 15.1-4.4 22.6c-1.5 7.6-3 15.1-4.4 22.7c-1.5 7.5-2.6 15.1-3.6 22.6c-1 7.6-1.8 15.1-2.2 22.7c-0.4 7.5-0.6 15.1-0.9 22.6c-0.3 8.3-0.6 16.6-0.9 24.9H3392.8c-0.4-8.3-0.7-16.6-1-24.9c-0.3-7.5-0.5-15.1-0.9-22.6c-0.4-7.6-1.2-15.1-2.2-22.7c-1-7.5-2.1-15.1-3.6-22.6c-1.4-7.6-2.9-15.1-4.4-22.7c-1.5-7.5-2.9-15.1-4.4-22.6c-1.5-7.5-3-15.1-4.4-22.6c-1.5-7.6-2.7-15.1-3.6-22.7c-0.9-7.5-1.3-15.1-0.9-22.6c0.5-7.6 0.9-15.1 1.4-22.7c0.4-7.5 0.8-15.1 1.3-22.6c0.4-7.6 0.3-15.1 0-22.7c-0.3-7.5-1.2-15.1-2.7-22.6c-1.4-7.6-3.1-15.1-5.3-22.7c-2.2-7.5-4.4-15.1-6.6-22.6c-2.2-7.6-4.5-15.1-6.7-22.7c-2.2-7.5-3.8-15.1-5.3-22.6c-1.2-6-1.9-12.1-2.2-18.1c-0.3-6.1-0.3-12.1 0-18.1c0.4-7.6 0.9-15.1 1.8-22.7c0.8-7.5 1.8-15.1 3.1-22.6c1.3-7.6 2.8-15.1 4.4-22.7c1.7-7.5 3.4-15.1 5.3-22.6c2-7.6 4.1-15.1 6.2-22.7c2.2-7.5 4.3-15.1 6.7-22.6c2.3-7.6 5-15.1 7.5-22.7c2.4-7.5 4.7-15.1 7.1-22.6c2.3-7.6 4.4-15.1 6.2-22.7c1.3-6 1.9-12 2.2-18.1c0.5-11.8 1-23.5 1-35.3Z" fill="#b0f653"/>
<path d="M3509.2 1125.6c0 11.8 0.4 23.5 1 35.3c0.3 6 0.8 12.1 2.2 18.1c1.8 7.6 3.9 15.1 6.2 22.7c2.4 7.5 4.6 15.1 7.1 22.6c2.5 7.6 5 15.1 7.5 22.7c2.5 7.5 5.1 15.1 7.6 22.6c2.5 7.6 4.5 15.1 6.6 22.7c2.1 7.5 4 15.1 5.8 22.6c1.7 7.5 3.1 15.1 4.4 22.6c1.2 7.6 2 15.1 2.6 22.7c0.5 6 0.7 12.1 0.5 18.1c-0.2 6-0.8 12.1-1.8 18.1c-1.2 7.6-2.6 15.1-4.4 22.7c-1.9 7.5-3.7 15.1-5.8 22.6c-2 7.6-4.2 15.1-6.2 22.7c-2 7.5-3.9 15.1-5.7 22.6c-1.9 7.6-3.5 15.1-4.9 22.7c-1.3 7.5-2 15.1-2.6 22.6c-0.6 6-1.1 12.1-0.9 18.1c0.1 7.6 0.6 15.1 1.3 22.7c0.7 7.5 1.6 15.1 2.2 22.6c0.6 7.6 1 15.1 1.3 22.7c0.4 7.5 0.4 15.1 0 22.6c-0.3 7.6-1.1 15.1-2.2 22.7c-1 7.5-2 15.1-3.5 22.6c-1.5 7.5-3 15.1-4.4 22.6c-1.5 7.6-3 15.1-4.5 22.7c-1.5 7.5-2.7 15.1-4 22.6c-1.2 7.6-2.4 15.1-3.1 22.7c-0.6 7.5-1 15.1-1.3 22.6c-0.5 14.4-1 28.7-1 43.1H3508.5c0-14.4-0.4-28.7-0.9-43.1c-0.3-7.5-0.8-15.1-1.4-22.6c-0.6-7.6-1.8-15.1-3.1-22.7c-1.2-7.5-2.5-15.1-4-22.6c-1.4-7.6-2.9-15.1-4.4-22.7c-1.5-7.5-2.9-15.1-4.4-22.6c-1.5-7.5-2.5-15.1-3.5-22.6c-1.1-7.6-1.9-15.1-2.3-22.7c-0.3-7.5-0.3-15.1 0-22.6c0.4-7.6 0.7-15.1 1.4-22.7c0.6-7.5 1.5-15.1 2.2-22.6c0.6-7.6 1.2-15.1 1.3-22.7c0.1-6-0.4-12.1-0.9-18.1c-0.6-7.5-1.3-15.1-2.6-22.6c-1.4-7.6-3-15.1-4.9-22.7c-1.9-7.5-3.7-15.1-5.8-22.6c-2-7.6-4.1-15.1-6.2-22.7c-2-7.5-3.9-15.1-5.7-22.6c-1.9-7.6-3.2-15.1-4.4-22.7c-1-6-1.6-12.1-1.8-18.1c-0.2-6-0.1-12.1 0.4-18.1c0.6-7.6 1.4-15.1 2.7-22.7c1.2-7.5 2.6-15.1 4.4-22.6c1.8-7.5 3.7-15.1 5.8-22.6c2.1-7.6 4.1-15.1 6.6-22.7c2.5-7.5 5-15.1 7.5-22.6c2.5-7.6 5.1-15.1 7.6-22.7c2.5-7.5 4.7-15.1 7-22.6c2.4-7.6 4.5-15.1 6.2-22.7c1.4-6 2-12.1 2.3-18.1c0.5-11.8 0.9-23.5 0.9-35.3Z" fill="#48e598"/>
<path d="M3625.1 1237.9c0 6 0.6 12.1 1.4 18.1c0.6 4.5 1.4 9.1 3.5 13.6c2.9 6 7.6 12.1 12.4 18.1c4.8 6.1 11.1 12.1 15.5 18.1c4.5 6.1 7.9 12.1 11.1 18.2c2.4 4.5 4.3 9 5.7 13.5c1.3 3.8 1.9 7.6 1.8 11.4c0 3.7-0.3 7.5-1.8 11.3c-2.2 6-4.8 12.1-7 18.1c-2.3 6-4.6 12.1-6.7 18.1c-2.1 6.1-3.3 12.1-5.3 18.1c-2.4 7.6-4.8 15.1-8 22.7c-3.1 7.5-6.5 15.1-9.7 22.6c-2.6 6.1-5.1 12.1-7.5 18.2c-1.8 4.5-2.9 9-3.6 13.5c-0.6 4.6-1.3 9.1-1.3 13.6c0 15.1 0 30.2 0 45.3c0 4.6 1.6 9.1 2.7 13.6c1.4 6 3.1 12.1 4.4 18.1c1.3 6.1 2.3 12.1 3.1 18.1c0.8 6.1 1.1 12.1 1.3 18.2c0.2 6 0.3 12-0.4 18.1c-0.8 6-1.9 12.1-3.1 18.1c-1.3 6-2.8 12.1-4 18.1c-1.2 6.1-2.1 12.1-2.7 18.1c-0.4 4.6-0.6 9.1-0.8 13.6c-0.5 8.3-0.8 16.6-1 24.9H3624.4c-0.2-8.3-0.6-16.6-1-24.9c-0.2-4.5-0.5-9-0.9-13.6c-0.5-6-1.5-12-2.6-18.1c-1.2-6-2.8-12.1-4-18.1c-1.3-6-2.4-12.1-3.1-18.1c-0.8-6.1-0.7-12.1-0.5-18.1c0.2-6.1 0.6-12.1 1.4-18.2c0.7-6 1.7-12 3.1-18.1c1.3-6 3-12.1 4.4-18.1c1-4.5 2.6-9 2.6-13.6c0-15.1 0-30.2 0-45.3c0-4.5-0.6-9-1.3-13.6c-0.6-4.5-1.7-9-3.5-13.5c-2.5-6.1-5-12.1-7.6-18.2c-3.2-7.5-6.6-15.1-9.7-22.6c-3.1-7.6-5.5-15.1-8-22.7c-1.9-6-3.2-12-5.3-18.1c-2.1-6-4.4-12.1-6.6-18.1c-2.3-6-4.8-12.1-7.1-18.1c-1.4-3.8-1.7-7.6-1.8-11.3c0-3.8 0.6-7.6 1.8-11.4c1.5-4.5 3.4-9 5.8-13.5c3.1-6.1 6.6-12.1 11-18.2c4.5-6 10.7-12 15.5-18.1c4.8-6 9.5-12.1 12.4-18.1c2.2-4.5 3-9.1 3.6-13.6c0.7-6 1.4-12.1 1.4-18.1Z" fill="#b0f653"/>
<path d="M3740.9 1087.5c0 15.4 0.4 30.8 0.9 46.2c0.3 7.6 0.5 15.1 2.2 22.7c1.8 7.5 3.6 15.1 5.4 22.6c1.7 7.6 3.5 15.1 5.3 22.7c1.7 7.5 3.5 15.1 5.3 22.6c1.8 7.6 3.4 15.1 4.9 22.7c1.4 7.5 2.7 15.1 3.9 22.6c1.3 7.6 2.5 15.1 3.6 22.7c1.1 7.5 1.9 15.1 2.6 22.6c0.8 7.5 1.4 15.1 1.8 22.6c0.4 7.6 0.7 15.1 0.9 22.7c0.1 6 0.2 12.1 0 18.1c-0.3 7.6-0.9 15.1-1.8 22.7c-0.9 7.5-1.8 15.1-2.6 22.6c-0.9 7.6-1.8 15.1-2.7 22.6c-0.9 7.6-1.1 15.1-1.3 22.7c-0.2 7.5-0.1 15.1 0.4 22.6c0.5 7.6 1.4 15.1 2.7 22.7c1.2 7.5 2.6 15.1 4.4 22.6c1.8 7.6 4 15.1 5.8 22.7c1.7 7.5 3.3 15.1 4.8 22.6c1.5 7.6 2.6 15.1 3.6 22.7c0.7 6 1.1 12.1 1.3 18.1c0.2 6 0.1 12.1-0.4 18.1c-0.7 7.6-1.8 15.1-3.6 22.7c-1.7 7.5-3.6 15.1-5.7 22.6c-2.2 7.5-4.3 15.1-6.7 22.6c-2.3 7.6-4.7 15.1-7.1 22.7c-2.3 7.5-4.7 15.1-7 22.6c-2.4 7.6-4.3 15.1-6.2 22.7c-2 7.5-3.7 15.1-5.4 22.6c-1.6 7.6-3.1 15.1-4.4 22.7c-1.3 7.5-2.4 15.1-3.1 22.6c-0.4 4.6-0.6 9.1-0.9 13.6c-0.4 7.3-0.7 14.5-0.9 21.8H3740.2c-0.3-7.3-0.6-14.5-1-21.8c-0.3-4.5-0.5-9-0.9-13.6c-0.7-7.5-1.8-15.1-3.1-22.6c-1.3-7.6-2.8-15.1-4.4-22.7c-1.7-7.5-3.4-15.1-5.3-22.6c-2-7.6-3.9-15.1-6.2-22.7c-2.4-7.5-4.8-15.1-7.1-22.6c-2.4-7.6-4.7-15.1-7.1-22.7c-2.4-7.5-4.5-15.1-6.7-22.6c-2.1-7.5-4-15.1-5.7-22.6c-1.8-7.6-2.9-15.1-3.5-22.7c-0.6-6-0.7-12.1-0.5-18.1c0.2-6 0.6-12.1 1.3-18.1c1-7.6 2.1-15.1 3.6-22.7c1.5-7.5 3.1-15.1 4.8-22.6c1.8-7.6 4-15.1 5.8-22.7c1.8-7.5 3.2-15.1 4.4-22.6c1.3-7.6 2.2-15.1 2.7-22.7c0.5-7.5 0.7-15.1 0.4-22.6c-0.2-7.6-0.4-15.1-1.3-22.7c-0.9-7.5-1.8-15-2.7-22.6c-0.8-7.5-1.7-15.1-2.6-22.6c-0.9-7.6-1.5-15.1-1.8-22.7c-0.2-6-0.1-12.1 0-18.1c0.2-7.6 0.5-15.1 0.9-22.7c0.4-7.5 1-15.1 1.8-22.6c0.7-7.5 1.5-15.1 2.6-22.6c1.1-7.6 2.3-15.1 3.6-22.7c1.2-7.5 2.5-15.1 4-22.6c1.4-7.6 3.1-15.1 4.8-22.7c1.8-7.5 3.6-15.1 5.3-22.6c1.8-7.6 3.6-15.1 5.4-22.7c1.7-7.5 3.5-15.1 5.3-22.6c1.7-7.6 1.9-15.1 2.2-22.7c0.6-15.4 1-30.8 1-46.2Z" fill="#48e598"/>
<path d="M3856.2 1301.3c0 3.8 0.8 7.6 1.8 11.3c0.9 3.1 3.7 6.1 8.9 9.1c5.2 3 12.2 6 17.7 9.1c5.5 3 10.6 6 15.5 9c4.1 2.6 7.4 5.1 7.5 7.7c0.1 2.4-1.6 4.8-4 7.3c-3.2 3.3-6.3 6.6-10.1 9.9c-4.4 3.8-9.1 7.6-13.3 11.3c-4.2 3.8-8.1 7.6-12 11.4c-3.1 3-6 6-7.9 9c-1.5 2.3-2.1 4.6-2.7 6.8c-0.6 2.3-1.3 4.6-1.3 6.8c0 16.6 0 33.2 0 49.8c0 3.1 1.6 6.1 3.1 9.1c1.8 3.8 4.3 7.5 6.2 11.3c1.4 3 2.6 6.1 3.5 9.1c0.7 2.2 0.8 4.5 0.5 6.8c-0.5 3-1.6 6-3.1 9c-1.6 3-3.9 6.1-5.4 9.1c-1.4 3-2.9 6-3.5 9c-0.7 3.8-1.4 7.6-1.4 11.4H3855.5c0-3.8-0.7-7.6-1.4-11.4c-0.6-3-2.1-6-3.6-9c-1.5-3-3.8-6.1-5.3-9.1c-1.5-3-2.6-6-3.1-9c-0.4-2.3-0.2-4.6 0.5-6.8c0.9-3 2-6.1 3.5-9.1c1.8-3.8 4.4-7.5 6.2-11.3c1.4-3 3.1-6 3.1-9.1c0-16.6 0-33.2 0-49.8c0-2.2-0.7-4.5-1.3-6.8c-0.6-2.2-1.2-4.5-2.7-6.8c-2-3-4.9-6-8-9c-3.8-3.8-7.7-7.6-11.9-11.4c-4.2-3.7-9-7.5-13.3-11.3c-3.8-3.3-6.9-6.6-10.2-9.9c-2.3-2.5-4.1-4.9-4-7.3c0.2-2.6 3.4-5.1 7.6-7.7c4.8-3 10-6 15.5-9c5.4-3.1 12.4-6.1 17.7-9.1c5.2-3 7.9-6 8.8-9.1c1.1-3.7 1.9-7.5 1.9-11.3Z" fill="#b0f653"/>
<path d="M3972.4 1269.6c0 7.6 0.6 15.1 1.4 22.7c0.5 4.5 2.2 9 3.6 13.5c1.8 6.1 4 12.1 5.7 18.2c1.8 6 2.9 12 4 18.1c1.1 6 1.7 12.1 1.8 18.1c0 6-0.5 12.1-1.8 18.1c-1.3 6-2.7 12.1-4.4 18.1c-1.7 6.1-3.7 12.1-5.3 18.1c-1.2 4.6-2.4 9.1-3.1 13.6c-0.8 4.6-1.8 9.1-1.8 13.6c0 33.2 0 66.4 0 99.7c0 4.5 1.6 9 3.1 13.6c1.5 4.5 3.3 9 6.2 13.5c2.9 4.6 6.3 9.1 10.2 13.6c3.9 4.6 8 9.1 11.9 13.6c4 4.5 7.8 9.1 11.6 13.6c3 3.8 4.5 7.6 6.2 11.3c1.3 3 2 6.1 2.2 9.1c0.1 3-0.6 6-2.2 9c-2.1 3.8-4.3 7.6-7.6 11.4c-3.9 4.5-8 9-11.9 13.6c-3.9 4.5-7.8 9-11.5 13.5c-3.8 4.6-6.8 9.1-9.8 13.6c-2.4 3.8-4.3 7.6-5.7 11.4c-1.6 4-2.5 8.1-2.8 12.2H3971.7c-0.3-4.1-1.1-8.2-2.7-12.2c-1.5-3.8-3.3-7.6-5.8-11.4c-2.9-4.5-6-9-9.7-13.6c-3.8-4.5-7.6-9-11.5-13.5c-3.9-4.6-8.1-9.1-12-13.6c-3.2-3.8-5.5-7.6-7.5-11.4c-1.6-3-2.3-6-2.2-9c0.1-3 0.9-6.1 2.2-9.1c1.6-3.7 3.1-7.5 6.2-11.3c3.7-4.5 7.6-9.1 11.5-13.6c3.9-4.5 8-9 11.9-13.6c4-4.5 7.3-9 10.2-13.6c2.9-4.5 4.7-9 6.2-13.5c1.5-4.6 3.1-9.1 3.1-13.6c0-33.3 0-66.5 0-99.7c0-4.5-1-9-1.7-13.6c-0.8-4.5-1.9-9-3.1-13.6c-1.7-6-3.7-12-5.4-18.1c-1.6-6-3.1-12.1-4.4-18.1c-1.3-6-1.8-12.1-1.8-18.1c0.1-6 0.7-12.1 1.8-18.1c1.1-6.1 2.3-12.1 4-18.1c1.7-6.1 4-12.1 5.8-18.2c1.3-4.5 3-9 3.5-13.5c0.8-7.6 1.4-15.1 1.4-22.7Z" fill="#48e598"/>
<path d="M4088.2 1099.8c0 12.8 0.4 25.6 1 38.5c0.3 6 0.8 12 2.2 18.1c1.7 7.5 3.9 15.1 6.2 22.6c2.3 7.6 4.6 15.1 7.1 22.7c2.5 7.5 5 15.1 7.5 22.6c2.5 7.6 5 15.1 7.5 22.7c2.5 7.5 4.6 15.1 6.7 22.6c2.1 7.6 4 15.1 5.7 22.7c1.7 7.5 2.9 15.1 4 22.6c1.1 7.5 2 15.1 2.7 22.6c0.7 9.1 0.9 18.2 0.8 27.2c0 7.6-0.3 15.1-1.3 22.7c-0.9 7.5-2.1 15.1-3.5 22.6c-1.4 7.6-3 15.1-4.4 22.7c-1.5 7.5-2.8 15.1-4 22.6c-1.3 7.6-2.2 15.1-3.1 22.7c-0.9 7.5-1.7 15.1-2.2 22.6c-0.6 7.5-0.9 15.1-0.9 22.6c-0.1 7.6-0.1 15.1 0 22.7c0.1 7.5 0.3 15.1 0.4 22.6c0.1 7.6 0.1 15.1 0 22.7c-0.1 7.5-0.4 15.1-0.9 22.6c-0.5 7.6-1.3 15.1-2.2 22.7c-0.9 7.5-1.8 15.1-3.1 22.6c-1.3 7.6-2.6 15.1-4 22.7c-1.3 7.5-2.6 15.1-4 22.6c-1.3 7.6-3 15.1-4.4 22.7c-1.4 7.5-2.7 15.1-4 22.6c-1.2 7.6-2.4 15.1-3.5 22.7c-1.2 7.5-2.2 15.1-3.1 22.6c-0.9 7.6-1.5 15.1-1.8 22.6c-0.2 6.1-0.3 12.1-0.4 18.2c-0.3 10.5-0.6 21.1-1 31.7H4087.5c-0.4-10.6-0.7-21.2-1-31.7c-0.1-6.1-0.2-12.1-0.4-18.2c-0.3-7.5-0.9-15-1.8-22.6c-0.9-7.5-1.9-15.1-3.1-22.6c-1.1-7.6-2.3-15.1-3.5-22.7c-1.3-7.5-2.6-15.1-4-22.6c-1.4-7.6-3.1-15.1-4.4-22.7c-1.4-7.5-2.7-15.1-4-22.6c-1.4-7.6-2.7-15.1-4-22.7c-1.3-7.5-2.2-15.1-3.1-22.6c-0.9-7.6-1.7-15.1-2.2-22.7c-0.5-7.5-0.8-15.1-0.9-22.6c-0.1-7.6-0.1-15.1 0-22.7c0.1-7.5 0.3-15.1 0.4-22.6c0.1-7.6 0.1-15.1 0-22.7c0-7.5-0.3-15.1-0.9-22.6c-0.5-7.5-1.2-15.1-2.2-22.6c-0.9-7.6-1.8-15.1-3.1-22.7c-1.2-7.5-2.5-15.1-3.9-22.6c-1.4-7.6-3-15.1-4.5-22.7c-1.4-7.5-2.6-15.1-3.5-22.6c-1-7.6-1.3-15.1-1.3-22.7c-0.1-9 0.1-18.1 0.8-27.2c0.7-7.5 1.6-15.1 2.7-22.6c1.1-7.5 2.3-15.1 4-22.6c1.7-7.6 3.6-15.1 5.7-22.7c2.2-7.5 4.2-15.1 6.7-22.6c2.5-7.6 5-15.1 7.5-22.7c2.5-7.5 5-15.1 7.5-22.6c2.5-7.6 4.8-15.1 7.1-22.7c2.3-7.5 4.5-15.1 6.2-22.6c1.4-6.1 1.9-12.1 2.2-18.1c0.6-12.9 1-25.7 1-38.5Z" fill="#b0f653"/>
</g>
<g clip-path="url(#cp_f)" stroke="#000" fill="none">
<path d="M3046.3 1340.4V1349M3046.3 1536.4V1628.1" stroke-width="3.3"/>
<rect x="3037.6" y="1349" width="17.3" height="187.4" stroke-width="3.3" fill="#48e598" fill-opacity="0.9"/>
<path d="M3036 1371.6H3056.5" stroke-width="6.4"/>
<path d="M3161.9 1346.7V1364.4M3161.9 1382.9V1391.9" stroke-width="3.3"/>
<rect x="3153.2" y="1364.4" width="17.3" height="18.5" stroke-width="3.3" fill="#b0f653" fill-opacity="0.9"/>
<path d="M3151.6 1371.6H3172.1" stroke-width="6.4"/>
<path d="M3277.3 1352V1420" stroke-width="3.3"/>
<rect x="3268.7" y="1420" width="17.3" height="208.3" stroke-width="3.3" fill="#48e598" fill-opacity="0.9"/>
<path d="M3267.1 1455.3H3287.6" stroke-width="6.4"/>
<path d="M3393.1 1340.3V1404.1M3393.1 1548.6V1628.3" stroke-width="3.3"/>
<rect x="3384.5" y="1404.1" width="17.3" height="144.5" stroke-width="3.3" fill="#b0f653" fill-opacity="0.9"/>
<path d="M3382.9 1428.1H3403.4" stroke-width="6.4"/>
<path d="M3508.9 1340.3V1372M3508.9 1588.9V1628.3" stroke-width="3.3"/>
<rect x="3500.2" y="1372" width="17.3" height="217" stroke-width="3.3" fill="#48e598" fill-opacity="0.9"/>
<path d="M3498.6 1378.3H3519.1" stroke-width="6.4"/>
<path d="M3624.7 1341.2V1344.3M3624.7 1417.3V1422.7" stroke-width="3.3"/>
<rect x="3616.1" y="1344.3" width="17.3" height="72.9" stroke-width="3.3" fill="#b0f653" fill-opacity="0.9"/>
<path d="M3614.5 1347.5H3635" stroke-width="6.4"/>
<path d="M3740.5 1340.3V1389.6" stroke-width="3.3"/>
<rect x="3731.9" y="1389.6" width="17.3" height="238.7" stroke-width="3.3" fill="#48e598" fill-opacity="0.9"/>
<path d="M3730.3 1627H3750.8" stroke-width="6.4"/>
<path d="M3855.8 1340.3V1345.7" stroke-width="3.3"/>
<rect x="3847.2" y="1345.7" width="17.3" height="26.7" stroke-width="3.3" fill="#b0f653" fill-opacity="0.9"/>
<path d="M3845.6 1348.9H3866.1" stroke-width="6.4"/>
<rect x="3963.4" y="1563.1" width="17.3" height="65.2" stroke-width="3.3" fill="#48e598" fill-opacity="0.9"/>
<path d="M3961.8 1627H3982.3" stroke-width="6.4"/>
<path d="M4087.9 1340.3V1345.7M4087.9 1571.7V1628.3" stroke-width="3.3"/>
<rect x="4079.2" y="1345.7" width="17.3" height="226" stroke-width="3.3" fill="#b0f653" fill-opacity="0.9"/>
<path d="M4077.6 1412.3H4098.1" stroke-width="6.4"/>
</g>
<path d="M2968 1628.1H4168" stroke="#000" stroke-width="1.6" stroke-dasharray="42.9 42.9" stroke-dashoffset="21.4" fill="none" clip-path="url(#cp_f)"/>
<path d="M2955 1051.1H2964.8M2955 1339.6H2964.8M2955 1628.1H2964.8M2955 1916.6H2964.8M3103.7 1918.6V1928.4M3335.2 1918.6V1928.4M3566.7 1918.6V1928.4M3798.2 1918.6V1928.4M4029.7 1918.6V1928.4" stroke="#333333" stroke-width="3.9" fill="none"/>
<g font-family='"Liberation Sans", Arial, sans-serif' font-size="33" fill="#4d4d4d" stroke="#4d4d4d" stroke-width="0.4">
<text x="2947.2" y="1063" text-anchor="end">0.50</text>
<text x="2947.2" y="1351.5" text-anchor="end">0.25</text>
<text x="2947.2" y="1640" text-anchor="end">0.00</text>
<text x="2947.2" y="1928.5" text-anchor="end">−0.25</text>
<text x="3103.7" y="1960.5" text-anchor="middle">0</text>
<text x="3335.2" y="1960.5" text-anchor="middle">6</text>
<text x="3566.7" y="1960.5" text-anchor="middle">12</text>
<text x="3798.2" y="1960.5" text-anchor="middle">24</text>
<text x="4029.7" y="1960.5" text-anchor="middle">48</text>
</g>
<g font-family='"DejaVu Sans", "Liberation Sans", sans-serif' font-size="44" fill="#000">
<text x="3567.4" y="2011.7" text-anchor="middle">Distance (m)</text>
<text transform="translate(2868 1485.5) rotate(-90)" text-anchor="middle">CWV Foraging Strategy : collective</text>
</g>
<text x="2834.3" y="1062.7" font-family='"Liberation Sans", Arial, sans-serif' font-size="42" font-weight="bold" fill="#000">(f)</text>
<g clip-path="url(#cp_g)">
<rect x="166.2" y="2055.2" width="1224.8" height="919.4" fill="#ebebeb"/>
<path d="M166.2 2272.2H1391M166.2 2551H1391M166.2 2829.8H1391" stroke="#fff" stroke-width="2.1" fill="none"/>
<path d="M166.2 2132.8H1391M166.2 2411.6H1391M166.2 2969.2H1391M307.5 2055.2V2974.6M543.1 2055.2V2974.6M778.6 2055.2V2974.6M1014.1 2055.2V2974.6M1249.7 2055.2V2974.6" stroke="#fff" stroke-width="4.2" fill="none"/>
</g>
<g clip-path="url(#cp_g)" stroke="#4a4a4a" stroke-width="3.9" stroke-linejoin="round" fill-opacity="0.9">
<path d="M249.1 2145.2c0 13.9 0.5 27.7 1.1 41.6c0.4 8.1 0.9 16.2 2.4 24.4c1.5 8.1 3.5 16.3 5.7 24.4c2.2 8.2 4.5 16.3 6.7 24.4c2.2 8.2 4.4 16.3 6.6 24.5c2.3 8.1 4.5 16.2 6.7 24.4c2.2 8.1 4.5 16.3 6.7 24.4c2.2 8.1 3.9 16.3 5.7 24.4c1.8 8.2 3.4 16.3 4.8 24.4c1.4 8.2 2.4 16.3 3.3 24.5c0.9 8.1 1.4 16.2 1.9 24.4c0.4 7.3 0.6 14.6 0.5 22c-0.2 7.3-0.7 14.6-1.5 21.9c-0.8 8.2-1.8 16.3-3.3 24.5c-1.5 8.1-3.1 16.3-4.8 24.4c-1.6 8.1-3.5 16.3-5.2 24.4c-1.6 8.2-2.8 16.3-3.8 24.4c-1 8.2-1.8 16.3-1.9 24.5c-0.1 8.1-0.1 16.2 0 24.4c0.1 8.1 0.4 16.3 0.5 24.4c0 8.1-0.5 16.3-1 24.4c-0.4 6.5-0.9 13.1-1.9 19.6c-1.3 8.1-2.7 16.2-4.3 24.4c-1.6 8.1-3.2 16.3-4.7 24.4c-1.6 8.2-3.2 16.3-4.8 24.4c-1.6 8.2-3.2 16.3-4.8 24.5c-1.6 8.1-2.9 16.2-4.3 24.4c-1.3 8.1-2.3 16.3-3.3 24.4c-0.8 6.5-1.5 13-1.9 19.5c-0.5 10.1-1.1 20.2-1.1 30.3H248.4c0-10.1-0.5-20.2-1-30.3c-0.4-6.5-1.2-13-2-19.5c-0.9-8.1-2-16.3-3.3-24.4c-1.3-8.2-2.7-16.3-4.3-24.4c-1.6-8.2-3.1-16.3-4.7-24.5c-1.6-8.1-3.2-16.2-4.8-24.4c-1.6-8.1-3.2-16.3-4.8-24.4c-1.5-8.2-3-16.3-4.2-24.4c-1.1-6.5-1.5-13.1-1.9-19.6c-0.6-8.1-1-16.3-1-24.4c0-8.1 0.4-16.3 0.5-24.4c0.1-8.2 0.1-16.3 0-24.4c-0.2-8.2-0.9-16.3-1.9-24.5c-1-8.1-2.2-16.2-3.8-24.4c-1.7-8.1-3.6-16.3-5.3-24.4c-1.6-8.1-3.3-16.3-4.7-24.4c-1.5-8.2-2.5-16.3-3.4-24.5c-0.8-7.3-1.3-14.6-1.4-21.9c-0.1-7.4 0.1-14.7 0.5-22c0.4-8.2 1-16.3 1.9-24.4c0.8-8.2 1.9-16.3 3.3-24.5c1.4-8.1 3-16.2 4.8-24.4c1.8-8.1 3.5-16.3 5.7-24.4c2.2-8.1 4.4-16.3 6.7-24.4c2.2-8.2 4.4-16.3 6.6-24.4c2.2-8.2 4.5-16.3 6.7-24.5c2.2-8.1 4.4-16.2 6.7-24.4c2.2-8.1 4.2-16.3 5.7-24.4c1.5-8.2 2-16.3 2.4-24.4c0.6-13.9 1-27.7 1-41.6Z" fill="#48e598"/>
<path d="M366.8 2434.9c0 1.3 1.2 2.6 2.6 3.9c1.3 1.3 5.2 2.6 11.4 3.9c5.4 1.2 15.4 2.3 21.4 3.4c5.2 1 10.2 2 12.9 3c3.6 1.3 4.2 2.6 4.3 3.9c0 1.3-0.3 2.6-3.4 3.9c-2.6 1.1-7 2.3-12.4 3.4c-5.3 1.1-12.8 2.3-18.1 3.4c-5.2 1.2-10 2.3-12.3 3.4c-2.7 1.3-4.1 2.6-4.8 3.9c-0.7 1.3-1.4 2.6-1.4 3.9c0 66.8 0 133.6 0 200.3c0 1.6 1.1 3.3 2.4 4.9c0.9 1.3 3.7 2.6 5.7 3.9c1.5 1 3.3 2 4.7 2.9c1.5 1 1.8 2 1.9 3c0.1 0.9-0.4 1.9-1.9 2.9c-1.5 1-4.1 2-5.7 2.9c-2 1.3-4.2 2.6-5.2 3.9c-1 1.3-1.9 2.6-2.1 3.9H366.1c-0.1-1.3-1-2.6-2-3.9c-1-1.3-3.2-2.6-5.2-3.9c-1.6-0.9-4.2-1.9-5.7-2.9c-1.5-1-2-2-1.9-2.9c0-1 0.4-2 1.9-3c1.4-0.9 3.2-1.9 4.7-2.9c2-1.3 4.8-2.6 5.7-3.9c1.3-1.6 2.4-3.3 2.4-4.9c0-66.7 0-133.5 0-200.3c0-1.3-0.7-2.6-1.4-3.9c-0.7-1.3-2.1-2.6-4.8-3.9c-2.3-1.1-7.1-2.2-12.4-3.4c-5.2-1.1-12.7-2.3-18-3.4c-5.4-1.1-9.8-2.3-12.4-3.4c-3.1-1.3-3.4-2.6-3.4-3.9c0.1-1.3 0.7-2.6 4.3-3.9c2.7-1 7.7-2 12.9-3c6-1.1 16-2.2 21.4-3.4c6.2-1.3 10.1-2.6 11.4-3.9c1.4-1.3 2.5-2.6 2.5-3.9Z" fill="#b0f653"/>
<path d="M484.6 2199c0 12.2 0.4 24.4 1 36.6c0.4 6.5 1.1 13 2.4 19.5c1.7 8.2 3.8 16.3 6.7 24.5c2.8 8.1 5.7 16.3 8.6 24.4c2.8 8.1 5.7 16.3 8.5 24.4c2.9 8.2 5.5 16.3 8.1 24.4c2.7 8.2 4.9 16.3 7.2 24.5c2.2 8.1 4.1 16.2 5.7 24.4c1.6 8.1 2.6 16.3 3.3 24.4c0.6 6.5 0.8 13 0.5 19.5c-0.3 6.6-0.9 13.1-1.9 19.6c-1.3 8.1-2.5 16.3-4.8 24.4c-2.2 8.1-4.4 16.3-6.6 24.4c-2.3 8.2-4.5 16.3-6.7 24.4c-2.2 8.2-3.6 16.3-4.8 24.5c-1.2 8.1-1.9 16.3-1.9 24.4c0 8.1 0.3 16.3 1 24.4c0.7 8.2 1.7 16.3 2.4 24.4c0.7 8.2 1.3 16.3 1.9 24.5c0.5 8.1 0.6 16.2 0.4 24.4c-0.1 8.1-0.5 16.3-1.4 24.4c-0.8 8.1-1.8 16.3-3.3 24.4c-1.5 8.2-3 16.3-4.8 24.4c-1.7 8.2-3.5 16.3-5.2 24.5c-1.8 8.1-3.5 16.3-5.3 24.4c-1.7 8.1-3.3 16.3-4.7 24.4c-1.4 8.2-2.4 16.3-3.4 24.4c-0.7 6.6-1.5 13.1-1.9 19.6c-0.5 8.9-1 17.9-1 26.8H483.9c-0.1-8.9-0.6-17.9-1.1-26.8c-0.4-6.5-1.2-13-1.9-19.6c-1-8.1-1.9-16.2-3.4-24.4c-1.4-8.1-3-16.3-4.7-24.4c-1.8-8.1-3.5-16.3-5.3-24.4c-1.7-8.2-3.4-16.3-5.2-24.5c-1.7-8.1-3.3-16.2-4.8-24.4c-1.4-8.1-2.4-16.3-3.3-24.4c-0.8-8.1-1.3-16.3-1.4-24.4c-0.1-8.2-0.1-16.3 0.5-24.4c0.5-8.2 1.1-16.3 1.9-24.5c0.7-8.1 1.6-16.2 2.3-24.4c0.8-8.1 1-16.3 1-24.4c0-8.1-0.7-16.3-1.9-24.4c-1.2-8.2-2.5-16.3-4.8-24.5c-2.2-8.1-4.4-16.2-6.6-24.4c-2.3-8.1-4.5-16.3-6.7-24.4c-2.2-8.1-3.5-16.3-4.8-24.4c-1-6.5-1.6-13-1.9-19.6c-0.2-6.5-0.1-13 0.5-19.5c0.7-8.1 1.7-16.3 3.3-24.4c1.7-8.2 3.5-16.3 5.8-24.4c2.2-8.2 4.5-16.3 7.1-24.5c2.6-8.1 5.2-16.2 8.1-24.4c2.8-8.1 5.7-16.3 8.6-24.4c2.8-8.1 5.7-16.3 8.5-24.4c2.9-8.2 5-16.3 6.7-24.5c1.3-6.5 2.1-13 2.4-19.5c0.6-12.2 1.1-24.4 1.1-36.6Z" fill="#48e598"/>
<path d="M602.3 2195.6c0 10.1 0.4 20.1 1.1 30.2c0.4 6.6 1.3 13.1 3.3 19.6c2.5 8.1 5.4 16.3 8.6 24.4c3.1 8.1 6.5 16.3 9.5 24.4c3 8.2 5.8 16.3 8.6 24.4c2.7 8.2 5.3 16.3 7.6 24.5c2.3 8.1 3.8 16.3 5.2 24.4c1.4 8.1 2.9 16.3 3.4 24.4c0.4 8.2 0.7 16.3 0.9 24.4c0.2 8.2 0.2 16.3 0.5 24.5c0.2 8.1 0.5 16.2 0.9 24.4c0.4 8.1 1 16.3 1.5 24.4c0.4 8.1 0.7 16.3 0.9 24.4c0.2 6.5-0.1 13.1-0.9 19.6c-0.8 6.5-2.6 13-4.8 19.5c-2.2 6.5-4.4 13-7.6 19.5c-3.2 6.6-6.4 13.1-9.5 19.6c-3.2 6.5-6.4 13-9.6 19.5c-3.1 6.5-5.9 13-8.5 19.6c-2.7 6.5-4.6 13-6.2 19.5c-1.3 4.9-2.4 9.8-2.9 14.6c-0.4 4.1-0.6 8.2-0.9 12.3c-0.4 5.3-0.8 10.7-1.1 16.1H601.6c-0.3-5.4-0.7-10.8-1.1-16.1c-0.3-4.1-0.5-8.2-1-12.3c-0.5-4.8-1.6-9.7-2.8-14.6c-1.7-6.5-3.6-13-6.2-19.5c-2.6-6.6-5.4-13.1-8.6-19.6c-3.1-6.5-6.3-13-9.5-19.5c-3.2-6.5-6.3-13-9.5-19.6c-3.2-6.5-5.4-13-7.6-19.5c-2.3-6.5-4-13-4.8-19.5c-0.8-6.5-1.2-13.1-1-19.6c0.3-8.1 0.5-16.3 1-24.4c0.4-8.1 1-16.3 1.4-24.4c0.4-8.2 0.7-16.3 1-24.4c0.2-8.2 0.3-16.3 0.5-24.5c0.1-8.1 0.4-16.2 0.9-24.4c0.5-8.1 1.9-16.3 3.3-24.4c1.5-8.1 3-16.3 5.3-24.4c2.3-8.2 4.8-16.3 7.6-24.5c2.8-8.1 5.6-16.2 8.6-24.4c3-8.1 6.4-16.3 9.5-24.4c3.1-8.1 6-16.3 8.6-24.4c2-6.5 2.9-13 3.3-19.6c0.6-10.1 1.1-20.1 1.1-30.2Z" fill="#b0f653"/>
<path d="M720 2143.8c0 12.7 0.4 25.4 1.1 38.1c0.3 6.5 0.9 13 2.4 19.5c1.8 8.2 4.1 16.3 6.6 24.4c2.6 8.2 5.1 16.3 7.6 24.5c2.6 8.1 5.1 16.2 7.7 24.4c2.5 8.1 4.8 16.3 7.1 24.4c2.3 8.1 4.3 16.3 6.2 24.4c1.9 8.2 3.7 16.3 5.2 24.5c1.5 8.1 2.7 16.2 3.8 24.4c1.2 8.1 2.1 16.3 2.9 24.4c0.8 8.1 1.2 16.3 1.4 24.4c0.2 8.2 0.1 16.3-0.4 24.4c-0.6 8.2-1.3 16.3-2.4 24.5c-1.1 8.1-2.2 16.2-3.8 24.4c-1.6 8.1-3.2 16.3-4.8 24.4c-1.6 8.2-3.2 16.3-4.8 24.4c-1.5 8.2-2.5 16.3-3.3 24.5c-0.8 8.1-1.1 16.2-0.9 24.4c0.1 8.1 0.4 16.3 1.4 24.4c1 8.1 2.1 16.3 3.3 24.4c1.2 8.2 2.6 16.3 3.8 24.4c1.2 8.2 1.9 16.3 2.4 24.5c0.4 6.5 0.4 13 0 19.5c-0.5 8.1-1.3 16.3-2.8 24.4c-1.6 8.2-3.3 16.3-5.3 24.4c-2 8.2-4 16.3-6.2 24.5c-2.2 8.1-4.4 16.3-6.6 24.4c-2.3 8.1-4.5 16.3-6.7 24.4c-2.2 8.2-4 16.3-5.7 24.4c-1.8 8.2-3.3 16.3-4.8 24.5c-1.2 6.5-2.3 13-2.8 19.5c-0.8 9-1.5 17.9-1.6 26.9H719.3c-0.1-9-0.8-17.9-1.6-26.9c-0.5-6.5-1.6-13-2.8-19.5c-1.5-8.2-3-16.3-4.8-24.5c-1.7-8.1-3.5-16.2-5.7-24.4c-2.2-8.1-4.4-16.3-6.7-24.4c-2.2-8.1-4.4-16.3-6.6-24.4c-2.3-8.2-4.2-16.3-6.2-24.5c-2-8.1-3.7-16.2-5.3-24.4c-1.5-8.1-2.3-16.3-2.8-24.4c-0.4-6.5-0.4-13 0-19.5c0.5-8.2 1.2-16.3 2.4-24.5c1.2-8.1 2.6-16.2 3.8-24.4c1.2-8.1 2.3-16.3 3.3-24.4c1-8.1 1.3-16.3 1.4-24.4c0.2-8.2-0.1-16.3-0.9-24.4c-0.8-8.2-1.8-16.3-3.3-24.5c-1.6-8.1-3.2-16.2-4.8-24.4c-1.6-8.1-3.2-16.3-4.8-24.4c-1.6-8.2-2.7-16.3-3.8-24.4c-1.1-8.2-1.8-16.3-2.4-24.5c-0.5-8.1-0.6-16.2-0.4-24.4c0.2-8.1 0.6-16.3 1.4-24.4c0.8-8.1 1.7-16.3 2.8-24.4c1.2-8.2 2.3-16.3 3.9-24.4c1.5-8.2 3.3-16.3 5.2-24.5c1.9-8.1 3.9-16.3 6.2-24.4c2.3-8.1 4.6-16.3 7.1-24.4c2.6-8.2 5.1-16.3 7.6-24.4c2.6-8.2 5.1-16.3 7.7-24.5c2.5-8.1 4.8-16.2 6.6-24.4c1.5-6.5 2.1-13 2.4-19.5c0.6-12.7 1.1-25.4 1.1-38.1Z" fill="#48e598"/>
<path d="M837.5 2273.7c0 8.5 0.7 16.9 1.6 25.4c0.5 4.9 1.8 9.8 3.8 14.7c2.6 6.5 5.4 13 8.6 19.5c3.1 6.5 6.3 13 9.5 19.5c3.2 6.6 6.3 13.1 9.5 19.6c3.2 6.5 5.9 13 8.6 19.5c2.7 6.5 4.6 13 6.2 19.6c1.6 6.5 2.7 13 2.8 19.5c0.2 6.5 0 13-0.4 19.5c-0.5 6.5-1.5 13.1-1.9 19.6c-0.5 6.5-0.7 13-0.5 19.5c0.2 6.5 0.8 13 1.4 19.5c0.6 6.6 1.7 13.1 2.4 19.6c0.5 4.9 0.6 9.7 0.5 14.6c-0.2 6.5-1.1 13.1-2.4 19.6c-1.3 6.5-2.9 13-5.3 19.5c-2.3 6.5-4.8 13-7.6 19.5c-2.8 6.6-5.8 13.1-8.6 19.6c-2.7 6.5-5.4 13-8 19.5c-2.7 6.5-5 13-7.2 19.6c-2.2 6.5-4.1 13-5.7 19.5c-1.6 6.5-3 13-3.8 19.5c-0.9 6.5-1.5 13.1-1.9 19.6c-0.8 11.4-1.4 22.8-1.6 34.2H836.8c-0.1-11.4-0.8-22.8-1.5-34.2c-0.4-6.5-1.1-13.1-1.9-19.6c-0.9-6.5-2.2-13-3.8-19.5c-1.7-6.5-3.5-13-5.8-19.5c-2.2-6.6-4.5-13.1-7.1-19.6c-2.6-6.5-5.3-13-8.1-19.5c-2.8-6.5-5.8-13-8.6-19.6c-2.8-6.5-5.2-13-7.6-19.5c-2.3-6.5-3.9-13-5.2-19.5c-1.4-6.5-2.2-13.1-2.4-19.6c-0.1-4.9 0-9.7 0.5-14.6c0.6-6.5 1.7-13 2.3-19.6c0.7-6.5 1.3-13 1.5-19.5c0.2-6.5-0.1-13-0.5-19.5c-0.4-6.5-1.4-13.1-1.9-19.6c-0.5-6.5-0.7-13-0.5-19.5c0.2-6.5 1.3-13 2.9-19.5c1.6-6.6 3.5-13.1 6.2-19.6c2.6-6.5 5.4-13 8.5-19.5c3.2-6.5 6.4-13 9.6-19.6c3.1-6.5 6.3-13 9.5-19.5c3.2-6.5 5.9-13 8.6-19.5c1.9-4.9 3.3-9.8 3.8-14.7c0.9-8.5 1.5-16.9 1.5-25.4Z" fill="#b0f653"/>
<path d="M955.2 2164.8c0 13.8 0.5 27.7 1.1 41.5c0.4 8.1 1 16.3 2.4 24.4c1.4 8.2 3.3 16.3 4.8 24.4c1.4 8.2 2.9 16.3 4.2 24.5c1.4 8.1 2.5 16.3 3.4 24.4c0.9 8.1 1.7 16.3 2.4 24.4c0.6 8.2 1.2 16.3 1.9 24.4c0.6 8.2 1.2 16.3 1.9 24.5c0.6 8.1 1.5 16.2 2.4 24.4c0.8 8.1 1.8 16.3 2.8 24.4c1 8.1 2.2 16.3 3.3 24.4c1.2 8.2 2.4 16.3 3.9 24.4c1.4 8.2 2.8 16.3 4.2 24.5c1.5 8.1 2.9 16.3 4.3 24.4c1.5 8.1 2.7 16.3 3.8 24.4c1.2 8.2 2.1 16.3 2.9 24.4c0.8 8.2 1.5 16.3 1.9 24.5c0.4 8.1 0.4 16.2 0.5 24.4c0 8.1-0.1 16.3-0.5 24.4c-0.4 8.1-1.6 16.3-2.9 24.4c-1.3 8.2-2.7 16.3-4.7 24.5c-2 8.1-4.1 16.2-6.7 24.4c-2.5 8.1-5.1 16.3-7.6 24.4c-2.5 8.1-5.1 16.3-7.6 24.4c-2.6 8.2-4.9 16.3-7.2 24.4c-2.3 8.2-4.3 16.3-6.2 24.5c-1.9 8.1-3.4 16.2-4.7 24.4c-1.1 6.5-1.9 13-2.4 19.5c-0.7 9.5-1.4 18.9-1.6 28.4H954.5c-0.1-9.5-0.8-18.9-1.5-28.4c-0.5-6.5-1.3-13-2.4-19.5c-1.3-8.2-2.9-16.3-4.8-24.4c-1.9-8.2-3.8-16.3-6.1-24.5c-2.4-8.1-4.7-16.2-7.2-24.4c-2.5-8.1-5.1-16.3-7.6-24.4c-2.6-8.1-5.1-16.3-7.6-24.4c-2.6-8.2-4.7-16.3-6.7-24.4c-2-8.2-3.5-16.3-4.8-24.5c-1.3-8.1-2.4-16.3-2.8-24.4c-0.4-8.1-0.5-16.3-0.5-24.4c0-8.2 0.1-16.3 0.5-24.4c0.4-8.2 1.1-16.3 1.9-24.5c0.8-8.1 1.7-16.2 2.8-24.4c1.2-8.1 2.4-16.3 3.9-24.4c1.4-8.1 2.8-16.3 4.2-24.4c1.5-8.2 2.9-16.3 4.3-24.5c1.5-8.1 2.6-16.2 3.8-24.4c1.2-8.1 2.3-16.3 3.4-24.4c1-8.1 2-16.3 2.8-24.4c0.9-8.2 1.8-16.3 2.4-24.4c0.6-8.2 1.3-16.3 1.9-24.5c0.6-8.1 1.3-16.2 1.9-24.4c0.7-8.1 1.5-16.3 2.4-24.4c0.9-8.1 2-16.3 3.3-24.4c1.4-8.2 2.8-16.3 4.3-24.5c1.5-8.1 3.4-16.2 4.8-24.4c1.4-8.1 2-16.3 2.4-24.4c0.6-13.8 1-27.7 1-41.5Z" fill="#48e598"/>
<path d="M1073 2147.7c0 13 0.4 26 1 39.1c0.4 6.5 1.2 13 2.4 19.5c1.6 8.1 3.5 16.3 5.7 24.4c2.3 8.2 4.6 16.3 7.2 24.4c2.6 8.2 5.5 16.3 8.1 24.5c2.6 8.1 5.1 16.3 7.6 24.4c2.5 8.1 4.6 16.3 6.7 24.4c2 8.2 3.6 16.3 4.7 24.4c1.2 8.2 1.9 16.3 2.4 24.5c0.5 8.1 1 16.2 1 24.4c-0.1 8.1-0.2 16.3-0.5 24.4c-0.3 8.1-0.6 16.3-1 24.4c-0.4 8.2-1 16.3-1.4 24.4c-0.4 8.2-0.8 16.3-1 24.5c-0.2 8.1 0.1 16.3 0.5 24.4c0.5 8.1 1.1 16.3 1.9 24.4c0.9 8.2 2 16.3 2.9 24.4c0.9 8.2 1.6 16.3 2.4 24.5c0.7 8.1 1.1 16.2 1.4 24.4c0.3 8.1 0.2 16.3 0 24.4c-0.2 8.1-0.6 16.3-1.4 24.4c-0.8 8.2-2 16.3-3.4 24.5c-1.4 8.1-2.8 16.2-4.7 24.4c-2 8.1-4 16.3-6.2 24.4c-2.2 8.1-4.5 16.3-6.7 24.4c-2.2 8.2-4.4 16.3-6.7 24.4c-2.2 8.2-4.4 16.3-6.6 24.5c-2.2 8.1-4.3 16.2-6.2 24.4c-1.9 8.1-3.4 16.3-4.8 24.4c-1.1 6.5-2.1 13-2.8 19.5c-0.6 4.9-1.1 9.8-1.5 14.7c-0.5 7.3-0.9 14.7-1 22H1072.3c-0.2-7.3-0.6-14.7-1.1-22c-0.3-4.9-0.9-9.8-1.5-14.7c-0.7-6.5-1.7-13-2.8-19.5c-1.4-8.1-2.8-16.3-4.8-24.4c-1.9-8.2-3.9-16.3-6.2-24.4c-2.2-8.2-4.4-16.3-6.6-24.5c-2.3-8.1-4.5-16.2-6.7-24.4c-2.2-8.1-4.4-16.3-6.7-24.4c-2.2-8.1-4.2-16.3-6.2-24.4c-1.9-8.2-3.3-16.3-4.7-24.4c-1.4-8.2-2.6-16.3-3.4-24.5c-0.7-8.1-1.2-16.3-1.4-24.4c-0.2-8.1-0.3-16.3 0-24.4c0.3-8.2 0.7-16.3 1.4-24.4c0.8-8.2 1.6-16.3 2.4-24.5c0.9-8.1 2-16.2 2.9-24.4c0.9-8.1 1.4-16.3 1.9-24.4c0.4-8.1 0.7-16.3 0.5-24.4c-0.2-8.2-0.5-16.3-1-24.5c-0.4-8.1-1-16.2-1.4-24.4c-0.4-8.1-0.7-16.3-1-24.4c-0.2-8.1-0.4-16.3-0.4-24.4c-0.1-8.2 0.4-16.3 0.9-24.4c0.5-8.2 1.3-16.3 2.4-24.5c1.1-8.1 2.7-16.2 4.8-24.4c2-8.1 4.1-16.3 6.6-24.4c2.5-8.1 5-16.3 7.6-24.4c2.7-8.2 5.5-16.3 8.1-24.5c2.7-8.1 4.9-16.2 7.2-24.4c2.2-8.1 4.1-16.3 5.7-24.4c1.2-6.5 2.1-13 2.4-19.5c0.6-13.1 1.1-26.1 1.1-39.1Z" fill="#b0f653"/>
<path d="M1190.7 2155c0 13.9 0.5 27.7 1.1 41.5c0.3 8.2 1.1 16.3 2.3 24.5c1.3 8.1 2.6 16.2 3.8 24.4c1.3 8.1 2.6 16.3 3.9 24.4c1.2 8.1 2.3 16.3 3.3 24.4c1 8.2 2 16.3 2.8 24.4c0.8 8.2 1.6 16.3 2.4 24.5c0.8 8.1 1.6 16.3 2.4 24.4c0.8 8.1 1.4 16.3 1.9 24.4c0.6 8.2 1 16.3 1.4 24.4c0.4 8.2 0.8 16.3 1 24.5c0.2 8.1 0.2 16.2 0.5 24.4c0.2 8.1 0.6 16.3 0.9 24.4c0.4 8.1 0.8 16.3 1.4 24.4c0.7 8.2 1.8 16.3 2.9 24.4c1.1 8.2 2.2 16.3 3.8 24.5c1.6 8.1 3.2 16.3 4.8 24.4c1.6 8.1 3.2 16.3 4.7 24.4c1.6 8.2 2.7 16.3 3.9 24.4c1.1 8.2 1.8 16.3 2.3 24.5c0.5 6.5 0.6 13 0.5 19.5c-0.1 6.5-0.6 13-1.4 19.5c-1.1 8.2-2.4 16.3-4.3 24.5c-1.9 8.1-3.9 16.2-6.2 24.4c-2.3 8.1-4.6 16.3-7.1 24.4c-2.6 8.1-5.1 16.3-7.7 24.4c-2.5 8.2-5 16.3-7.6 24.4c-2.5 8.2-4.5 16.3-6.6 24.5c-2.1 8.1-4 16.3-5.8 24.4c-1.4 6.5-2.6 13-3.3 19.5c-0.9 8.2-1.7 16.3-2 24.5H1190c-0.3-8.2-1.1-16.3-2.1-24.5c-0.7-6.5-1.9-13-3.3-19.5c-1.7-8.1-3.6-16.3-5.7-24.4c-2.1-8.2-4.1-16.3-6.7-24.5c-2.5-8.1-5.1-16.2-7.6-24.4c-2.5-8.1-5.1-16.3-7.6-24.4c-2.6-8.1-4.8-16.3-7.2-24.4c-2.3-8.2-4.3-16.3-6.1-24.4c-1.9-8.2-3.3-16.3-4.3-24.5c-0.9-6.5-1.4-13-1.5-19.5c-0.1-6.5 0.1-13 0.5-19.5c0.6-8.2 1.3-16.3 2.4-24.5c1.1-8.1 2.2-16.2 3.8-24.4c1.6-8.1 3.2-16.3 4.8-24.4c1.6-8.1 3.1-16.3 4.7-24.4c1.6-8.2 2.7-16.3 3.8-24.5c1.2-8.1 2.3-16.2 2.9-24.4c0.6-8.1 1.1-16.3 1.4-24.4c0.4-8.1 0.7-16.3 1-24.4c0.2-8.2 0.2-16.3 0.5-24.4c0.2-8.2 0.5-16.3 0.9-24.5c0.4-8.1 0.9-16.2 1.4-24.4c0.6-8.1 1.1-16.3 1.9-24.4c0.8-8.1 1.6-16.3 2.4-24.4c0.8-8.2 1.6-16.3 2.4-24.5c0.8-8.1 1.8-16.2 2.9-24.4c1-8.1 2-16.3 3.3-24.4c1.3-8.1 2.5-16.3 3.8-24.4c1.3-8.2 2.5-16.3 3.8-24.4c1.3-8.2 2-16.3 2.4-24.5c0.6-13.8 1.1-27.6 1.1-41.5Z" fill="#48e598"/>
<path d="M1308.4 2139.4c0 12.5 0.4 25.1 1.1 37.6c0.3 6.5 1.1 13 2.3 19.5c1.6 8.2 3.5 16.3 5.8 24.5c2.2 8.1 4.5 16.2 7.1 24.4c2.6 8.1 5.5 16.3 8.1 24.4c2.6 8.1 5.2 16.3 7.6 24.4c2.5 8.2 4.7 16.3 6.7 24.4c2 8.2 3.7 16.3 5.2 24.5c1.5 8.1 2.9 16.3 3.8 24.4c1 8.1 1.8 16.3 2.4 24.4c0.7 8.2 1.2 16.3 1.4 24.4c0.3 8.2 0.3 16.3 0 24.5c-0.2 8.1-0.5 16.2-0.9 24.4c-0.4 8.1-0.9 16.3-1.4 24.4c-0.6 8.1-1.4 16.3-1.9 24.4c-0.6 8.2-1.1 16.3-1.5 24.4c-0.4 8.2-0.5 16.3-0.4 24.5c0 8.1 0.4 16.3 0.9 24.4c0.6 8.1 1.2 16.3 1.9 24.4c0.7 8.2 1.7 16.3 2.4 24.4c0.7 8.2 0.8 16.3 0.9 24.5c0.1 6.5 0 13-0.4 19.5c-0.6 8.1-1.5 16.3-2.9 24.4c-1.3 8.2-2.8 16.3-4.7 24.4c-2 8.2-4.1 16.3-6.2 24.5c-2.2 8.1-4.4 16.2-6.7 24.4c-2.3 8.1-4.8 16.3-7.1 24.4c-2.4 8.2-4.5 16.3-6.7 24.4c-2.2 8.2-4.2 16.3-6.2 24.5c-2 8.1-3.7 16.2-5.2 24.4c-1.2 6.5-2.1 13-2.9 19.5c-0.6 4.9-1.1 9.8-1.4 14.7c-0.6 8.4-1 16.9-1.1 25.4H1307.7c-0.1-8.5-0.6-17-1.1-25.4c-0.3-4.9-0.9-9.8-1.4-14.7c-0.8-6.5-1.7-13-2.9-19.5c-1.5-8.2-3.2-16.3-5.2-24.4c-2-8.2-4-16.3-6.2-24.5c-2.2-8.1-4.4-16.2-6.7-24.4c-2.3-8.1-4.8-16.3-7.1-24.4c-2.3-8.2-4.5-16.3-6.7-24.4c-2.2-8.2-4.2-16.3-6.2-24.5c-1.9-8.1-3.4-16.2-4.7-24.4c-1.4-8.1-2.4-16.3-2.9-24.4c-0.4-6.5-0.6-13-0.5-19.5c0.1-8.2 0.3-16.3 1-24.5c0.7-8.1 1.7-16.2 2.4-24.4c0.7-8.1 1.3-16.3 1.9-24.4c0.5-8.1 0.8-16.3 0.9-24.4c0.1-8.2-0.1-16.3-0.5-24.5c-0.4-8.1-0.8-16.2-1.4-24.4c-0.6-8.1-1.3-16.3-1.9-24.4c-0.5-8.1-1-16.3-1.4-24.4c-0.4-8.2-0.7-16.3-1-24.4c-0.2-8.2-0.2-16.3 0-24.5c0.3-8.1 0.8-16.2 1.5-24.4c0.6-8.1 1.4-16.3 2.3-24.4c1-8.1 2.3-16.3 3.8-24.4c1.6-8.2 3.3-16.3 5.3-24.5c2-8.1 4.2-16.2 6.7-24.4c2.4-8.1 5-16.3 7.6-24.4c2.6-8.1 5.5-16.3 8.1-24.4c2.6-8.2 4.9-16.3 7.1-24.4c2.3-8.2 4.2-16.3 5.7-24.5c1.3-6.5 2.1-13 2.4-19.5c0.6-12.5 1.1-25.1 1.1-37.6Z" fill="#b0f653"/>
</g>
<g clip-path="url(#cp_g)" stroke="#000" fill="none">
<path d="M248.8 2342.1V2442.2M248.8 2614.2V2689.9" stroke-width="3.3"/>
<rect x="240.1" y="2442.2" width="17.3" height="171.9" stroke-width="3.3" fill="#48e598" fill-opacity="0.9"/>
<path d="M238.5 2495.5H259" stroke-width="6.4"/>
<rect x="357.8" y="2448.1" width="17.3" height="11.2" stroke-width="3.3" fill="#b0f653" fill-opacity="0.9"/>
<path d="M356.2 2456.9H376.7" stroke-width="6.4"/>
<path d="M484.2 2412.4V2450.5M484.2 2648.3V2689.9" stroke-width="3.3"/>
<rect x="475.6" y="2450.5" width="17.3" height="197.8" stroke-width="3.3" fill="#48e598" fill-opacity="0.9"/>
<path d="M474 2466.6H494.5" stroke-width="6.4"/>
<path d="M601.9 2342.1V2400.7M601.9 2527.7V2547.2" stroke-width="3.3"/>
<rect x="593.3" y="2400.7" width="17.3" height="127" stroke-width="3.3" fill="#b0f653" fill-opacity="0.9"/>
<path d="M591.7 2457.9H612.2" stroke-width="6.4"/>
<path d="M719.6 2381.2V2418.8" stroke-width="3.3"/>
<rect x="711" y="2418.8" width="17.3" height="271.1" stroke-width="3.3" fill="#48e598" fill-opacity="0.9"/>
<path d="M709.4 2489.6H729.9" stroke-width="6.4"/>
<path d="M837.2 2413.9V2429.5M837.2 2548.2V2612.7" stroke-width="3.3"/>
<rect x="828.5" y="2429.5" width="17.3" height="118.7" stroke-width="3.3" fill="#b0f653" fill-opacity="0.9"/>
<path d="M826.9 2519.9H847.4" stroke-width="6.4"/>
<path d="M954.9 2364.1V2509.1M954.9 2654.7V2689.9" stroke-width="3.3"/>
<rect x="946.2" y="2509.1" width="17.3" height="145.6" stroke-width="3.3" fill="#48e598" fill-opacity="0.9"/>
<path d="M944.6 2602.9H965.1" stroke-width="6.4"/>
<path d="M1072.6 2381.2V2424.6M1072.6 2643.5V2689.9" stroke-width="3.3"/>
<rect x="1064" y="2424.6" width="17.3" height="218.8" stroke-width="3.3" fill="#b0f653" fill-opacity="0.9"/>
<path d="M1062.4 2564.3H1082.9" stroke-width="6.4"/>
<path d="M1190.3 2381.2V2493" stroke-width="3.3"/>
<rect x="1181.7" y="2493" width="17.3" height="196.8" stroke-width="3.3" fill="#48e598" fill-opacity="0.9"/>
<path d="M1180.1 2650.8H1200.6" stroke-width="6.4"/>
<path d="M1308 2385.6V2448.1" stroke-width="3.3"/>
<rect x="1299.4" y="2448.1" width="17.3" height="241.8" stroke-width="3.3" fill="#b0f653" fill-opacity="0.9"/>
<path d="M1297.8 2547.2H1318.3" stroke-width="6.4"/>
</g>
<path d="M176.2 2690.4H1376.2" stroke="#000" stroke-width="1.6" stroke-dasharray="42.9 42.9" stroke-dashoffset="21.4" fill="none" clip-path="url(#cp_g)"/>
<path d="M156.4 2132.8H166.2M156.4 2411.6H166.2M156.4 2690.4H166.2M156.4 2969.2H166.2M307.5 2974.6V2984.4M543.1 2974.6V2984.4M778.6 2974.6V2984.4M1014.1 2974.6V2984.4M1249.7 2974.6V2984.4" stroke="#333333" stroke-width="3.9" fill="none"/>
<g font-family='"Liberation Sans", Arial, sans-serif' font-size="33" fill="#4d4d4d" stroke="#4d4d4d" stroke-width="0.4">
<text x="148.6" y="2144.7" text-anchor="end">0.4</text>
<text x="148.6" y="2423.5" text-anchor="end">0.2</text>
<text x="148.6" y="2702.3" text-anchor="end">0.0</text>
<text x="148.6" y="2981.1" text-anchor="end">−0.2</text>
<text x="307.5" y="3015.4" text-anchor="middle">0</text>
<text x="543.1" y="3015.4" text-anchor="middle">6</text>
<text x="778.6" y="3015.4" text-anchor="middle">12</text>
<text x="1014.1" y="3015.4" text-anchor="middle">24</text>
<text x="1249.7" y="3015.4" text-anchor="middle">48</text>
</g>
<g font-family='"DejaVu Sans", "Liberation Sans", sans-serif' font-size="44" fill="#000">
<text x="784.5" y="3061.5" text-anchor="middle">Distance (m)</text>
<text transform="translate(95.1 2546.1) rotate(-90)" text-anchor="middle">CWV Number of queens</text>
</g>
<text x="50" y="2076.5" font-family='"Liberation Sans", Arial, sans-serif' font-size="42" font-weight="bold" fill="#000">(g)</text>
<g clip-path="url(#cp_h)">
<rect x="1554.1" y="2053.3" width="1228.4" height="918.6" fill="#ebebeb"/>
<path d="M1554.1 2215.3H2782.5M1554.1 2459.9H2782.5M1554.1 2704.5H2782.5M1554.1 2949.1H2782.5" stroke="#fff" stroke-width="2.1" fill="none"/>
<path d="M1554.1 2337.6H2782.5M1554.1 2582.2H2782.5M1695.8 2057.8V2971.9M1932.1 2057.8V2971.9M2168.3 2057.8V2971.9M2404.5 2057.8V2971.9M2640.8 2057.8V2971.9" stroke="#fff" stroke-width="4.2" fill="none"/>
</g>
<g clip-path="url(#cp_h)" stroke="#4a4a4a" stroke-width="3.9" stroke-linejoin="round" fill-opacity="0.9">
<path d="M1637.7 2464.2c0 8.5 0.5 16.9 1 25.4c0.5 6.5 1.4 13 2.4 19.5c1 6.6 2.4 13.1 3.4 19.6c1 6.5 1.7 13 2.3 19.5c0.4 4.1 0.7 8.2 0.5 12.2c-0.2 5.7-0.8 11.4-1.4 17.1c-0.7 6.5-1.7 13-2.4 19.6c-0.5 4.8-0.8 9.7-0.9 14.6c-0.2 4.9 0.5 9.8 1.4 14.7c0.9 4.9 2.4 9.7 5.2 14.6c2.8 4.9 5.9 9.8 9.5 14.7c3.7 4.9 7.4 9.7 11 14.6c3.6 4.9 7.1 9.8 10.5 14.7c3.4 4.9 5.3 9.8 7.1 14.6c1.6 4.1 2.3 8.2 2.4 12.2c0.1 4.1-0.6 8.2-2.4 12.3c-2.1 4.8-4.7 9.7-8.1 14.6c-3.4 4.9-7.5 9.8-10.9 14.7c-3.5 4.8-6.5 9.7-9.1 14.6c-2.6 4.9-3.7 9.8-3.8 14.7c0 4.9 0.6 9.7 1.9 14.6c1.4 4.9 3.5 9.8 4.8 14.7c1.3 4.9 2.3 9.7 2.8 14.6c0.5 4.9 0.1 9.8-0.9 14.7c-1.1 4.9-2.2 9.8-4.3 14.6c-2.1 4.9-4.1 9.8-6.2 14.7c-2.1 4.9-4.1 9.8-6.2 14.6c-2 4.9-3.7 9.8-5.2 14.7c-1.3 4.1-2.2 8.1-2.9 12.2c-0.6 3.6-1.2 7.2-1.5 10.8H1637c-0.4-3.6-1-7.2-1.6-10.8c-0.7-4.1-1.6-8.1-2.8-12.2c-1.5-4.9-3.2-9.8-5.3-14.7c-2-4.8-4.1-9.7-6.2-14.6c-2-4.9-4.1-9.8-6.2-14.7c-2-4.8-3.2-9.7-4.3-14.6c-1-4.9-1.4-9.8-0.9-14.7c0.5-4.9 1.5-9.7 2.9-14.6c1.3-4.9 3.4-9.8 4.7-14.7c1.4-4.9 2-9.7 1.9-14.6c0-4.9-1.2-9.8-3.8-14.7c-2.6-4.9-5.6-9.8-9-14.6c-3.5-4.9-7.6-9.8-11-14.7c-3.4-4.9-6-9.8-8.1-14.6c-1.8-4.1-2.4-8.2-2.4-12.3c0.1-4 0.9-8.1 2.4-12.2c1.9-4.8 3.8-9.7 7.2-14.6c3.3-4.9 6.8-9.8 10.4-14.7c3.6-4.9 7.4-9.7 11-14.6c3.6-4.9 6.7-9.8 9.5-14.7c2.8-4.9 4.3-9.7 5.2-14.6c1-4.9 1.7-9.8 1.5-14.7c-0.2-4.9-0.4-9.8-1-14.6c-0.7-6.6-1.6-13.1-2.4-19.6c-0.6-5.7-1.1-11.4-1.4-17.1c-0.2-4 0.1-8.1 0.5-12.2c0.6-6.5 1.4-13 2.4-19.5c1-6.5 2.3-13 3.3-19.6c1-6.5 2-13 2.4-19.5c0.5-8.5 1.1-16.9 1.1-25.4Z" fill="#48e598"/>
<path d="M1755.4 2618.1c0 5.2 0.6 10.4 1.5 15.6c0.6 3.3 2.4 6.5 5.3 9.8c3.6 4 7.6 8.1 11.9 12.2c4.3 4 9 8.1 13.3 12.2c4.3 4.1 8 8.1 11.4 12.2c3.5 4.1 5.8 8.1 7.7 12.2c1.2 2.8 1.6 5.5 1.4 8.3c-0.2 2.9-1 5.9-2.9 8.8c-2.6 4.1-5.8 8.1-9.5 12.2c-3.7 4.1-8.4 8.2-11.9 12.2c-3.5 4.1-6.4 8.2-8.6 12.2c-2.1 4.1-3.7 8.2-4.7 12.2c-1.3 4.9-2.4 9.8-2.9 14.7c-0.5 4.9-1 9.8-0.9 14.7c0 4.8 0.2 9.7 0.4 14.6c0.3 4.9 0.7 9.8 1 14.7c0.2 4 0.2 8.1 0 12.2c-0.2 4-0.6 8.1-1.4 12.2c-1 4.9-2.1 9.8-3.4 14.6c-1.2 4.9-2.5 9.8-3.8 14.7c-0.8 3.2-1.8 6.5-2.4 9.8c-0.6 3.7-1.2 7.5-1.5 11.2H1754.7c-0.3-3.7-0.9-7.5-1.6-11.2c-0.6-3.3-1.5-6.6-2.4-9.8c-1.2-4.9-2.5-9.8-3.8-14.7c-1.2-4.8-2.3-9.7-3.3-14.6c-0.8-4.1-1.2-8.2-1.4-12.2c-0.2-4.1-0.2-8.2 0-12.2c0.2-4.9 0.7-9.8 0.9-14.7c0.3-4.9 0.4-9.8 0.5-14.6c0.1-4.9-0.4-9.8-0.9-14.7c-0.6-4.9-1.7-9.8-2.9-14.7c-1-4-2.7-8.1-4.8-12.2c-2.1-4-5-8.1-8.5-12.2c-3.6-4-8.3-8.1-11.9-12.2c-3.7-4.1-6.9-8.1-9.6-12.2c-1.9-2.9-2.6-5.9-2.8-8.8c-0.2-2.8 0.2-5.5 1.4-8.3c1.8-4.1 4.1-8.1 7.6-12.2c3.5-4.1 7.2-8.1 11.4-12.2c4.3-4.1 9.1-8.2 13.4-12.2c4.3-4.1 8.3-8.2 11.9-12.2c2.9-3.3 4.7-6.5 5.2-9.8c1-5.2 1.6-10.4 1.6-15.6Z" fill="#b0f653"/>
<path d="M1873.6 2640c0 5.3 0.7 10.5 1.5 15.7c0.7 4 1.8 8.1 5.3 12.2c3.4 4.1 7.1 8.1 10.9 12.2c3.8 4.1 7.7 8.1 11.5 12.2c3.8 4.1 7.4 8.2 10.9 12.2c3.6 4.1 5.9 8.2 8.1 12.2c2.3 4.1 3.4 8.2 3.8 12.2c0.4 4.1 0 8.2-2.4 12.3c-2.3 4-5 8.1-8.1 12.2c-3 4-6.5 8.1-9.5 12.2c-3 4-5.5 8.1-7.6 12.2c-2.1 4.1-3.1 8.1-3.3 12.2c-0.3 4.1 0.1 8.1 1.4 12.2c1.6 4.9 4.1 9.8 5.7 14.7c1.7 4.8 3.2 9.7 3.8 14.6c0.6 4.9-0.6 9.8-2.4 14.7c-1.7 4.9-3.5 9.7-6.2 14.6c-2.6 4.9-5.4 9.8-8 14.7c-2.7 4.9-5.2 9.7-7.7 14.6c-2 4.1-3.4 8.2-4.7 12.2c-1.4 4.4-2.4 8.8-3 13.2H1872.9c-0.6-4.4-1.6-8.8-3-13.2c-1.3-4-2.7-8.1-4.8-12.2c-2.4-4.9-5-9.7-7.6-14.6c-2.6-4.9-5.4-9.8-8.1-14.7c-2.6-4.9-4.4-9.7-6.2-14.6c-1.7-4.9-2.9-9.8-2.3-14.7c0.5-4.9 2.1-9.8 3.8-14.6c1.6-4.9 4.1-9.8 5.7-14.7c1.3-4.1 1.6-8.1 1.4-12.2c-0.2-4.1-1.2-8.1-3.3-12.2c-2.2-4.1-4.6-8.2-7.6-12.2c-3.1-4.1-6.5-8.2-9.6-12.2c-3-4.1-5.7-8.2-8.1-12.2c-2.3-4.1-2.7-8.2-2.3-12.3c0.3-4 1.5-8.1 3.8-12.2c2.2-4 4.5-8.1 8.1-12.2c3.5-4 7.1-8.1 10.9-12.2c3.8-4.1 7.6-8.1 11.4-12.2c3.8-4.1 7.5-8.1 11-12.2c3.4-4.1 4.6-8.2 5.2-12.2c0.9-5.2 1.6-10.4 1.6-15.7Z" fill="#48e598"/>
<path d="M1991.3 2140.4c0 6.5 0.7 13 1.6 19.5c0.7 5.7 3.3 11.4 5.2 17.1c2.1 6.5 4.6 13 6.7 19.5c2.1 6.5 2.8 13.1 2.8 19.6c0 6.5-0.8 13-2.8 19.5c-2.1 6.5-4.7 13-6.7 19.5c-1.5 4.9-3.2 9.8-4.3 14.7c-0.9 4.1-2.4 8.1-2.4 12.2c0 116.4 0 232.8 0 349.3c0 4.8 1.2 9.7 2.4 14.6c1.2 4.9 3.3 9.8 6.7 14.7c3.3 4.8 6.8 9.7 10.5 14.6c3.6 4.9 7.3 9.8 10.9 14.7c3.6 4.9 6.6 9.7 9.5 14.6c2.9 4.9 5.2 9.8 7.2 14.7c2 4.9 3.4 9.7 4.3 14.6c0.5 3.3 0.6 6.5 0.4 9.8c-0.2 4.9-0.8 9.8-2.3 14.6c-1.6 4.9-3.5 9.8-6.2 14.7c-2.7 4.9-5.4 9.8-8.1 14.7c-2.7 4.8-5.4 9.7-8.1 14.6c-2.7 4.9-4.5 9.8-5.7 14.7c-1.3 4.8-2.6 9.7-3.8 14.6c-1.3 4.9-2.5 9.8-3.9 14.7c-1.3 4.9-2.8 9.7-4.2 14.6c-1.5 4.9-2.9 9.8-4.3 14.7c-1.2 4-2.6 8.1-3.4 12.2c-0.8 4.4-1.6 8.8-2 13.2H1990.6c-0.4-4.4-1.2-8.8-2-13.2c-0.8-4.1-2.2-8.2-3.4-12.2c-1.4-4.9-2.8-9.8-4.2-14.7c-1.5-4.9-3-9.7-4.3-14.6c-1.4-4.9-2.6-9.8-3.8-14.7c-1.3-4.9-2.6-9.8-3.9-14.6c-1.2-4.9-3-9.8-5.7-14.7c-2.7-4.9-5.4-9.8-8.1-14.6c-2.7-4.9-5.4-9.8-8.1-14.7c-2.7-4.9-4.6-9.8-6.2-14.7c-1.5-4.8-2.1-9.7-2.3-14.6c-0.2-3.3-0.1-6.5 0.4-9.8c0.9-4.9 2.3-9.7 4.3-14.6c2-4.9 4.3-9.8 7.2-14.7c2.9-4.9 5.9-9.7 9.5-14.6c3.6-4.9 7.3-9.8 11-14.7c3.6-4.9 7.1-9.8 10.4-14.6c3.4-4.9 5.5-9.8 6.7-14.7c1.2-4.9 2.4-9.8 2.4-14.6c0-116.5 0-232.9 0-349.3c0-4.1-1.5-8.1-2.4-12.2c-1.1-4.9-2.8-9.8-4.3-14.7c-2-6.5-4.6-13-6.7-19.5c-2-6.5-2.8-13-2.8-19.5c0-6.5 0.8-13.1 2.8-19.6c2.1-6.5 4.6-13 6.7-19.5c1.9-5.7 4.5-11.4 5.2-17.1c0.9-6.5 1.6-13 1.6-19.5Z" fill="#b0f653"/>
<path d="M2110 2567.8c0 6.5 0.5 13 1.1 19.5c0.4 4.9 1.4 9.8 3.3 14.6c1.9 4.9 3.8 9.8 5.7 14.7c2.6 6.5 5.1 13 7.6 19.5c2.6 6.6 4.7 13.1 6.7 19.6c2 6.5 3.6 13 4.8 19.5c1.1 6.5 2.2 13 2.8 19.6c0.7 6.5 1.3 13 1.9 19.5c0.7 6.5 1.3 13 1.9 19.5c0.7 6.5 1.3 13.1 2.9 19.6c1.6 6.5 3.2 13 4.8 19.5c1.5 6.5 3.1 13 4.7 19.5c1.6 6.6 2.1 13.1 2.9 19.6c0.6 4.9 0.9 9.7 0.9 14.6c0.1 4.9-0.9 9.8-2.3 14.7c-1.5 4.9-3.3 9.8-6.2 14.6c-3 4.9-6.1 9.8-9.6 14.7c-3.4 4.9-7.1 9.8-10.4 14.6c-3.4 4.9-6.7 9.8-9.6 14.7c-2.9 4.9-5.2 9.8-7.6 14.7c-1.6 3.2-3.3 6.5-4.3 9.7c-0.9 3-1.6 5.9-2 8.8H2109.3c-0.4-2.9-1.2-5.8-2-8.8c-1-3.2-2.7-6.5-4.3-9.7c-2.4-4.9-4.7-9.8-7.6-14.7c-2.9-4.9-6.2-9.8-9.6-14.7c-3.4-4.8-7-9.7-10.4-14.6c-3.5-4.9-6.6-9.8-9.6-14.7c-2.9-4.8-4.7-9.7-6.2-14.6c-1.4-4.9-2.4-9.8-2.3-14.7c0-4.9 0.3-9.7 0.9-14.6c0.8-6.5 1.3-13 2.9-19.6c1.6-6.5 3.1-13 4.7-19.5c1.6-6.5 3.2-13 4.8-19.5c1.6-6.5 2.2-13.1 2.9-19.6c0.6-6.5 1.2-13 1.9-19.5c0.6-6.5 1.2-13 1.9-19.5c0.6-6.6 1.7-13.1 2.8-19.6c1.2-6.5 2.8-13 4.8-19.5c2-6.5 4.1-13 6.6-19.6c2.6-6.5 5.1-13 7.7-19.5c1.9-4.9 3.8-9.8 5.7-14.7c1.9-4.8 2.9-9.7 3.3-14.6c0.6-6.5 1.1-13 1.1-19.5Z" fill="#48e598"/>
<path d="M2228 2610.3c0 6.1 0.7 12.3 1.6 18.5c0.6 4.1 2.2 8.2 4.7 12.2c3.1 4.9 6.4 9.8 10 14.7c3.7 4.9 7.4 9.7 11 14.6c3.6 4.9 7.1 9.8 10.5 14.7c3.4 4.9 5.8 9.8 8.1 14.6c2.2 4.9 3.7 9.8 4.7 14.7c0.9 4.1 1.3 8.1 1.4 12.2c0.2 4.1 0 8.1-0.9 12.2c-1.1 4.9-2.5 9.8-4.8 14.7c-2.2 4.8-4.4 9.7-6.6 14.6c-2.3 4.9-4.5 9.8-6.7 14.7c-2.2 4.9-3.6 9.7-4.8 14.6c-1.1 4.9-1.8 9.8-1.9 14.7c0 4.9 0.5 9.7 0.5 14.6c0 4.9-0.1 9.8-0.5 14.7c-0.4 4.9-1.3 9.8-2.8 14.6c-1.5 4.9-3.2 9.8-5.3 14.7c-2 4.9-4.1 9.8-6.2 14.6c-2 4.9-4.1 9.8-6.1 14.7c-1.6 3.6-3 7.2-3.9 10.7c-0.9 3.8-1.6 7.5-2 11.3H2227.3c-0.3-3.8-1.1-7.5-2-11.3c-0.9-3.5-2.3-7.1-3.8-10.7c-2.1-4.9-4.2-9.8-6.2-14.7c-2.1-4.8-4.1-9.7-6.2-14.6c-2.1-4.9-3.7-9.8-5.2-14.7c-1.6-4.8-2.5-9.7-2.9-14.6c-0.4-4.9-0.5-9.8-0.5-14.7c0-4.9 0.5-9.7 0.5-14.6c0-4.9-0.7-9.8-1.9-14.7c-1.2-4.9-2.6-9.7-4.8-14.6c-2.2-4.9-4.4-9.8-6.6-14.7c-2.3-4.9-4.5-9.8-6.7-14.6c-2.2-4.9-3.7-9.8-4.8-14.7c-0.9-4.1-1-8.1-0.9-12.2c0.1-4.1 0.5-8.1 1.4-12.2c1-4.9 2.6-9.8 4.8-14.7c2.2-4.8 4.7-9.7 8.1-14.6c3.4-4.9 6.8-9.8 10.4-14.7c3.6-4.9 7.4-9.7 11-14.6c3.6-4.9 6.9-9.8 10-14.7c2.6-4 4.2-8.1 4.8-12.2c0.9-6.2 1.5-12.4 1.5-18.5Z" fill="#b0f653"/>
<path d="M2345.7 2645.9c0 5.7 0.7 11.4 1.6 17.1c0.6 4.1 2.7 8.1 5.2 12.2c3.1 4.9 6.3 9.8 9.5 14.7c3.3 4.9 6.8 9.7 10 14.6c3.3 4.9 5.9 9.8 8.1 14.7c2.3 4.9 3.5 9.7 4.3 14.6c0.6 3.3 0.8 6.5 0.5 9.8c-0.4 4.9-1.3 9.8-2.9 14.6c-1.5 4.9-4 9.8-5.7 14.7c-1.1 3.3-1.9 6.5-2.3 9.8c-0.5 3.2 0 6.5 1.9 9.7c2.8 4.9 6.1 9.8 9.5 14.7c2.8 4.1 6.2 8.1 9 12.2c2 2.8 3.1 5.5 3.4 8.3c0.2 2.9-0.6 5.9-1.9 8.8c-1.9 4.1-3.5 8.1-6.7 12.2c-3.2 4.1-6.4 8.2-9.5 12.2c-3.8 4.9-7.7 9.8-11.5 14.7c-3.8 4.9-7 9.7-10.4 14.6c-2.9 4.1-5.4 8.2-7.7 12.2c-2.4 4.4-3.6 8.8-4.4 13.2H2345c-0.8-4.4-1.9-8.8-4.4-13.2c-2.2-4-4.8-8.1-7.6-12.2c-3.4-4.9-6.7-9.7-10.5-14.6c-3.8-4.9-7.6-9.8-11.4-14.7c-3.2-4-6.4-8.1-9.5-12.2c-3.2-4.1-4.8-8.1-6.7-12.2c-1.3-2.9-2.2-5.9-1.9-8.8c0.2-2.8 1.4-5.5 3.3-8.3c2.9-4.1 6.2-8.1 9.1-12.2c3.4-4.9 6.7-9.8 9.5-14.7c1.9-3.2 2.4-6.5 1.9-9.7c-0.4-3.3-1.3-6.5-2.4-9.8c-1.7-4.9-4.1-9.8-5.7-14.7c-1.5-4.8-2.4-9.7-2.8-14.6c-0.3-3.3-0.1-6.5 0.4-9.8c0.8-4.9 2.1-9.7 4.3-14.6c2.3-4.9 4.8-9.8 8.1-14.7c3.3-4.9 6.7-9.7 10-14.6c3.3-4.9 6.5-9.8 9.5-14.7c2.6-4.1 4.6-8.1 5.3-12.2c0.9-5.7 1.5-11.4 1.5-17.1Z" fill="#48e598"/>
<path d="M2463.9 2342.1c0 6.8 0.7 13.7 1.6 20.5c0.8 6.5 4.5 13 6.7 19.5c2.1 6.6 4.2 13.1 6.1 19.6c1.5 4.9 1.9 9.8 2 14.6c0 4.9-0.4 9.8-2 14.7c-2 6.5-4.5 13-6.6 19.5c-1.8 5.7-3.9 11.4-5.3 17.1c-0.9 4.1-2.3 8.2-2.3 12.2c0 47.3 0 94.5 0 141.7c0 4.9 1.2 9.8 2.3 14.6c1.2 4.9 3.1 9.8 5.8 14.7c2.6 4.9 5.4 9.8 8.5 14.6c3.1 4.9 6.5 9.8 9.6 14.7c3 4.9 5.9 9.8 8.5 14.7c2.6 4.8 4.7 9.7 6.7 14.6c1.9 4.9 3.7 9.8 5.2 14.7c1.6 4.8 2.8 9.7 3.8 14.6c0.9 4.1 1.4 8.2 1.5 12.2c0.1 4.1-0.7 8.2-1.9 12.2c-1.5 4.9-3.4 9.8-6.7 14.7c-3.3 4.9-7.1 9.8-10.5 14.6c-3.3 4.9-6.7 9.8-9.5 14.7c-2.8 4.9-4 9.8-4.8 14.6c-0.8 4.9-1 9.8-1.9 14.7c-0.8 4.9-1.6 9.8-2.8 14.7c-1.3 4.8-2.8 9.7-4.3 14.6c-1.5 4.9-3.2 9.8-4.8 14.7c-1.3 4-2.6 8.1-3.3 12.2c-0.7 3.7-1.3 7.5-1.6 11.2H2463.2c-0.2-3.7-0.8-7.5-1.5-11.2c-0.8-4.1-2.1-8.2-3.4-12.2c-1.5-4.9-3.2-9.8-4.7-14.7c-1.5-4.9-3-9.8-4.3-14.6c-1.3-4.9-2-9.8-2.9-14.7c-0.8-4.9-1.1-9.8-1.9-14.7c-0.8-4.8-2-9.7-4.7-14.6c-2.8-4.9-6.2-9.8-9.6-14.7c-3.3-4.8-7.2-9.7-10.4-14.6c-3.3-4.9-5.2-9.8-6.7-14.7c-1.3-4-2-8.1-1.9-12.2c0.1-4 0.5-8.1 1.4-12.2c1.1-4.9 2.3-9.8 3.8-14.6c1.6-4.9 3.3-9.8 5.3-14.7c1.9-4.9 4-9.8 6.6-14.6c2.6-4.9 5.5-9.8 8.6-14.7c3.1-4.9 6.4-9.8 9.5-14.7c3.1-4.8 6-9.7 8.6-14.6c2.7-4.9 4.6-9.8 5.7-14.7c1.1-4.8 2.4-9.7 2.4-14.6c0-47.2 0-94.4 0-141.7c0-4-1.4-8.1-2.4-12.2c-1.3-5.7-3.4-11.4-5.2-17.1c-2.1-6.5-4.6-13-6.7-19.5c-1.5-4.9-1.9-9.8-1.9-14.7c0.1-4.8 0.5-9.7 1.9-14.6c2-6.5 4.1-13 6.2-19.6c2.1-6.5 5.9-13 6.7-19.5c0.8-6.8 1.5-13.7 1.5-20.5Z" fill="#b0f653"/>
<path d="M2582.1 2649.8c0.1 6.9 0.8 13.7 1.6 20.5c0.5 4.9 2 9.8 2.9 14.7c1 5.7 1.9 11.4 2.8 17.1c0.8 4.9 1 9.7 1 14.6c-0.1 4.9-0.5 9.8-1.5 14.7c-0.9 4.9-1.9 9.8-2.8 14.6c-0.8 4.1-2.4 8.2-2.4 12.2c0 3.3 0 6.6 0 9.8c0 3.3 1.5 6.5 3.8 9.8c2.3 3.2 5.2 6.5 8.6 9.8c3.4 3.2 6.7 6.5 10.5 9.7c3.7 3.3 7.6 6.5 11.4 9.8c3.7 3.3 7.1 6.5 10.5 9.8c3.3 3.2 5.6 6.5 5.7 9.7c0.1 3.3-2.2 6.5-5.7 9.8c-3.6 3.3-7.1 6.5-11 9.8c-3.9 3.2-8.2 6.5-11.9 9.7c-3.7 3.3-6.7 6.6-9.5 9.8c-2.8 3.3-5.3 6.5-7.2 9.8c-1.8 3.2-3.3 6.5-4.3 9.7c-1.1 3.6-2 7.2-2.5 10.8H2581.4c-0.4-3.6-1.4-7.2-2.5-10.8c-1-3.2-2.4-6.5-4.3-9.7c-1.8-3.3-4.3-6.5-7.1-9.8c-2.8-3.2-5.8-6.5-9.5-9.8c-3.8-3.2-8.1-6.5-11.9-9.7c-3.9-3.3-7.5-6.5-11-9.8c-3.5-3.3-5.8-6.5-5.7-9.8c0.1-3.2 2.3-6.5 5.7-9.7c3.4-3.3 6.7-6.5 10.5-9.8c3.8-3.3 7.7-6.5 11.4-9.8c3.7-3.2 7.1-6.5 10.5-9.7c3.4-3.3 6.2-6.6 8.6-9.8c2.3-3.3 3.8-6.5 3.8-9.8c0-3.2 0-6.5 0-9.8c0-4-1.6-8.1-2.4-12.2c-1-4.8-1.9-9.7-2.9-14.6c-0.9-4.9-1.3-9.8-1.4-14.7c-0.1-4.9 0.2-9.7 1-14.6c0.8-5.7 1.8-11.4 2.8-17.1c0.9-4.9 2.3-9.8 2.9-14.7c0.7-6.8 1.5-13.6 1.5-20.5Z" fill="#48e598"/>
<path d="M2700.3 2632.7c0 6 0.8 12.1 1.6 18.1c0.6 4.9 2.3 9.8 3.8 14.6c2.1 6.6 4.1 13.1 6.2 19.6c2.1 6.5 4.1 13 6.2 19.5c2.1 6.5 4 13 5.7 19.6c1.8 6.5 3.5 13 5.2 19.5c1.8 6.5 3.5 13 5.3 19.5c1.7 6.5 3.6 13.1 5.7 19.6c2.1 6.5 4.5 13 6.7 19.5c1.6 4.9 3.2 9.8 4.7 14.7c1 2.9 1.1 5.8 1 8.8c-0.2 3.5-1.4 7.1-3.8 10.7c-2.8 4.1-5.8 8.1-9.6 12.2c-3.7 4.1-7.7 8.2-11.4 12.2c-3.6 4.1-7.2 8.2-10.5 12.2c-3.3 4.1-5.9 8.2-8.5 12.2c-2.1 3.3-3.9 6.6-5.3 9.8c-1.5 3.6-2.4 7.2-3 10.8H2699.6c-0.5-3.6-1.4-7.2-2.9-10.8c-1.5-3.2-3.2-6.5-5.3-9.8c-2.6-4-5.3-8.1-8.6-12.2c-3.2-4-6.8-8.1-10.4-12.2c-3.7-4-7.7-8.1-11.5-12.2c-3.7-4.1-6.7-8.1-9.5-12.2c-2.4-3.6-3.6-7.2-3.8-10.7c-0.1-3 0-5.9 1-8.8c1.5-4.9 3.1-9.8 4.7-14.7c2.2-6.5 4.6-13 6.7-19.5c2.1-6.5 4-13.1 5.7-19.6c1.7-6.5 3.5-13 5.2-19.5c1.8-6.5 3.5-13 5.3-19.5c1.7-6.6 3.6-13.1 5.7-19.6c2.1-6.5 4.1-13 6.2-19.5c2.1-6.5 4.1-13 6.2-19.6c1.5-4.8 3.1-9.7 3.8-14.6c0.8-6 1.5-12.1 1.5-18.1Z" fill="#b0f653"/>
</g>
<g clip-path="url(#cp_h)" stroke="#000" fill="none">
<path d="M1637.3 2675.2V2701.1M1637.3 2778.8V2826.6" stroke-width="3.3"/>
<rect x="1628.7" y="2701.1" width="17.3" height="77.7" stroke-width="3.3" fill="#48e598" fill-opacity="0.9"/>
<path d="M1627.1 2718.2H1647.6" stroke-width="6.4"/>
<path d="M1755 2685V2697.2M1755 2743.6V2766.6" stroke-width="3.3"/>
<rect x="1746.4" y="2697.2" width="17.3" height="46.4" stroke-width="3.3" fill="#b0f653" fill-opacity="0.9"/>
<path d="M1744.8 2701.1H1765.3" stroke-width="6.4"/>
<rect x="1864.6" y="2728.9" width="17.3" height="97.7" stroke-width="3.3" fill="#48e598" fill-opacity="0.9"/>
<path d="M1863 2733.8H1883.5" stroke-width="6.4"/>
<path d="M1991 2711.8V2714.3M1991 2769V2826.6" stroke-width="3.3"/>
<rect x="1982.3" y="2714.3" width="17.3" height="54.7" stroke-width="3.3" fill="#b0f653" fill-opacity="0.9"/>
<path d="M1980.7 2742.1H2001.2" stroke-width="6.4"/>
<path d="M2109.6 2675.2V2728" stroke-width="3.3"/>
<rect x="2101" y="2728" width="17.3" height="98.7" stroke-width="3.3" fill="#48e598" fill-opacity="0.9"/>
<path d="M2099.4 2798.8H2119.9" stroke-width="6.4"/>
<path d="M2227.7 2707V2714.3M2227.7 2793.9V2826.6" stroke-width="3.3"/>
<rect x="2219" y="2714.3" width="17.3" height="79.6" stroke-width="3.3" fill="#b0f653" fill-opacity="0.9"/>
<path d="M2217.4 2742.1H2237.9" stroke-width="6.4"/>
<path d="M2345.4 2735.3V2738.7" stroke-width="3.3"/>
<rect x="2336.7" y="2738.7" width="17.3" height="88.9" stroke-width="3.3" fill="#48e598" fill-opacity="0.9"/>
<path d="M2335.1 2825.7H2355.6" stroke-width="6.4"/>
<path d="M2463.6 2699.6V2702.1M2463.6 2758.2V2826.6" stroke-width="3.3"/>
<rect x="2454.9" y="2702.1" width="17.3" height="56.2" stroke-width="3.3" fill="#b0f653" fill-opacity="0.9"/>
<path d="M2453.3 2753.4H2473.8" stroke-width="6.4"/>
<path d="M2571.5 2826.6H2592" stroke-width="6.4"/>
<path d="M2700 2712.8V2769" stroke-width="3.3"/>
<rect x="2691.3" y="2769" width="17.3" height="58.6" stroke-width="3.3" fill="#b0f653" fill-opacity="0.9"/>
<path d="M2689.7 2825.7H2710.2" stroke-width="6.4"/>
</g>
<path d="M1566.2 2826.8H2766.2" stroke="#000" stroke-width="1.6" stroke-dasharray="42.9 42.9" stroke-dashoffset="21.4" fill="none" clip-path="url(#cp_h)"/>
<path d="M1932.3 2092.5H2631.1M1695.9 2127.2H2634.5" stroke="#000" stroke-width="2.4" fill="none"/>
<g font-family='"Liberation Serif", "DejaVu Serif", serif' font-size="54" fill="#000">
<text transform="translate(2288.6 2075.2) scale(1.07 0.93) rotate(90)" x="-13.4" y="25.6">*</text>
<text transform="translate(2145 2111.8) scale(1.07 0.93) rotate(90)" x="-13.4" y="25.6">*</text>
<text transform="translate(2169.4 2111.8) scale(1.07 0.93) rotate(90)" x="-13.4" y="25.6">*</text>
<text transform="translate(2194.1 2111.8) scale(1.07 0.93) rotate(90)" x="-13.4" y="25.6">*</text>
</g>
<path d="M1544.3 2337.6H1554.1M1544.3 2582.2H1554.1M1544.3 2826.8H1554.1M1695.8 2971.9V2981.7M1932.1 2971.9V2981.7M2168.3 2971.9V2981.7M2404.5 2971.9V2981.7M2640.8 2971.9V2981.7" stroke="#333333" stroke-width="3.9" fill="none"/>
<g font-family='"Liberation Sans", Arial, sans-serif' font-size="33" fill="#4d4d4d" stroke="#4d4d4d" stroke-width="0.4">
<text x="1536.5" y="2349.5" text-anchor="end">0.2</text>
<text x="1536.5" y="2594.1" text-anchor="end">0.1</text>
<text x="1536.5" y="2838.7" text-anchor="end">0.0</text>
<text x="1695.8" y="3013" text-anchor="middle">0</text>
<text x="1932.1" y="3013" text-anchor="middle">6</text>
<text x="2168.3" y="3013" text-anchor="middle">12</text>
<text x="2404.5" y="3013" text-anchor="middle">24</text>
<text x="2640.8" y="3013" text-anchor="middle">48</text>
</g>
<g font-family='"DejaVu Sans", "Liberation Sans", sans-serif' font-size="44" fill="#000">
<text x="2173.1" y="3061.5" text-anchor="middle">Distance (m)</text>
<text transform="translate(1472.3 2535.5) rotate(-90)" text-anchor="middle">CWV Number of nests</text>
</g>
<text x="1424.9" y="2073.7" font-family='"Liberation Sans", Arial, sans-serif' font-size="42" font-weight="bold" fill="#000">(h)</text>
<g clip-path="url(#cp_i)">
<rect x="2951.9" y="2055.2" width="1211.6" height="913.2" fill="#ebebeb"/>
<path d="M2951.9 2251.6H4163.5M2951.9 2436.5H4163.5M2951.9 2621.3H4163.5M2951.9 2806.2H4163.5" stroke="#fff" stroke-width="2.1" fill="none"/>
<path d="M2951.9 2159.2H4163.5M2951.9 2344H4163.5M2951.9 2528.9H4163.5M2951.9 2898.6H4163.5M3091.7 2059.8V2968.4M3324.7 2059.8V2968.4M3557.7 2059.8V2968.4M3790.7 2059.8V2968.4M4023.7 2059.8V2968.4" stroke="#fff" stroke-width="4.2" fill="none"/>
</g>
<g clip-path="url(#cp_i)" stroke="#4a4a4a" stroke-width="3.9" stroke-linejoin="round" fill-opacity="0.9">
<path d="M3034.1 2192.6c0 12.7 0.5 25.4 1.1 38.1c0.3 6.5 1.1 13.1 2.4 19.6c1.6 8.1 3.2 16.2 4.8 24.4c1.5 8.1 3.1 16.3 4.7 24.4c1.6 8.1 2.9 16.3 4.3 24.4c1.4 8.2 2.6 16.3 3.8 24.5c1.2 8.1 2.1 16.2 2.9 24.4c0.8 8.1 1.5 16.3 1.9 24.4c0.4 8.1 0.8 16.3 0.9 24.4c0.2 8.2 0.3 16.3 0.5 24.4c0.2 8.2 0.3 16.3 0.5 24.5c0.1 6.5 0.5 13 0.9 19.5c0.5 6.5 1.3 13 2.4 19.5c1.1 6.6 2.5 13.1 4.3 19.6c1.8 6.5 3.9 13 5.7 19.5c1.8 6.5 3.6 13 5.3 19.6c1.6 6.5 2.9 13 3.8 19.5c0.9 6.5 1 13 0.9 19.5c0 6.5-0.2 13.1-1.4 19.6c-1.2 6.5-2.8 13-4.8 19.5c-2 6.5-3.9 13-6.2 19.5c-2.2 6.6-4.4 13.1-6.6 19.6c-2.3 6.5-4.5 13-6.7 19.5c-2.2 6.5-4.2 13-6.2 19.6c-2 6.5-3.6 13-5.2 19.5c-1.6 6.5-3.1 13-4.3 19.5c-1.2 6.5-2.3 13.1-3.4 19.6c-1 6.5-2.1 13-2.8 19.5c-0.7 6.5-1.1 13-1.4 19.5c-0.4 6.6-0.8 13.1-1 19.6c-0.5 15.5-1 30.9-1.1 46.4H3033.4c0-15.5-0.5-30.9-1-46.4c-0.3-6.5-0.6-13-1-19.6c-0.4-6.5-0.7-13-1.4-19.5c-0.7-6.5-1.8-13-2.9-19.5c-1-6.5-2.1-13.1-3.3-19.6c-1.2-6.5-2.7-13-4.3-19.5c-1.6-6.5-3.3-13-5.2-19.5c-2-6.6-4-13.1-6.2-19.6c-2.3-6.5-4.5-13-6.7-19.5c-2.2-6.5-4.4-13-6.7-19.6c-2.2-6.5-4.2-13-6.2-19.5c-2-6.5-3.6-13-4.7-19.5c-1.2-6.5-1.4-13.1-1.5-19.6c0-6.5 0.1-13 1-19.5c0.9-6.5 2.1-13 3.8-19.5c1.7-6.6 3.4-13.1 5.2-19.6c1.9-6.5 4-13 5.8-19.5c1.8-6.5 3.1-13 4.3-19.6c1.1-6.5 1.9-13 2.3-19.5c0.5-6.5 0.9-13 1-19.5c0.1-8.2 0.3-16.3 0.5-24.5c0.1-8.1 0.3-16.2 0.4-24.4c0.2-8.1 0.6-16.3 1-24.4c0.4-8.1 1.1-16.3 1.9-24.4c0.8-8.2 1.7-16.3 2.9-24.4c1.1-8.2 2.4-16.3 3.8-24.5c1.3-8.1 2.7-16.3 4.2-24.4c1.6-8.1 3.2-16.3 4.8-24.4c1.6-8.2 3.2-16.3 4.8-24.4c1.2-6.5 2-13.1 2.4-19.6c0.6-12.7 1-25.4 1-38.1Z" fill="#48e598"/>
<path d="M3150.4 2189.2c0 12.2 0.4 24.4 1.1 36.6c0.3 6.6 1.7 13.1 3.3 19.6c2 8.1 4.1 16.3 6.7 24.4c2.5 8.1 5 16.3 7.6 24.4c2.5 8.2 5.1 16.3 7.6 24.4c2.5 8.2 4.7 16.3 6.7 24.5c2 8.1 3.5 16.3 4.7 24.4c1.3 8.1 2.3 16.3 2.9 24.4c0.6 8.2 1.3 16.3 1.4 24.4c0.2 8.2 0.3 16.3 0.5 24.5c0.2 8.1 0.3 16.2 0.5 24.4c0.1 8.1 0.4 16.3 0.9 24.4c0.5 8.1 1.2 16.3 1.9 24.4c0.8 8.2 1.7 16.3 2.4 24.4c0.7 8.2 1.4 16.3 1.9 24.5c0.5 8.1 0.8 16.3 1 24.4c0.1 6.5 0.1 13 0 19.5c-0.1 6.5-0.4 13.1-1 19.6c-0.5 6.5-1.4 13-2.4 19.5c-1 6.5-2 13-3.3 19.5c-1.3 6.6-2.7 13.1-4.3 19.6c-1.6 6.5-3.2 13-4.7 19.5c-1.6 6.5-3.2 13-4.8 19.6c-1.6 6.5-3.2 13-4.8 19.5c-1.6 6.5-3.2 13-4.7 19.5c-1.5 6.5-2.9 13.1-4.3 19.6c-1.5 6.5-2.9 13-4.3 19.5c-1.4 6.5-2.6 13-3.8 19.5c-1.2 6.6-2.3 13.1-3.4 19.6c-1 6.5-1.7 13-2.3 19.5c-0.7 6.5-1.2 13-1.5 19.6c-0.2 6.5-0.3 13-0.4 19.5c-0.3 9.8-0.7 19.5-1.1 29.3H3149.7c-0.4-9.8-0.8-19.5-1.1-29.3c-0.2-6.5-0.2-13-0.5-19.5c-0.2-6.6-0.8-13.1-1.4-19.6c-0.6-6.5-1.4-13-2.4-19.5c-1-6.5-2.1-13-3.3-19.6c-1.2-6.5-2.4-13-3.8-19.5c-1.5-6.5-2.9-13-4.3-19.5c-1.4-6.5-2.8-13.1-4.3-19.6c-1.5-6.5-3.2-13-4.8-19.5c-1.5-6.5-3.1-13-4.7-19.5c-1.6-6.6-3.2-13.1-4.8-19.6c-1.6-6.5-3.2-13-4.7-19.5c-1.6-6.5-3-13-4.3-19.6c-1.4-6.5-2.4-13-3.4-19.5c-1-6.5-1.8-13-2.3-19.5c-0.6-6.5-0.9-13.1-1-19.6c-0.1-6.5-0.1-13 0-19.5c0.2-8.1 0.4-16.3 1-24.4c0.5-8.2 1.1-16.3 1.9-24.5c0.7-8.1 1.6-16.2 2.3-24.4c0.8-8.1 1.5-16.3 1.9-24.4c0.5-8.1 0.8-16.3 1-24.4c0.2-8.2 0.3-16.3 0.5-24.4c0.1-8.2 0.3-16.3 0.4-24.5c0.2-8.1 0.8-16.2 1.5-24.4c0.6-8.1 1.6-16.3 2.8-24.4c1.3-8.1 2.8-16.3 4.8-24.4c2-8.2 4.1-16.3 6.7-24.5c2.5-8.1 5-16.2 7.6-24.4c2.5-8.1 5.1-16.3 7.6-24.4c2.5-8.1 4.6-16.3 6.7-24.4c1.6-6.5 3-13 3.3-19.6c0.7-12.2 1.1-24.4 1.1-36.6Z" fill="#b0f653"/>
<path d="M3266.6 2527.2c0 4.6 0.7 9.1 1.6 13.7c0.6 3.2 2.2 6.5 4.8 9.8c3.2 4 6.7 8.1 10.4 12.2c3.8 4 7.8 8.1 11.5 12.2c3.7 4.1 7.1 8.1 10.4 12.2c3.4 4.1 6.1 8.1 8.6 12.2c2.6 4.1 3.9 8.1 4.3 12.2c0.4 4.1-0.5 8.2-2.9 12.2c-2.4 4.1-5 8.2-8.1 12.2c-3 4.1-6.5 8.2-9.5 12.2c-2.9 4.1-5.4 8.2-7.6 12.3c-2.2 4-3.8 8.1-4.8 12.2c-0.7 3.2-1.2 6.5-0.9 9.7c0.3 4.1 0.7 8.2 1.4 12.3c0.7 4 1.7 8.1 2.4 12.2c0.7 4 0.9 8.1 0.9 12.2c0 4-0.6 8.1-1.9 12.2c-1.2 4.1-2.8 8.1-4.7 12.2c-2 4.1-4.3 8.1-6.2 12.2c-1.9 4.1-3.7 8.1-5.3 12.2c-1.2 3.3-2.1 6.5-2.8 9.8c-0.7 2.9-1.2 5.8-1.6 8.8H3265.9c-0.3-3-0.9-5.9-1.5-8.8c-0.7-3.3-1.7-6.5-2.9-9.8c-1.5-4.1-3.3-8.1-5.2-12.2c-1.9-4.1-4.3-8.1-6.2-12.2c-2-4.1-3.5-8.1-4.8-12.2c-1.2-4.1-1.9-8.2-1.9-12.2c0-4.1 0.3-8.2 1-12.2c0.7-4.1 1.7-8.2 2.4-12.2c0.6-4.1 1.1-8.2 1.4-12.3c0.2-3.2-0.2-6.5-1-9.7c-0.9-4.1-2.5-8.2-4.7-12.2c-2.2-4.1-4.7-8.2-7.6-12.3c-3-4-6.5-8.1-9.6-12.2c-3-4-5.7-8.1-8.1-12.2c-2.4-4-3.2-8.1-2.8-12.2c0.3-4.1 1.7-8.1 4.3-12.2c2.5-4.1 5.2-8.1 8.5-12.2c3.4-4.1 6.8-8.1 10.5-12.2c3.7-4.1 7.7-8.2 11.4-12.2c3.8-4.1 7.3-8.2 10.5-12.2c2.6-3.3 4.2-6.6 4.8-9.8c0.8-4.6 1.5-9.1 1.5-13.7Z" fill="#48e598"/>
<path d="M3382.9 2142.8c0 8.1 0.7 16.3 1.5 24.4c0.7 6.5 2.5 13.1 3.8 19.6c1.7 8.1 3.6 16.2 5.3 24.4c1.6 8.1 2.6 16.3 3.3 24.4c0.5 4.9 0.6 9.8 0.5 14.7c-0.1 4.8-0.3 9.7-1 14.6c-1.1 8.2-2.6 16.3-4.2 24.4c-1.7 8.2-3.9 16.3-5.3 24.5c-0.9 5.7-1.6 11.4-2.4 17.1c-0.5 4-1.4 8.1-1.4 12.2c0 50.4 0 100.9 0 151.4c0 4.9 1.3 9.8 2.4 14.6c1 4.9 2.7 9.8 4.8 14.7c2 4.9 4.1 9.8 6.6 14.6c2.6 4.9 5.1 9.8 7.6 14.7c2.6 4.9 5.1 9.8 7.7 14.7c2.5 4.8 5 9.7 7.6 14.6c2.5 4.9 4.8 9.8 7.1 14.7c2.4 4.8 4.2 9.7 5.7 14.6c1.3 4.1 1.6 8.2 1.5 12.2c-0.2 4.1-0.4 8.2-1.5 12.2c-1.2 4.9-2.5 9.8-3.8 14.7c-1.2 4.9-2.5 9.8-3.8 14.6c-1.3 4.9-2.4 9.8-3.3 14.7c-0.9 4.9-1.2 9.8-1.9 14.7c-0.7 4.8-1.5 9.7-2.4 14.6c-0.9 4.9-2.4 9.8-4.3 14.7c-1.9 4.8-4 9.7-6.2 14.6c-2.2 4.9-4.5 9.8-6.6 14.7c-2.2 4.8-4.2 9.7-6.2 14.6c-2 4.9-3.8 9.8-5.3 14.7c-1.4 4.9-2.5 9.7-3.3 14.6c-0.6 3.3-1.1 6.5-1.4 9.8c-0.5 4.9-1 9.8-1.1 14.6H3382.2c-0.2-4.8-0.6-9.7-1.1-14.6c-0.3-3.3-0.9-6.5-1.4-9.8c-0.9-4.9-1.9-9.7-3.4-14.6c-1.4-4.9-3.2-9.8-5.2-14.7c-2-4.9-4-9.8-6.2-14.6c-2.2-4.9-4.5-9.8-6.7-14.7c-2.1-4.9-4.2-9.8-6.1-14.6c-2-4.9-3.4-9.8-4.3-14.7c-1-4.9-1.7-9.8-2.4-14.6c-0.7-4.9-1-9.8-1.9-14.7c-0.9-4.9-2.1-9.8-3.4-14.7c-1.2-4.8-2.5-9.7-3.8-14.6c-1.2-4.9-2.5-9.8-3.8-14.7c-1-4-1.3-8.1-1.4-12.2c-0.1-4 0.2-8.1 1.4-12.2c1.5-4.9 3.4-9.8 5.7-14.6c2.4-4.9 4.6-9.8 7.2-14.7c2.5-4.9 5.1-9.8 7.6-14.6c2.5-4.9 5.1-9.8 7.6-14.7c2.6-4.9 5.1-9.8 7.6-14.7c2.6-4.8 4.7-9.7 6.7-14.6c2.1-4.9 3.7-9.8 4.8-14.7c1-4.8 2.4-9.7 2.4-14.6c0-50.5 0-101 0-151.4c0-4.1-1-8.2-1.5-12.2c-0.7-5.7-1.4-11.4-2.4-17.1c-1.3-8.2-3.6-16.3-5.2-24.5c-1.6-8.1-3.1-16.2-4.3-24.4c-0.7-4.9-0.9-9.8-0.9-14.6c-0.1-4.9 0-9.8 0.4-14.7c0.8-8.1 1.7-16.3 3.4-24.4c1.6-8.2 3.5-16.3 5.2-24.4c1.4-6.5 3.2-13.1 3.8-19.6c0.8-8.1 1.6-16.3 1.6-24.4Z" fill="#b0f653"/>
<path d="M3499.6 2505.2c0 5.4 0.7 10.8 1.6 16.2c0.6 4 2.1 8.1 4.7 12.2c3.2 4.8 6.8 9.7 10.5 14.6c3.8 4.9 7.7 9.8 11.4 14.7c3.8 4.9 7.2 9.7 10.5 14.6c3.4 4.9 5.8 9.8 8.1 14.7c2.4 4.9 3.7 9.7 4.3 14.6c0.5 4.1 0.2 8.2-1.4 12.2c-1.6 4.1-3.5 8.2-5.7 12.3c-2.3 4-5 8.1-7.2 12.2c-2.1 4-3.8 8.1-5.2 12.2c-1.4 4-2.1 8.1-2.4 12.2c-0.3 4.1-0.3 8.1 1 12.2c1.2 4.1 2.7 8.1 4.2 12.2c1.6 4.1 3.3 8.2 4.8 12.2c1.5 4.1 2.1 8.2 2.4 12.2c0.3 4.1-0.2 8.2-1.4 12.2c-1.3 4.1-2.9 8.2-5.3 12.3c-2.4 4-4.8 8.1-7.6 12.2c-2.8 4-5.8 8.1-8.6 12.2c-2.7 4-5.2 8.1-7.6 12.2c-2.4 4.1-4.5 8.1-6.2 12.2c-1.3 3.3-2.4 6.5-3.3 9.8c-0.6 2.1-1.1 4.2-1.6 6.3H3498.9c-0.4-2.1-0.9-4.2-1.5-6.3c-0.9-3.3-2-6.5-3.4-9.8c-1.7-4.1-3.8-8.1-6.2-12.2c-2.3-4.1-4.8-8.2-7.6-12.2c-2.7-4.1-5.8-8.2-8.5-12.2c-2.8-4.1-5.3-8.2-7.7-12.2c-2.3-4.1-3.9-8.2-5.2-12.3c-1.3-4-1.7-8.1-1.4-12.2c0.3-4 0.8-8.1 2.3-12.2c1.5-4 3.3-8.1 4.8-12.2c1.5-4.1 3-8.1 4.3-12.2c1.3-4.1 1.2-8.1 0.9-12.2c-0.2-4.1-0.9-8.2-2.3-12.2c-1.4-4.1-3.1-8.2-5.3-12.2c-2.1-4.1-4.9-8.2-7.1-12.2c-2.3-4.1-4.1-8.2-5.7-12.3c-1.6-4-1.9-8.1-1.5-12.2c0.6-4.9 2-9.7 4.3-14.6c2.4-4.9 4.8-9.8 8.1-14.7c3.4-4.9 6.8-9.7 10.5-14.6c3.7-4.9 7.7-9.8 11.4-14.7c3.8-4.9 7.3-9.8 10.5-14.6c2.7-4.1 4.1-8.2 4.8-12.2c0.8-5.4 1.5-10.8 1.5-16.2Z" fill="#48e598"/>
<path d="M3615.6 2567.8c0 3.2 0.9 6.5 2 9.7c1.1 3.3 5.3 6.5 8.1 9.8c2.8 3.2 5.8 6.5 8.6 9.8c2.7 3.2 4.3 6.5 4.7 9.7c0.5 3.3 0.2 6.5 0 9.8c-0.2 3.3-1.4 6.5-1.4 9.8c0 2.4 1.4 4.9 3.8 7.3c2.4 2.4 5.1 4.9 8.1 7.3c3 2.5 6.6 4.9 9.5 7.3c3 2.5 5 4.9 6.7 7.4c1.1 1.6 1.5 3.2 1.4 4.9c0 1.9-0.6 3.9-2.4 5.8c-2.3 2.6-4.9 5.2-8.5 7.8c-3.8 2.8-7.6 5.6-11.5 8.3c-3.8 2.8-7.6 5.6-11.4 8.3c-3.6 2.6-6 5.3-8.6 7.9c-2.2 2.2-4.4 4.5-5.7 6.8c-1.2 2.1-1.8 4.2-2.4 6.3c-0.4 2-0.8 4-1 5.9H3614.9c-0.2-1.9-0.6-3.9-1.1-5.9c-0.5-2.1-1.2-4.2-2.4-6.3c-1.3-2.3-3.4-4.6-5.7-6.8c-2.6-2.6-5-5.3-8.6-7.9c-3.8-2.7-7.6-5.5-11.4-8.3c-3.8-2.7-7.6-5.5-11.4-8.3c-3.6-2.6-6.3-5.2-8.6-7.8c-1.8-1.9-2.3-3.9-2.4-5.8c0-1.7 0.3-3.3 1.4-4.9c1.7-2.5 3.8-4.9 6.7-7.4c3-2.4 6.5-4.8 9.5-7.3c3-2.4 5.8-4.9 8.1-7.3c2.4-2.4 3.9-4.9 3.8-7.3c0-3.3-1.2-6.5-1.4-9.8c-0.2-3.3-0.4-6.5 0-9.8c0.4-3.2 2-6.5 4.8-9.7c2.7-3.3 5.7-6.6 8.5-9.8c2.8-3.3 7.1-6.5 8.1-9.8c1.1-3.2 2.1-6.5 2.1-9.7Z" fill="#b0f653"/>
<path d="M3732.3 2507.7c0 5.3 0.7 10.7 1.6 16.1c0.6 4.1 2.1 8.1 4.7 12.2c3.2 4.9 6.7 9.8 10.5 14.7c3.8 4.8 7.7 9.7 11.4 14.6c3.8 4.9 7.2 9.8 10.5 14.7c3.3 4.9 5.7 9.7 7.6 14.6c2 4.9 3.2 9.8 4.3 14.7c0.6 2.7 1 5.5 1 8.3c0 3.7-0.7 7.5-2.4 11.2c-1.9 4.1-4.1 8.2-6.7 12.2c-2.5 4.1-5.6 8.2-8.1 12.2c-2.4 4.1-4.4 8.2-6.2 12.2c-1.7 4.1-3 8.2-3.8 12.3c-0.6 3.2-1.1 6.5-0.9 9.7c0.2 4.1 0.5 8.2 0.9 12.2c0.4 4.1 1.1 8.2 1.5 12.2c0.3 4.1 0.2 8.2-0.5 12.3c-0.7 4-1.8 8.1-3.4 12.2c-1.5 4-3 8.1-4.7 12.2c-1.8 4.1-3.5 8.1-5.3 12.2c-1.7 4.1-3.5 8.1-5.2 12.2c-1.7 4.1-2.8 8.1-3.8 12.2c-0.8 3.3-1.4 6.5-1.9 9.8c-0.5 2.9-0.8 5.8-1.1 8.8H3731.6c-0.2-3-0.6-5.9-1.1-8.8c-0.5-3.3-1.1-6.5-1.9-9.8c-0.9-4.1-2-8.1-3.8-12.2c-1.7-4.1-3.5-8.1-5.2-12.2c-1.8-4.1-3.5-8.1-5.3-12.2c-1.7-4.1-3.2-8.2-4.7-12.2c-1.5-4.1-2.7-8.2-3.4-12.2c-0.7-4.1-0.8-8.2-0.4-12.3c0.4-4 1-8.1 1.4-12.2c0.4-4 0.7-8.1 0.9-12.2c0.2-3.2-0.3-6.5-0.9-9.7c-0.8-4.1-2.1-8.2-3.8-12.3c-1.7-4-3.7-8.1-6.2-12.2c-2.5-4-5.6-8.1-8.1-12.2c-2.5-4-4.8-8.1-6.7-12.2c-1.7-3.7-2.4-7.5-2.3-11.2c0-2.8 0.3-5.6 0.9-8.3c1.1-4.9 2.3-9.8 4.3-14.7c1.9-4.9 4.3-9.7 7.6-14.6c3.3-4.9 6.8-9.8 10.5-14.7c3.7-4.9 7.7-9.8 11.4-14.6c3.8-4.9 7.3-9.8 10.5-14.7c2.7-4.1 4.1-8.1 4.8-12.2c0.8-5.4 1.5-10.8 1.5-16.1Z" fill="#48e598"/>
<path d="M3848.6 2173.1c0 9.4 0.7 18.9 1.5 28.3c0.7 8.2 2.6 16.3 3.8 24.4c1.3 8.2 2.6 16.3 3.8 24.5c1.3 8.1 2.2 16.2 2.9 24.4c0.7 8.1 0.9 16.3 0.9 24.4c0.1 8.1-0.1 16.3-0.9 24.4c-0.9 8.2-2 16.3-3.3 24.5c-1.4 8.1-3 16.2-4.3 24.4c-1.1 6.5-2.1 13-2.9 19.5c-0.6 4.9-1.4 9.8-1.4 14.7c0 30.9 0 61.8 0 92.8c0 4.9 1.3 9.7 2.4 14.6c1 4.9 2.6 9.8 4.7 14.7c2.1 4.9 4.4 9.7 6.7 14.6c2.3 4.9 4.9 9.8 7.1 14.7c2.3 4.9 4.2 9.8 6.2 14.6c2 4.9 4 9.8 5.7 14.7c1.8 4.9 3.3 9.8 4.8 14.6c1.5 4.9 3 9.8 4.3 14.7c1.3 4.9 2.3 9.8 3.3 14.7c1.1 4.8 2 9.7 2.9 14.6c0.8 4.9 1.5 9.8 1.9 14.7c0.4 4.8 0.7 9.7 0.9 14.6c0.3 4.9 0.5 9.8 0.5 14.7c0.1 4.9-0.4 9.7-0.9 14.6c-0.6 4.9-1.5 9.8-2.9 14.7c-1.4 4.9-3.1 9.7-5.2 14.6c-2.1 4.9-4.2 9.8-6.7 14.7c-2.5 4.9-5.1 9.7-7.6 14.6c-2.6 4.9-5.1 9.8-7.6 14.7c-2.6 4.9-4.9 9.8-7.2 14.6c-2.2 4.9-4 9.8-5.7 14.7c-1.4 4.1-2.8 8.1-3.8 12.2c-1 4.1-1.8 8.1-2.4 12.2c-0.6 4.1-1.2 8.2-1.5 12.2H3847.9c-0.4-4-1-8.1-1.6-12.2c-0.6-4.1-1.4-8.1-2.4-12.2c-1-4.1-2.3-8.1-3.8-12.2c-1.7-4.9-3.5-9.8-5.7-14.7c-2.2-4.8-4.6-9.7-7.1-14.6c-2.6-4.9-5.1-9.8-7.7-14.7c-2.5-4.9-5-9.7-7.6-14.6c-2.5-4.9-4.6-9.8-6.7-14.7c-2-4.9-3.8-9.7-5.2-14.6c-1.4-4.9-2.3-9.8-2.8-14.7c-0.6-4.9-1.1-9.7-1-14.6c0.1-4.9 0.2-9.8 0.5-14.7c0.2-4.9 0.5-9.8 0.9-14.6c0.5-4.9 1.1-9.8 1.9-14.7c0.9-4.9 1.9-9.8 2.9-14.6c1-4.9 2.1-9.8 3.3-14.7c1.3-4.9 2.8-9.8 4.3-14.7c1.5-4.8 3-9.7 4.8-14.6c1.7-4.9 3.7-9.8 5.7-14.7c2-4.8 4-9.7 6.2-14.6c2.2-4.9 4.8-9.8 7.1-14.7c2.4-4.9 4.6-9.7 6.7-14.6c2.1-4.9 3.7-9.8 4.8-14.7c1-4.9 2.3-9.7 2.3-14.6c0-31 0-61.9 0-92.8c0-4.9-0.8-9.8-1.4-14.7c-0.7-6.5-1.8-13-2.9-19.5c-1.3-8.2-2.9-16.3-4.2-24.4c-1.4-8.2-2.5-16.3-3.4-24.5c-0.8-8.1-1-16.3-0.9-24.4c0-8.1 0.2-16.3 0.9-24.4c0.8-8.2 1.6-16.3 2.9-24.4c1.3-8.2 2.5-16.3 3.8-24.5c1.3-8.1 3.1-16.2 3.8-24.4c0.8-9.4 1.6-18.9 1.6-28.3Z" fill="#b0f653"/>
<path d="M3964.8 2533.6c0 4.8 0.8 9.7 1.6 14.6c0.6 4.1 2.2 8.2 3.8 12.2c1.9 4.9 4.2 9.8 6.2 14.7c1.9 4.9 3.7 9.8 5.2 14.6c1.5 4.9 2 9.8 1.9 14.7c0 4.1-0.3 8.1-1.9 12.2c-1.6 4.1-3.2 8.1-4.8 12.2c-1.2 3.3-2.5 6.5-3.8 9.8c-0.9 2.4-1.2 4.9-1.4 7.3c-0.2 2.4 0.4 4.9 1.4 7.3c1.4 3.3 3.1 6.5 5.7 9.8c2.7 3.3 5.4 6.5 8.6 9.8c3.2 3.2 6.4 6.5 9.5 9.7c3.2 3.3 6.4 6.6 9.6 9.8c3.1 3.3 4.8 6.5 6.6 9.8c1.9 3.2 2.8 6.5 2.9 9.7c0.1 2.8-0.7 5.6-2.9 8.4c-2.3 2.9-4.8 5.8-8.1 8.7c-3.6 3.3-7.3 6.6-10.9 9.8c-3.6 3.3-7.1 6.5-10.5 9.8c-3.4 3.2-6.1 6.5-8.6 9.7c-2.5 3.3-4.5 6.6-6.2 9.8c-1.2 2.5-2.2 4.9-2.8 7.3c-0.5 2-0.9 4-1.1 5.9H3964.1c-0.2-1.9-0.6-3.9-1.1-5.9c-0.6-2.4-1.6-4.8-2.8-7.3c-1.7-3.2-3.7-6.5-6.2-9.8c-2.5-3.2-5.2-6.5-8.6-9.7c-3.4-3.3-6.9-6.5-10.5-9.8c-3.5-3.2-7.3-6.5-10.9-9.8c-3.3-2.9-5.8-5.8-8.1-8.7c-2.2-2.8-3-5.6-2.9-8.4c0.1-3.2 1.1-6.5 2.9-9.7c1.8-3.3 3.5-6.5 6.7-9.8c3.1-3.2 6.3-6.5 9.5-9.8c3.2-3.2 6.3-6.5 9.5-9.7c3.2-3.3 5.9-6.5 8.6-9.8c2.6-3.3 4.3-6.5 5.7-9.8c1-2.4 1.6-4.9 1.4-7.3c-0.1-2.4-0.5-4.9-1.4-7.3c-1.3-3.3-2.6-6.5-3.8-9.8c-1.6-4.1-3.2-8.1-4.8-12.2c-1.6-4.1-1.8-8.1-1.9-12.2c0-4.9 0.4-9.8 1.9-14.7c1.6-4.8 3.3-9.7 5.3-14.6c1.9-4.9 4.2-9.8 6.1-14.7c1.7-4 3.2-8.1 3.9-12.2c0.7-4.9 1.5-9.8 1.5-14.6Z" fill="#48e598"/>
<path d="M4081.1 2498.4c0 6 0.7 12 1.5 18.1c0.6 4 2.1 8.1 3.8 12.2c2.1 4.9 4.3 9.7 6.7 14.6c2.4 4.9 5.2 9.8 7.6 14.7c2.4 4.9 4.6 9.8 6.7 14.6c2 4.9 3.7 9.8 5.2 14.7c1.5 4.9 2.5 9.8 3.4 14.6c0.6 4.1 1 8.2 0.9 12.3c-0.1 4-0.5 8.1-1.4 12.2c-1 4-1.9 8.1-2.9 12.2c-0.9 4.1-1.9 8.1-2.8 12.2c-0.8 3.2-0.7 6.5-0.5 9.8c0.1 3.2 0.6 6.5 1.9 9.7c1.6 4.1 3.8 8.2 6.2 12.2c2.4 4.1 5.3 8.2 7.6 12.3c2.3 4 4.1 8.1 5.7 12.2c1.1 2.7 1.8 5.5 1.9 8.3c0.1 2.9-0.7 5.8-1.9 8.8c-1.7 4-3.4 8.1-6.2 12.2c-2.7 4-5.6 8.1-8.5 12.2c-3 4.1-6.1 8.1-9.1 12.2c-3 4.1-5.8 8.1-8.6 12.2c-2.7 4.1-4.9 8.1-7.1 12.2c-2.2 4.1-4.2 8.2-5.7 12.2c-1.2 3.3-2.1 6.5-2.9 9.8c-0.6 2.4-1.1 4.9-1.5 7.3H4080.4c-0.5-2.4-1-4.9-1.6-7.3c-0.8-3.3-1.7-6.5-2.9-9.8c-1.4-4-3.5-8.1-5.7-12.2c-2.2-4.1-4.4-8.1-7.1-12.2c-2.7-4.1-5.6-8.1-8.6-12.2c-3-4.1-6-8.1-9-12.2c-3-4.1-5.8-8.2-8.6-12.2c-2.8-4.1-4.5-8.2-6.2-12.2c-1.2-3-2-5.9-1.9-8.8c0.1-2.8 0.8-5.6 1.9-8.3c1.7-4.1 3.4-8.2 5.7-12.2c2.4-4.1 5.3-8.2 7.6-12.3c2.4-4 4.6-8.1 6.2-12.2c1.4-3.2 1.8-6.5 1.9-9.7c0.2-3.3 0.3-6.6-0.4-9.8c-1-4.1-1.9-8.1-2.9-12.2c-0.9-4.1-1.9-8.2-2.9-12.2c-0.9-4.1-1.3-8.2-1.4-12.2c-0.1-4.1 0.3-8.2 1-12.3c0.8-4.8 1.8-9.7 3.3-14.6c1.5-4.9 3.2-9.8 5.2-14.7c2.1-4.8 4.3-9.7 6.7-14.6c2.4-4.9 5.2-9.8 7.6-14.7c2.5-4.9 4.6-9.7 6.7-14.6c1.7-4.1 3.2-8.2 3.8-12.2c0.9-6.1 1.6-12.1 1.6-18.1Z" fill="#b0f653"/>
</g>
<g clip-path="url(#cp_i)" stroke="#000" fill="none">
<path d="M3033.8 2367.5V2473.5M3033.8 2612.7V2713.8" stroke-width="3.3"/>
<rect x="3025.1" y="2473.5" width="17.3" height="139.2" stroke-width="3.3" fill="#48e598" fill-opacity="0.9"/>
<path d="M3023.5 2598H3044" stroke-width="6.4"/>
<path d="M3150 2406.6V2435.9M3150 2605.9V2713.8" stroke-width="3.3"/>
<rect x="3141.4" y="2435.9" width="17.3" height="170" stroke-width="3.3" fill="#b0f653" fill-opacity="0.9"/>
<path d="M3139.8 2601.9H3160.3" stroke-width="6.4"/>
<path d="M3266.3 2658.1V2713.8" stroke-width="3.3"/>
<rect x="3257.6" y="2601.9" width="17.3" height="56.2" stroke-width="3.3" fill="#48e598" fill-opacity="0.9"/>
<path d="M3256 2625.4H3276.5" stroke-width="6.4"/>
<path d="M3382.5 2599.5V2603.4M3382.5 2684V2713.8" stroke-width="3.3"/>
<rect x="3373.9" y="2603.4" width="17.3" height="80.6" stroke-width="3.3" fill="#b0f653" fill-opacity="0.9"/>
<path d="M3372.3 2626.4H3392.8" stroke-width="6.4"/>
<path d="M3499.3 2599.5V2603.4" stroke-width="3.3"/>
<rect x="3490.6" y="2603.4" width="17.3" height="110.4" stroke-width="3.3" fill="#48e598" fill-opacity="0.9"/>
<path d="M3489 2633.7H3509.5" stroke-width="6.4"/>
<path d="M3615.2 2611.7V2631.3M3615.2 2663V2675.2" stroke-width="3.3"/>
<rect x="3606.6" y="2631.3" width="17.3" height="31.7" stroke-width="3.3" fill="#b0f653" fill-opacity="0.9"/>
<path d="M3605 2658.1H3625.5" stroke-width="6.4"/>
<path d="M3732 2598.5V2611.7M3732 2678.6V2713.8" stroke-width="3.3"/>
<rect x="3723.3" y="2611.7" width="17.3" height="66.9" stroke-width="3.3" fill="#48e598" fill-opacity="0.9"/>
<path d="M3721.7 2621.5H3742.2" stroke-width="6.4"/>
<path d="M3848.2 2611.7V2618.1" stroke-width="3.3"/>
<rect x="3839.6" y="2618.1" width="17.3" height="95.7" stroke-width="3.3" fill="#b0f653" fill-opacity="0.9"/>
<path d="M3838 2657.1H3858.5" stroke-width="6.4"/>
<path d="M3964.5 2601V2663" stroke-width="3.3"/>
<rect x="3955.8" y="2663" width="17.3" height="51.8" stroke-width="3.3" fill="#48e598" fill-opacity="0.9"/>
<path d="M3954.2 2712.8H3974.7" stroke-width="6.4"/>
<path d="M4080.7 2601V2618.1" stroke-width="3.3"/>
<rect x="4072.1" y="2618.1" width="17.3" height="96.7" stroke-width="3.3" fill="#b0f653" fill-opacity="0.9"/>
<path d="M4070.5 2712.8H4091" stroke-width="6.4"/>
</g>
<path d="M2954.8 2713.8H4154.8" stroke="#000" stroke-width="1.6" stroke-dasharray="42.9 42.9" stroke-dashoffset="21.4" fill="none" clip-path="url(#cp_i)"/>
<path d="M2942.1 2159.2H2951.9M2942.1 2344H2951.9M2942.1 2528.9H2951.9M2942.1 2713.8H2951.9M2942.1 2898.6H2951.9M3091.7 2968.4V2978.2M3324.7 2968.4V2978.2M3557.7 2968.4V2978.2M3790.7 2968.4V2978.2M4023.7 2968.4V2978.2" stroke="#333333" stroke-width="3.9" fill="none"/>
<g font-family='"Liberation Sans", Arial, sans-serif' font-size="33" fill="#4d4d4d" stroke="#4d4d4d" stroke-width="0.4">
<text x="2934.3" y="2171.1" text-anchor="end">0.3</text>
<text x="2934.3" y="2355.9" text-anchor="end">0.2</text>
<text x="2934.3" y="2540.8" text-anchor="end">0.1</text>
<text x="2934.3" y="2725.7" text-anchor="end">0.0</text>
<text x="2934.3" y="2910.5" text-anchor="end">−0.1</text>
<text x="3091.7" y="3009.5" text-anchor="middle">0</text>
<text x="3324.7" y="3009.5" text-anchor="middle">6</text>
<text x="3557.7" y="3009.5" text-anchor="middle">12</text>
<text x="3790.7" y="3009.5" text-anchor="middle">24</text>
<text x="4023.7" y="3009.5" text-anchor="middle">48</text>
</g>
<g font-family='"DejaVu Sans", "Liberation Sans", sans-serif' font-size="44" fill="#000">
<text x="3567.4" y="3061.5" text-anchor="middle">Distance (m)</text>
<text transform="translate(2867.3 2556.9) rotate(-90)" text-anchor="middle">CWV Colony fondation type</text>
</g>
<text x="2822.8" y="2077.8" font-family='"Liberation Sans", Arial, sans-serif' font-size="42" font-weight="bold" fill="#000">(i)</text>
<g clip-path="url(#cp_j)">
<rect x="162" y="3122.9" width="1229.2" height="870.1" fill="#ebebeb"/>
<path d="M162 3198H1391.2M162 3427.6H1391.2M162 3657.3H1391.2M162 3886.9H1391.2" stroke="#fff" stroke-width="2.1" fill="none"/>
<path d="M162 3312.8H1391.2M162 3542.5H1391.2M303.8 3122.9V3993M540.2 3122.9V3993M776.6 3122.9V3993M1013 3122.9V3993M1249.4 3122.9V3993" stroke="#fff" stroke-width="4.2" fill="none"/>
</g>
<g clip-path="url(#cp_j)" stroke="#4a4a4a" stroke-width="3.9" stroke-linejoin="round" fill-opacity="0.9">
<path d="M245.2 3265.1c0 8.9 0.5 17.7 1 26.5c0.4 6.2 1.3 12.4 2.2 18.6c1.2 7.8 2.6 15.5 3.7 23.3c1.1 7.7 2 15.5 2.7 23.2c0.7 7.7 1 15.5 0.9 23.2c-0.1 7.8-0.4 15.5-1.4 23.3c-1 7.7-2 15.5-3.1 23.2c-0.9 6.2-1.9 12.4-2.8 18.6c-0.6 4.7-1.3 9.3-1.3 14c0 4.6 0.4 9.3 1.3 13.9c1.4 6.2 2.8 12.4 4.6 18.6c1.8 6.2 3.6 12.4 5.4 18.6c1.8 6.2 3.6 12.4 5.5 18.6c1.8 6.2 3.5 12.4 5.4 18.6c1.9 6.2 3.9 12.4 5.9 18.6c1.9 6.2 3.9 12.4 5.9 18.6c1.9 6.2 3.9 12.4 5.9 18.6c1.9 6.2 3.7 12.3 5.4 18.5c1.8 6.2 3 12.4 4.1 18.6c0.8 4.7 1 9.3 0.9 14c-0.1 4.6-0.5 9.3-1.8 13.9c-1.8 6.2-3.6 12.4-5.5 18.6c-1.8 6.2-3.6 12.4-5.4 18.6c-1.8 6.2-2.9 12.4-4.1 18.6c-1.1 6.2-2 12.4-3.1 18.6c-1.2 6.2-2.3 12.4-3.7 18.6c-1.3 6.2-3 12.4-5 18.6c-1.9 6.2-3.9 12.4-5.9 18.6c-1.9 6.2-3.9 12.4-5.8 18.6c-2 6.2-3.8 12.4-5.5 18.6c-1.6 6.2-2.6 12.4-3.6 18.6c-0.7 4.6-1.4 9.2-1.8 13.9c-0.5 5.7-0.9 11.5-1 17.2H244.5c-0.1-5.7-0.6-11.5-1-17.2c-0.4-4.7-1.1-9.3-1.9-13.9c-0.9-6.2-1.9-12.4-3.6-18.6c-1.6-6.2-3.5-12.4-5.4-18.6c-2-6.2-3.9-12.4-5.9-18.6c-2-6.2-3.9-12.4-5.9-18.6c-2-6.2-3.6-12.4-5-18.6c-1.3-6.2-2.5-12.4-3.6-18.6c-1.1-6.2-2-12.4-3.2-18.6c-1.1-6.2-2.2-12.4-4.1-18.6c-1.8-6.2-3.6-12.4-5.4-18.6c-1.8-6.2-3.6-12.4-5.4-18.6c-1.4-4.6-1.7-9.3-1.8-13.9c-0.2-4.7 0-9.3 0.9-14c1.1-6.2 2.3-12.4 4-18.6c1.8-6.2 3.5-12.3 5.5-18.5c1.9-6.2 3.9-12.4 5.9-18.6c1.9-6.2 3.9-12.4 5.9-18.6c1.9-6.2 4-12.4 5.8-18.6c1.9-6.2 3.7-12.4 5.5-18.6c1.8-6.2 3.6-12.4 5.4-18.6c1.8-6.2 3.7-12.4 5.5-18.6c1.8-6.2 3.2-12.4 4.5-18.6c1-4.6 1.4-9.3 1.4-13.9c0-4.7-0.7-9.3-1.4-14c-0.9-6.2-1.8-12.4-2.7-18.6c-1.1-7.7-2.2-15.5-3.2-23.2c-1-7.8-1.3-15.5-1.4-23.3c0-7.7 0.2-15.5 1-23.2c0.7-7.7 1.6-15.5 2.7-23.2c1.1-7.8 2.5-15.5 3.6-23.3c0.9-6.2 1.9-12.4 2.3-18.6c0.5-8.8 1-17.6 1-26.5Z" fill="#48e598"/>
<path d="M363.2 3161.5c0 12.4 0.5 24.8 1 37.2c0.3 6.2 1.2 12.4 2.3 18.6c1.4 7.7 2.8 15.5 4.5 23.2c1.8 7.7 3.6 15.5 5.5 23.2c1.9 7.8 4 15.5 5.9 23.3c1.9 7.7 3.7 15.5 5.4 23.2c1.7 7.8 3.2 15.5 4.5 23.3c1.4 7.7 2.6 15.5 3.7 23.2c1 7.7 1.9 15.5 2.7 23.2c0.7 7.8 1.4 15.5 1.8 23.3c0.4 7.7 0.7 15.5 0.9 23.2c0.2 7.8 0.2 15.5 0.5 23.3c0.2 7.7 0.5 15.5 0.9 23.2c0.3 7.8 0.7 15.5 1.3 23.2c0.6 7.8 1.4 15.5 2.3 23.3c0.9 7.7 1.8 15.5 2.7 23.2c0.9 7.8 1.8 15.5 2.7 23.3c0.9 7.7 1.3 15.5 1.8 23.2c0.6 7.8 1 15.5 1.4 23.3c0.4 9.2 0.5 18.5 0.5 27.8c-0.1 7.8-0.4 15.5-1 23.3c-0.5 7.7-1.5 15.5-2.7 23.2c-1.2 7.8-2.5 15.5-4 23.3c-1.6 7.7-3.2 15.5-5 23.2c-1.8 7.7-3.7 15.5-5.5 23.2c-1.8 7.8-3.6 15.5-5.4 23.3c-1.8 7.7-3.7 15.5-5.4 23.2c-1.8 7.8-3.4 15.5-5 23.3c-1.7 7.7-3.4 15.5-5 23.2c-1.7 7.8-3.1 15.5-4.6 23.2c-1.4 7.8-2.7 15.5-4 23.3c-1.1 6.2-2.2 12.4-2.7 18.6c-0.5 4.6-0.7 9.3-1 13.9c-0.3 5.8-0.6 11.5-1 17.2H362.5c-0.3-5.7-0.6-11.4-1-17.2c-0.3-4.6-0.5-9.3-0.9-13.9c-0.5-6.2-1.6-12.4-2.7-18.6c-1.3-7.8-2.6-15.5-4.1-23.3c-1.4-7.7-2.8-15.4-4.5-23.2c-1.7-7.7-3.3-15.5-5-23.2c-1.7-7.8-3.2-15.5-5-23.3c-1.7-7.7-3.6-15.5-5.4-23.2c-1.8-7.8-3.6-15.5-5.5-23.3c-1.8-7.7-3.6-15.5-5.4-23.2c-1.8-7.7-3.4-15.5-5-23.2c-1.6-7.8-2.9-15.5-4.1-23.3c-1.2-7.7-2.1-15.5-2.7-23.2c-0.6-7.8-0.9-15.5-0.9-23.3c0-9.3 0-18.6 0.5-27.8c0.3-7.8 0.8-15.5 1.3-23.3c0.6-7.7 0.9-15.5 1.8-23.2c0.9-7.8 1.9-15.5 2.8-23.3c0.9-7.7 1.8-15.5 2.7-23.2c0.9-7.8 1.6-15.5 2.2-23.3c0.6-7.7 1.1-15.4 1.4-23.2c0.4-7.7 0.7-15.5 0.9-23.2c0.2-7.8 0.3-15.5 0.5-23.3c0.2-7.7 0.5-15.5 0.9-23.2c0.4-7.8 1-15.5 1.8-23.3c0.7-7.7 1.6-15.5 2.7-23.2c1.1-7.7 2.3-15.5 3.6-23.2c1.4-7.8 2.8-15.5 4.6-23.3c1.7-7.7 3.5-15.5 5.4-23.2c1.9-7.8 4-15.5 5.9-23.3c1.9-7.7 3.7-15.5 5.4-23.2c1.8-7.7 3.2-15.5 4.6-23.2c1-6.2 1.9-12.4 2.2-18.6c0.6-12.4 1-24.8 1-37.2Z" fill="#b0f653"/>
<path d="M481.3 3540.3c0 5.4 0.7 10.9 1.5 16.3c0.5 3.8 1.7 7.7 3.6 11.6c2.2 4.6 4.8 9.3 8.1 13.9c3.4 4.7 6.7 9.3 10 14c3.3 4.6 6.7 9.3 10 13.9c3.3 4.7 5.7 9.3 8.1 14c2.5 4.6 4.6 9.3 6.4 13.9c1.7 4.7 2.8 9.3 3.6 14c0.7 4.1 1.1 8.3 0.9 12.5c-0.2 4.3-0.5 8.7-1.8 13c-1.4 4.7-2.7 9.3-4.1 14c-1.3 4.6-2.7 9.3-4.1 13.9c-1.3 4.7-1.8 9.3-2.2 14c-0.4 3.8-0.7 7.7-0.5 11.6c0.3 3.9 0.6 7.7 0.9 11.6c0.5 4.6 1 9.3 1.4 13.9c0.4 3.9 0.5 7.8 0.4 11.7c0 3.8-0.9 7.7-2.2 11.6c-1.5 4.6-3.4 9.3-5.9 13.9c-2.6 4.7-5.2 9.3-8.2 14c-2.9 4.6-6.1 9.3-9 13.9c-3 4.7-5.7 9.3-8.2 14c-2.4 4.6-4 9.3-5.4 13.9c-1 3.1-1.8 6.2-2.3 9.3c-0.5 3.1-0.9 6.2-1 9.3H480.6c-0.1-3.1-0.5-6.2-1-9.3c-0.5-3.1-1.3-6.2-2.3-9.3c-1.4-4.6-3-9.3-5.4-13.9c-2.5-4.7-5.2-9.3-8.2-14c-2.9-4.6-6.1-9.3-9-13.9c-3-4.7-5.6-9.3-8.2-14c-2.5-4.6-4.4-9.3-5.9-13.9c-1.3-3.9-2.2-7.8-2.3-11.6c0-3.9 0.1-7.8 0.5-11.7c0.4-4.6 0.9-9.3 1.4-13.9c0.3-3.9 0.6-7.7 0.9-11.6c0.2-3.9-0.1-7.8-0.5-11.6c-0.4-4.7-0.9-9.3-2.3-14c-1.3-4.6-2.7-9.3-4-13.9c-1.4-4.7-2.8-9.3-4.1-14c-1.3-4.3-1.6-8.7-1.8-13c-0.2-4.2 0.2-8.4 0.9-12.5c0.8-4.7 1.9-9.3 3.6-14c1.8-4.6 3.9-9.3 6.4-13.9c2.4-4.7 4.8-9.3 8.1-14c3.3-4.6 6.7-9.3 10-13.9c3.3-4.7 6.6-9.3 10-14c3.3-4.6 5.9-9.3 8.1-13.9c1.9-3.9 3.1-7.8 3.6-11.6c0.8-5.4 1.5-10.9 1.5-16.3Z" fill="#48e598"/>
<path d="M599.8 3420.4c0 8.2 0.5 16.4 1 24.6c0.4 5.4 1.1 10.9 2.3 16.3c1.3 6.2 3.2 12.4 5.4 18.6c2.3 6.2 4.6 12.4 7.3 18.6c2.7 6.2 5.4 12.4 8.1 18.6c2.8 6.2 5.5 12.4 8.2 18.6c2.7 6.2 5.2 12.4 7.7 18.5c2.5 6.2 4.5 12.4 6.4 18.6c1.8 6.2 3 12.4 4 18.6c1 6.2 1.6 12.4 1.8 18.6c0.2 4.7 0.3 9.3-0.4 14c-0.8 5.4-1.9 10.8-3.2 16.2c-1.3 5.5-2.9 10.9-4.1 16.3c-1.2 5.4-2.2 10.9-3.1 16.3c-1.1 6.2-2.1 12.4-2.8 18.6c-0.6 6.2-0.8 12.4-0.9 18.6c-0.1 6.2-0.1 12.4 0 18.6c0.2 6.2 0.7 12.3 0.9 18.5c0.2 5.5 0.2 10.9 0 16.3c-0.1 5.4-0.9 10.9-2.2 16.3c-1.3 5.4-3 10.8-5 16.3c-2.1 5.4-4.1 10.8-6.3 16.2c-2.3 5.4-4.6 10.9-6.8 16.3c-2.3 5.4-4.3 10.8-6.4 16.3c-2 5.4-3.9 10.8-5.4 16.2c-1.6 5.4-2.6 10.9-3.7 16.3c-0.7 3.9-1.4 7.7-1.8 11.6c-0.4 5-0.9 9.9-1 14.9H599.1c-0.1-5-0.5-9.9-1-14.9c-0.4-3.9-1.1-7.7-1.8-11.6c-1-5.4-2.1-10.9-3.6-16.3c-1.6-5.4-3.4-10.8-5.5-16.2c-2-5.5-4.1-10.9-6.3-16.3c-2.2-5.4-4.6-10.9-6.8-16.3c-2.2-5.4-4.3-10.8-6.3-16.2c-2.1-5.5-3.7-10.9-5-16.3c-1.4-5.4-2.1-10.9-2.3-16.3c-0.2-5.4-0.2-10.8 0-16.3c0.2-6.2 0.8-12.3 0.9-18.5c0.2-6.2 0.1-12.4 0-18.6c-0.1-6.2-0.3-12.4-0.9-18.6c-0.6-6.2-1.6-12.4-2.7-18.6c-1-5.4-2-10.9-3.2-16.3c-1.2-5.4-2.8-10.8-4.1-16.3c-1.3-5.4-2.3-10.8-3.1-16.2c-0.7-4.7-0.7-9.3-0.5-14c0.3-6.2 0.8-12.4 1.8-18.6c1-6.2 2.3-12.4 4.1-18.6c1.8-6.2 3.8-12.4 6.3-18.6c2.5-6.1 5-12.3 7.7-18.5c2.8-6.2 5.5-12.4 8.2-18.6c2.7-6.2 5.4-12.4 8.2-18.6c2.7-6.2 4.9-12.4 7.2-18.6c2.3-6.2 4.1-12.4 5.4-18.6c1.2-5.4 2-10.9 2.3-16.3c0.6-8.2 1-16.4 1-24.6Z" fill="#b0f653"/>
<path d="M717.9 3429.7c0 8.2 0.5 16.4 1 24.6c0.4 5.4 1.1 10.9 2.3 16.3c1.3 6.2 3.5 12.4 6.3 18.6c2.9 6.2 5.8 12.4 9.1 18.6c3.3 6.2 6.7 12.4 9.9 18.6c3.3 6.2 6.5 12.4 9.6 18.6c3 6.2 5.1 12.3 7.2 18.5c2.1 6.2 3.7 12.4 5 18.6c1.1 5.5 1.8 10.9 1.8 16.3c0 5.4-0.2 10.9-0.9 16.3c-0.7 5.4-1.5 10.8-2.3 16.2c-0.9 6.2-1.8 12.4-2.7 18.6c-0.9 6.2-1.4 12.4-1.8 18.6c-0.4 6.2-0.7 12.4-0.9 18.6c-0.2 6.2-0.5 12.4-0.5 18.6c0 6.2 0.2 12.4 0.5 18.6c0.3 6.2 0.6 12.4 0.9 18.6c0.3 5.4 0.4 10.8 0.5 16.3c0 5.4-0.7 10.8-1.9 16.2c-1.1 5.5-2.5 10.9-4.5 16.3c-2 5.4-3.9 10.8-6.3 16.3c-2.4 5.4-4.9 10.8-7.3 16.2c-2.4 5.5-4.8 10.9-7.2 16.3c-2.5 5.4-4.4 10.9-6.4 16.3c-2 5.4-3.7 10.8-5.4 16.2c-1.5 4.7-2.9 9.3-3.6 14c-0.7 3.9-1 7.7-1.4 11.6c-0.4 3.9-0.7 7.8-1 11.6H717.2c-0.3-3.8-0.6-7.7-1-11.6c-0.4-3.9-0.8-7.7-1.4-11.6c-0.7-4.7-2.2-9.3-3.6-14c-1.7-5.4-3.5-10.8-5.4-16.2c-2-5.4-4-10.9-6.4-16.3c-2.4-5.4-4.8-10.8-7.2-16.3c-2.5-5.4-4.9-10.8-7.3-16.2c-2.4-5.5-4.4-10.9-6.3-16.3c-2-5.4-3.5-10.8-4.6-16.3c-1.1-5.4-1.8-10.8-1.8-16.2c0.1-5.5 0.2-10.9 0.5-16.3c0.3-6.2 0.6-12.4 0.9-18.6c0.2-6.2 0.4-12.4 0.4-18.6c0-6.2-0.2-12.4-0.4-18.6c-0.2-6.2-0.5-12.4-0.9-18.6c-0.4-6.2-1-12.4-1.8-18.6c-0.9-6.2-1.9-12.4-2.8-18.6c-0.7-5.4-1.5-10.8-2.2-16.2c-0.8-5.4-0.9-10.9-0.9-16.3c0-5.4 0.7-10.8 1.8-16.3c1.2-6.2 2.9-12.4 5-18.6c2.1-6.2 4.2-12.3 7.2-18.5c3.1-6.2 6.3-12.4 9.5-18.6c3.3-6.2 6.7-12.4 10-18.6c3.3-6.2 6.2-12.4 9.1-18.6c2.8-6.2 4.9-12.4 6.3-18.6c1.2-5.4 1.9-10.9 2.3-16.3c0.5-8.2 1-16.4 1-24.6Z" fill="#48e598"/>
<path d="M836.1 3447.3c0 7 0.4 14 1 21c0.4 4.6 1.5 9.3 3.2 13.9c2 5.4 4.5 10.8 8.2 16.3c3.6 5.4 7.2 10.8 10.8 16.2c3.7 5.5 7.3 10.9 10.9 16.3c3.6 5.4 6.4 10.9 9.1 16.3c2.7 5.4 4.6 10.8 6.3 16.2c1.7 5.5 2.6 10.9 2.7 16.3c0.1 4.7-0.3 9.3-1.8 14c-1.7 5.4-3.5 10.8-5.9 16.2c-2.3 5.4-4.9 10.9-7.2 16.3c-2.3 5.4-4.6 10.8-6.8 16.3c-2.2 5.4-4.1 10.8-5.9 16.2c-1.8 5.5-3.2 10.9-4.5 16.3c-1.4 5.4-2.6 10.8-3.2 16.3c-0.6 5.4-1.1 10.8-1.4 16.2c-0.3 5.5-0.6 10.9-0.9 16.3c-0.3 6.2-0.5 12.4-0.9 18.6c-0.3 6.2-1 12.4-1.8 18.6c-0.8 6.2-1.7 12.4-2.7 18.6c-1 6.2-2.2 12.4-3.2 18.6c-1 6.2-1.9 12.4-2.7 18.6c-0.7 5.4-1.4 10.8-1.8 16.2c-0.6 7.5-1.2 14.9-1.5 22.3H835.4c-0.3-7.4-0.8-14.8-1.4-22.3c-0.5-5.4-1.1-10.8-1.9-16.2c-0.8-6.2-1.7-12.4-2.7-18.6c-1-6.2-2.1-12.4-3.2-18.6c-1-6.2-1.9-12.4-2.7-18.6c-0.8-6.2-1.4-12.4-1.8-18.6c-0.3-6.2-0.6-12.4-0.9-18.6c-0.3-5.4-0.6-10.8-0.9-16.3c-0.3-5.4-0.8-10.8-1.4-16.2c-0.6-5.5-1.8-10.9-3.1-16.3c-1.3-5.4-2.8-10.8-4.6-16.3c-1.7-5.4-3.7-10.8-5.9-16.2c-2.1-5.5-4.4-10.9-6.8-16.3c-2.3-5.4-4.8-10.9-7.2-16.3c-2.4-5.4-4.2-10.8-5.9-16.2c-1.4-4.7-1.9-9.3-1.8-14c0.1-5.4 1-10.8 2.7-16.3c1.7-5.4 3.6-10.8 6.4-16.2c2.7-5.4 5.4-10.9 9-16.3c3.6-5.4 7.3-10.8 10.9-16.3c3.6-5.4 7.2-10.8 10.9-16.2c3.6-5.5 6.1-10.9 8.1-16.3c1.7-4.6 2.8-9.3 3.2-13.9c0.6-7 1-14 1-21Z" fill="#b0f653"/>
<path d="M954.2 3422.7c0 9 0.5 18 1 27c0.4 6.2 1 12.4 2.3 18.6c1.2 6.2 2.7 12.4 4.5 18.6c1.8 6.1 3.6 12.3 5.4 18.5c1.8 6.2 3.6 12.4 5.5 18.6c1.8 6.2 3.3 12.4 4.9 18.6c1.7 6.2 3.2 12.4 4.6 18.6c1.4 6.2 2.3 12.4 3.2 18.6c0.8 6.2 1.4 12.4 1.8 18.6c0.4 6.2 0.9 12.4 0.4 18.6c-0.4 6.2-0.9 12.4-1.3 18.6c-0.5 6.2-0.9 12.4-1.4 18.6c-0.5 6.2-0.3 12.4 0 18.6c0.3 6.2 1.1 12.4 3.2 18.6c2.1 6.2 4.2 12.4 6.3 18.6c2.1 6.2 4.2 12.4 6.4 18.6c2.1 6.2 3.4 12.3 4.5 18.5c0.7 3.9 0.9 7.8 0.9 11.7c0 3.8-0.2 7.7-0.9 11.6c-1 5.4-2.4 10.8-4.5 16.3c-2.1 5.4-4.3 10.8-6.8 16.2c-2.6 5.4-5.1 10.9-7.7 16.3c-2.7 5.4-5.6 10.8-8.2 16.3c-2.6 5.4-5 10.8-7.3 16.2c-2.2 5.5-4.4 10.9-6.3 16.3c-1.9 5.4-3.5 10.8-5 16.3c-1.2 4.6-2.3 9.3-3.2 13.9c-0.5 3.1-1 6.2-1.3 9.3c-0.5 4.2-0.8 8.4-1 12.6H953.5c-0.2-4.2-0.6-8.4-1-12.6c-0.4-3.1-0.8-6.2-1.4-9.3c-0.8-4.6-1.9-9.3-3.2-13.9c-1.4-5.5-3-10.9-4.9-16.3c-2-5.4-4.1-10.8-6.4-16.3c-2.3-5.4-4.6-10.8-7.2-16.2c-2.7-5.5-5.6-10.9-8.2-16.3c-2.6-5.4-5.2-10.9-7.7-16.3c-2.5-5.4-4.7-10.8-6.8-16.2c-2.1-5.5-3.5-10.9-4.5-16.3c-0.7-3.9-1-7.8-0.9-11.6c0-3.9 0.2-7.8 0.9-11.7c1.1-6.2 2.4-12.3 4.5-18.5c2.1-6.2 4.2-12.4 6.3-18.6c2.2-6.2 4.3-12.4 6.4-18.6c2.1-6.2 2.8-12.4 3.2-18.6c0.3-6.2 0.4-12.4 0-18.6c-0.5-6.2-0.9-12.4-1.4-18.6c-0.5-6.2-0.9-12.4-1.4-18.6c-0.4-6.2 0.1-12.4 0.5-18.6c0.4-6.2 1-12.4 1.8-18.6c0.8-6.2 1.8-12.4 3.2-18.6c1.4-6.2 2.9-12.4 4.5-18.6c1.6-6.2 3.2-12.4 5-18.6c1.8-6.2 3.6-12.4 5.4-18.6c1.8-6.2 3.7-12.4 5.5-18.5c1.8-6.2 3.3-12.4 4.5-18.6c1.2-6.2 1.9-12.4 2.3-18.6c0.5-9 1-18 1-27Z" fill="#48e598"/>
<path d="M1072.2 3499.9c0.1 2.6 1.2 5.2 2.4 7.9c1.4 3.1 6.1 6.2 8.6 9.3c2.6 3.1 5.8 6.2 5.9 9.3c0.1 3.1-2.5 6.2-4.5 9.3c-2.1 3.1-4.8 6.2-6.8 9.3c-1.5 2.3-2.1 4.6-2.3 6.9c-0.1 2.3 1.4 4.7 4.5 7c3.2 2.3 7.3 4.6 12.3 7c4.9 2.3 10.9 4.6 15.8 6.9c5 2.4 9 4.7 12.7 7c2.5 1.6 3.8 3.1 3.7 4.7c-0.2 1.8-1.6 3.7-4.6 5.5c-3.9 2.5-8 5-12.7 7.5c-4 2.1-8.8 4.3-12.7 6.5c-3.8 2.2-7 4.3-9.9 6.5c-3 2.2-5.6 4.3-7.3 6.5c-1.4 1.9-2.4 3.7-3.1 5.6c-0.8 2-1.9 4-1.9 6c0 16.3 0 32.6 0 48.8c0 2.3 1.1 4.7 2.8 7c2.1 3.1 4.6 6.2 6.8 9.3c1.8 2.6 3.7 5.3 5.4 7.9c1.5 2.3 1.9 4.6 1.8 7c-0.1 2.3-0.8 4.6-2.7 6.9c-1.9 2.4-4.5 4.7-6.4 7c-1.6 2-3.2 4-4.5 6.1c-1.5 2.3-2.5 4.6-3.3 6.9H1071.5c-0.7-2.3-1.7-4.6-3.2-6.9c-1.3-2.1-2.9-4.1-4.6-6.1c-1.8-2.3-4.4-4.6-6.3-7c-1.9-2.3-2.7-4.6-2.7-6.9c-0.1-2.4 0.2-4.7 1.8-7c1.7-2.6 3.5-5.3 5.4-7.9c2.2-3.1 4.7-6.2 6.8-9.3c1.6-2.3 2.7-4.7 2.7-7c0-16.2 0-32.5 0-48.8c0-2-1-4-1.8-6c-0.7-1.9-1.7-3.7-3.1-5.6c-1.7-2.2-4.4-4.3-7.3-6.5c-2.9-2.2-6.1-4.3-10-6.5c-3.9-2.2-8.6-4.4-12.7-6.5c-4.6-2.5-8.7-5-12.6-7.5c-3-1.8-4.4-3.7-4.6-5.5c-0.1-1.6 1.2-3.1 3.6-4.7c3.7-2.3 7.8-4.6 12.7-7c5-2.3 11-4.6 15.9-6.9c4.9-2.4 9-4.7 12.2-7c3.2-2.3 4.7-4.7 4.6-7c-0.2-2.3-0.8-4.6-2.3-6.9c-2-3.1-4.7-6.2-6.8-9.3c-2.1-3.1-4.6-6.2-4.5-9.3c0-3.1 3.3-6.2 5.9-9.3c2.5-3.1 7.2-6.2 8.6-9.3c1.1-2.7 2.3-5.3 2.3-7.9Z" fill="#b0f653"/>
<path d="M1190.8 3513.8c0 6.5 0.6 13 1.4 19.5c0.7 5.5 2.6 10.9 4.6 16.3c1.9 5.4 4.3 10.8 6.3 16.3c1.7 4.6 3.2 9.3 4.5 13.9c1.1 3.9 1.5 7.8 1.4 11.6c-0.1 3.9-0.7 7.8-1.8 11.7c-1.4 4.6-2.8 9.3-4.5 13.9c-1.8 4.6-3.7 9.3-5.5 13.9c-1.4 3.9-3 7.8-4.1 11.7c-0.8 3.1-2.2 6.2-2.2 9.3c0 12.4 0 24.7 0 37.1c0 3.1 1.2 6.2 2.2 9.3c1 3.1 2.6 6.2 4.6 9.3c2 3.1 4.3 6.2 7.2 9.3c2.9 3.1 5.9 6.2 9.1 9.3c3.2 3.1 6.7 6.2 10 9.3c3.2 3.1 6.1 6.2 9 9.3c2.9 3.1 5.2 6.2 7.3 9.3c2 3.1 2.7 6.2 2.7 9.3c0 2.6-0.7 5.3-2.7 7.9c-2.4 3.1-4.9 6.2-8.2 9.3c-3.3 3.1-6.6 6.2-10 9.3c-3.3 3.1-6.6 6.2-9.9 9.3c-3.4 3.1-5.7 6.2-8.2 9.3c-2.4 3.1-4.6 6.2-6.3 9.3c-1.8 3.1-3.2 6.2-4.1 9.3c-0.8 2.8-1.5 5.6-1.8 8.4c-0.5 3.8-1 7.7-1 11.6H1190.1c-0.1-3.9-0.6-7.8-1-11.6c-0.4-2.8-1-5.6-1.9-8.4c-0.9-3.1-2.3-6.2-4-9.3c-1.8-3.1-3.9-6.2-6.4-9.3c-2.4-3.1-4.8-6.2-8.1-9.3c-3.4-3.1-6.7-6.2-10-9.3c-3.3-3.1-6.7-6.2-10-9.3c-3.3-3.1-5.8-6.2-8.1-9.3c-2-2.6-2.7-5.3-2.8-7.9c0-3.1 0.7-6.2 2.8-9.3c2-3.1 4.3-6.2 7.2-9.3c2.9-3.1 5.9-6.2 9.1-9.3c3.2-3.1 6.7-6.2 10-9.3c3.2-3.1 6.1-6.2 9-9.3c2.9-3.1 5.3-6.2 7.3-9.3c2-3.1 3.5-6.2 4.5-9.3c1-3.1 2.3-6.2 2.3-9.3c0-12.4 0-24.7 0-37.1c0-3.1-1.4-6.2-2.3-9.3c-1.1-3.9-2.6-7.8-4.1-11.7c-1.7-4.6-3.7-9.3-5.4-13.9c-1.8-4.6-3.2-9.3-4.6-13.9c-1.1-3.9-1.6-7.8-1.8-11.7c-0.1-3.8 0.3-7.7 1.4-11.6c1.3-4.6 2.8-9.3 4.5-13.9c2-5.5 4.4-10.9 6.4-16.3c1.9-5.4 3.9-10.8 4.5-16.3c0.8-6.5 1.5-13 1.5-19.5Z" fill="#48e598"/>
<path d="M1308.8 3344.2c0 10.3 0.5 20.7 1 31.1c0.4 6.2 1.1 12.4 2.3 18.6c1.3 7 3.2 13.9 5.4 20.9c2.3 7 4.6 13.9 7.3 20.9c2.7 7 5.4 14 8.2 20.9c2.7 7 5.4 14 8.1 21c2.7 6.9 5 13.9 7.3 20.9c2.2 6.9 4.1 13.9 5.9 20.9c1.7 7 3 13.9 4 20.9c1.1 7 1.9 13.9 2.3 20.9c0.4 6.2 0.5 12.4 0.5 18.6c-0.1 6.2-0.3 12.4-1 18.6c-0.6 6.2-1.5 12.4-2.7 18.6c-1.1 6.2-2.5 12.4-3.6 18.6c-1.1 6.2-2.3 12.4-3.2 18.6c-0.9 6.2-1.4 12.4-1.8 18.6c-0.4 6.2-0.8 12.4-0.9 18.6c-0.1 6.2-0.1 12.4 0 18.6c0.1 6.2 0.4 12.4 0.5 18.6c0.1 6.2 0 12.3 0 18.5c-0.1 6.2-0.4 12.4-0.9 18.6c-0.6 6.2-1.6 12.4-2.8 18.6c-1.2 6.2-2.5 12.4-4 18.6c-1.6 6.2-3.2 12.4-5 18.6c-1.8 6.2-3.7 12.4-5.5 18.6c-1.8 6.2-3.6 12.4-5.4 18.6c-1.8 6.2-3.4 12.4-5 18.6c-1.6 6.2-3.2 12.4-4.5 18.6c-1.4 6.2-2.2 12.4-3.2 18.6c-0.7 4.6-1.5 9.3-1.8 13.9c-0.2 3.9-0.3 7.8-0.5 11.6c-0.2 4.7-0.5 9.3-1 14H1308.1c-0.4-4.7-0.7-9.3-1-14c-0.2-3.8-0.2-7.7-0.4-11.6c-0.3-4.6-1.1-9.3-1.8-13.9c-1-6.2-1.9-12.4-3.2-18.6c-1.4-6.2-2.9-12.4-4.5-18.6c-1.7-6.2-3.2-12.4-5-18.6c-1.8-6.2-3.7-12.4-5.5-18.6c-1.8-6.2-3.6-12.4-5.4-18.6c-1.8-6.2-3.4-12.4-5-18.6c-1.6-6.2-2.9-12.4-4.1-18.6c-1.2-6.2-2.2-12.4-2.7-18.6c-0.5-6.2-0.8-12.4-0.9-18.6c-0.1-6.2-0.1-12.3 0-18.5c0.1-6.2 0.4-12.4 0.5-18.6c0.1-6.2 0.1-12.4 0-18.6c-0.1-6.2-0.5-12.4-1-18.6c-0.4-6.2-0.9-12.4-1.8-18.6c-0.9-6.2-2-12.4-3.1-18.6c-1.2-6.2-2.5-12.4-3.7-18.6c-1.1-6.2-2-12.4-2.7-18.6c-0.6-6.2-0.8-12.4-0.9-18.6c0-6.2 0.1-12.4 0.5-18.6c0.4-7 1.2-13.9 2.2-20.9c1.1-7 2.4-13.9 4.1-20.9c1.7-7 3.6-14 5.9-20.9c2.3-7 4.5-14 7.3-20.9c2.7-7 5.4-14 8.1-21c2.7-6.9 5.4-13.9 8.2-20.9c2.7-7 4.9-13.9 7.2-20.9c2.3-7 4.1-13.9 5.5-20.9c1.1-6.2 1.9-12.4 2.2-18.6c0.6-10.4 1-20.8 1-31.1Z" fill="#b0f653"/>
</g>
<g clip-path="url(#cp_j)" stroke="#000" fill="none">
<path d="M244.8 3536.6V3606.8M244.8 3700.7V3769" stroke-width="3.3"/>
<rect x="236.2" y="3606.8" width="17.3" height="93.9" stroke-width="3.3" fill="#48e598" fill-opacity="0.9"/>
<path d="M234.6 3651.9H255.1" stroke-width="6.4"/>
<path d="M362.9 3388.3V3483.1M362.9 3658.8V3719.3" stroke-width="3.3"/>
<rect x="354.2" y="3483.1" width="17.3" height="175.7" stroke-width="3.3" fill="#b0f653" fill-opacity="0.9"/>
<path d="M352.6 3599.3H373.1" stroke-width="6.4"/>
<path d="M480.9 3637.9V3664.4M480.9 3756.4V3771.8" stroke-width="3.3"/>
<rect x="472.3" y="3664.4" width="17.3" height="92" stroke-width="3.3" fill="#48e598" fill-opacity="0.9"/>
<path d="M470.7 3691.4H491.2" stroke-width="6.4"/>
<path d="M599.5 3562.6V3612.4M599.5 3726.2V3762" stroke-width="3.3"/>
<rect x="590.8" y="3612.4" width="17.3" height="113.9" stroke-width="3.3" fill="#b0f653" fill-opacity="0.9"/>
<path d="M589.2 3627.7H609.7" stroke-width="6.4"/>
<path d="M717.5 3569.1V3587.7M717.5 3742.5V3771.8" stroke-width="3.3"/>
<rect x="708.9" y="3587.7" width="17.3" height="154.8" stroke-width="3.3" fill="#48e598" fill-opacity="0.9"/>
<path d="M707.3 3652.8H727.8" stroke-width="6.4"/>
<path d="M835.8 3551.9V3575.2M835.8 3651.9V3750.9" stroke-width="3.3"/>
<rect x="827.1" y="3575.2" width="17.3" height="76.7" stroke-width="3.3" fill="#b0f653" fill-opacity="0.9"/>
<path d="M825.5 3589.1H846" stroke-width="6.4"/>
<path d="M953.8 3575.2V3624.9M953.8 3756.4V3768.1" stroke-width="3.3"/>
<rect x="945.2" y="3624.9" width="17.3" height="131.5" stroke-width="3.3" fill="#48e598" fill-opacity="0.9"/>
<path d="M943.6 3749.5H964.1" stroke-width="6.4"/>
<path d="M1071.9 3570.5V3573.8M1071.9 3593.8V3599.8" stroke-width="3.3"/>
<rect x="1063.2" y="3573.8" width="17.3" height="20" stroke-width="3.3" fill="#b0f653" fill-opacity="0.9"/>
<path d="M1061.6 3589.1H1082.1" stroke-width="6.4"/>
<rect x="1181.8" y="3712.3" width="17.3" height="58.6" stroke-width="3.3" fill="#48e598" fill-opacity="0.9"/>
<path d="M1180.2 3764.3H1200.7" stroke-width="6.4"/>
<path d="M1308.5 3527.3V3571.9M1308.5 3734.1V3771.8" stroke-width="3.3"/>
<rect x="1299.8" y="3571.9" width="17.3" height="162.2" stroke-width="3.3" fill="#b0f653" fill-opacity="0.9"/>
<path d="M1298.2 3615.6H1318.7" stroke-width="6.4"/>
</g>
<path d="M172.2 3772.1H1372.2" stroke="#000" stroke-width="1.6" stroke-dasharray="42.9 42.9" stroke-dashoffset="21.4" fill="none" clip-path="url(#cp_j)"/>
<path d="M152.2 3312.8H162M152.2 3542.5H162M152.2 3772.1H162M303.8 3993V4002.8M540.2 3993V4002.8M776.6 3993V4002.8M1013 3993V4002.8M1249.4 3993V4002.8" stroke="#333333" stroke-width="3.9" fill="none"/>
<g font-family='"Liberation Sans", Arial, sans-serif' font-size="33" fill="#4d4d4d" stroke="#4d4d4d" stroke-width="0.4">
<text x="144.4" y="3324.7" text-anchor="end">0.2</text>
<text x="144.4" y="3554.4" text-anchor="end">0.1</text>
<text x="144.4" y="3784" text-anchor="end">0.0</text>
<text x="303.8" y="4034" text-anchor="middle">0</text>
<text x="540.2" y="4034" text-anchor="middle">6</text>
<text x="776.6" y="4034" text-anchor="middle">12</text>
<text x="1013" y="4034" text-anchor="middle">24</text>
<text x="1249.4" y="4034" text-anchor="middle">48</text>
</g>
<g font-family='"DejaVu Sans", "Liberation Sans", sans-serif' font-size="44" fill="#000">
<text x="778.5" y="4083.1" text-anchor="middle">Distance (m)</text>
<text transform="translate(84.7 3548.4) rotate(-90)" text-anchor="middle">CWV Seed dispersion</text>
</g>
<text x="42.4" y="3132.7" font-family='"Liberation Sans", Arial, sans-serif' font-size="42" font-weight="bold" fill="#000">(j)</text>
<text x="1998" y="3476" font-family='"Liberation Sans", Arial, sans-serif' font-size="51.8" fill="#000">Hedgerow type</text>
<rect x="2001.9" y="3510.9" width="76.3" height="76.3" fill="#f2f2f2"/>
<rect x="2001.9" y="3510.9" width="76.3" height="76.3" fill="#48e598" fill-opacity="0.9" stroke="#4a4a4a" stroke-width="3.4"/>
<path d="M2040 3516V3528.8M2040 3570.1V3582.4" stroke="#000" stroke-width="3.5" fill="none"/>
<rect x="2009" y="3528.8" width="62.3" height="41.3" fill="#48e598" fill-opacity="0.9" stroke="#000" stroke-width="3.4"/>
<path d="M2009 3549.4H2071.3" stroke="#000" stroke-width="3.4" fill="none"/>
<text x="2115" y="3567" font-family='"DejaVu Sans", "Liberation Sans", sans-serif' font-size="44" fill="#000">Arboreal</text>
<rect x="2001.9" y="3594.4" width="76.3" height="76.3" fill="#f2f2f2"/>
<rect x="2001.9" y="3594.4" width="76.3" height="76.3" fill="#b0f653" fill-opacity="0.9" stroke="#4a4a4a" stroke-width="3.4"/>
<path d="M2040 3599.5V3612.3M2040 3653.6V3665.9" stroke="#000" stroke-width="3.5" fill="none"/>
<rect x="2009" y="3612.3" width="62.3" height="41.3" fill="#b0f653" fill-opacity="0.9" stroke="#000" stroke-width="3.4"/>
<path d="M2009 3632.9H2071.3" stroke="#000" stroke-width="3.4" fill="none"/>
<text x="2115" y="3650.5" font-family='"DejaVu Sans", "Liberation Sans", sans-serif' font-size="44" fill="#000">Shrubby</text>
</svg></body></html>
